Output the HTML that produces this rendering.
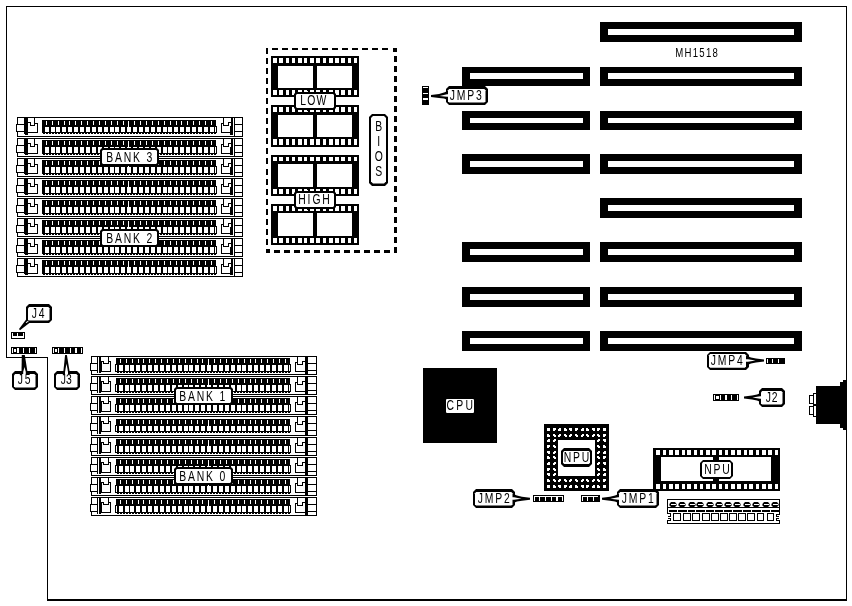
<!DOCTYPE html>
<html><head><meta charset="utf-8"><title>MH1518</title>
<style>
html,body{margin:0;padding:0;background:#fff;}
svg{display:block;filter:grayscale(1);}
text{font-family:"Liberation Sans",sans-serif;}
</style></head>
<body>
<svg width="852" height="606" viewBox="0 0 852 606" shape-rendering="crispEdges">
<rect x="0" y="0" width="852" height="606" fill="#fff"/>
<rect x="6" y="6" width="841" height="1" fill="#000"/>
<rect x="6" y="6" width="1" height="352" fill="#000"/>
<rect x="846" y="6" width="1" height="595" fill="#000"/>
<rect x="6" y="357" width="42" height="1" fill="#000"/>
<rect x="47" y="357" width="1" height="244" fill="#000"/>
<rect x="47" y="599" width="800" height="2" fill="#000"/>
<rect x="600" y="22" width="202" height="20" fill="#000"/>
<rect x="608" y="29" width="186" height="6" fill="#fff"/>
<rect x="600" y="67" width="202" height="19" fill="#000"/>
<rect x="608" y="73" width="186" height="6" fill="#fff"/>
<rect x="462" y="67" width="128" height="19" fill="#000"/>
<rect x="470" y="73" width="113" height="6" fill="#fff"/>
<rect x="600" y="111" width="202" height="19" fill="#000"/>
<rect x="608" y="118" width="186" height="5" fill="#fff"/>
<rect x="462" y="111" width="128" height="19" fill="#000"/>
<rect x="470" y="118" width="113" height="5" fill="#fff"/>
<rect x="600" y="154" width="202" height="20" fill="#000"/>
<rect x="608" y="161" width="186" height="6" fill="#fff"/>
<rect x="462" y="154" width="128" height="20" fill="#000"/>
<rect x="470" y="161" width="113" height="6" fill="#fff"/>
<rect x="600" y="198" width="202" height="20" fill="#000"/>
<rect x="608" y="205" width="186" height="6" fill="#fff"/>
<rect x="600" y="242" width="202" height="20" fill="#000"/>
<rect x="608" y="249" width="186" height="6" fill="#fff"/>
<rect x="462" y="242" width="128" height="20" fill="#000"/>
<rect x="470" y="249" width="113" height="6" fill="#fff"/>
<rect x="600" y="287" width="202" height="20" fill="#000"/>
<rect x="608" y="294" width="186" height="6" fill="#fff"/>
<rect x="462" y="287" width="128" height="20" fill="#000"/>
<rect x="470" y="294" width="113" height="6" fill="#fff"/>
<rect x="600" y="331" width="202" height="20" fill="#000"/>
<rect x="608" y="338" width="186" height="6" fill="#fff"/>
<rect x="462" y="331" width="128" height="20" fill="#000"/>
<rect x="470" y="338" width="113" height="6" fill="#fff"/>
<rect x="17" y="117" width="226" height="20" fill="#000"/>
<rect x="18" y="118" width="224" height="18" fill="#fff"/>
<rect x="16" y="124" width="9" height="8" fill="#000"/>
<rect x="17" y="125" width="7" height="6" fill="#fff"/>
<rect x="24" y="117" width="4" height="17" fill="#000"/>
<rect x="25" y="134" width="3" height="1" fill="#000"/>
<rect x="28" y="122" width="3" height="1" fill="#000"/>
<rect x="30" y="122" width="1" height="4" fill="#000"/>
<rect x="30" y="125" width="5" height="1" fill="#000"/>
<rect x="34" y="117" width="1" height="9" fill="#000"/>
<rect x="35" y="123" width="3" height="1" fill="#000"/>
<rect x="37" y="123" width="1" height="10" fill="#000"/>
<rect x="28" y="132" width="10" height="1" fill="#000"/>
<rect x="42" y="120" width="174" height="13" fill="#000"/>
<rect x="216" y="126" width="1" height="7" fill="#000"/>
<rect x="43" y="133" width="2" height="1" fill="#000"/>
<rect x="46" y="133" width="2" height="1" fill="#000"/>
<rect x="49" y="133" width="2" height="1" fill="#000"/>
<rect x="52" y="133" width="2" height="1" fill="#000"/>
<rect x="55" y="133" width="2" height="1" fill="#000"/>
<rect x="58" y="133" width="2" height="1" fill="#000"/>
<rect x="61" y="133" width="2" height="1" fill="#000"/>
<rect x="64" y="133" width="2" height="1" fill="#000"/>
<rect x="67" y="133" width="2" height="1" fill="#000"/>
<rect x="70" y="133" width="2" height="1" fill="#000"/>
<rect x="73" y="133" width="2" height="1" fill="#000"/>
<rect x="76" y="133" width="2" height="1" fill="#000"/>
<rect x="79" y="133" width="2" height="1" fill="#000"/>
<rect x="82" y="133" width="2" height="1" fill="#000"/>
<rect x="85" y="133" width="2" height="1" fill="#000"/>
<rect x="88" y="133" width="2" height="1" fill="#000"/>
<rect x="91" y="133" width="2" height="1" fill="#000"/>
<rect x="94" y="133" width="2" height="1" fill="#000"/>
<rect x="97" y="133" width="2" height="1" fill="#000"/>
<rect x="100" y="133" width="2" height="1" fill="#000"/>
<rect x="103" y="133" width="2" height="1" fill="#000"/>
<rect x="106" y="133" width="2" height="1" fill="#000"/>
<rect x="109" y="133" width="2" height="1" fill="#000"/>
<rect x="112" y="133" width="2" height="1" fill="#000"/>
<rect x="115" y="133" width="2" height="1" fill="#000"/>
<rect x="118" y="133" width="2" height="1" fill="#000"/>
<rect x="121" y="133" width="2" height="1" fill="#000"/>
<rect x="124" y="133" width="2" height="1" fill="#000"/>
<rect x="127" y="133" width="2" height="1" fill="#000"/>
<rect x="130" y="133" width="2" height="1" fill="#000"/>
<rect x="133" y="133" width="2" height="1" fill="#000"/>
<rect x="136" y="133" width="2" height="1" fill="#000"/>
<rect x="139" y="133" width="2" height="1" fill="#000"/>
<rect x="142" y="133" width="2" height="1" fill="#000"/>
<rect x="145" y="133" width="2" height="1" fill="#000"/>
<rect x="148" y="133" width="2" height="1" fill="#000"/>
<rect x="151" y="133" width="2" height="1" fill="#000"/>
<rect x="154" y="133" width="2" height="1" fill="#000"/>
<rect x="157" y="133" width="2" height="1" fill="#000"/>
<rect x="160" y="133" width="2" height="1" fill="#000"/>
<rect x="163" y="133" width="2" height="1" fill="#000"/>
<rect x="166" y="133" width="2" height="1" fill="#000"/>
<rect x="169" y="133" width="2" height="1" fill="#000"/>
<rect x="172" y="133" width="2" height="1" fill="#000"/>
<rect x="175" y="133" width="2" height="1" fill="#000"/>
<rect x="178" y="133" width="2" height="1" fill="#000"/>
<rect x="181" y="133" width="2" height="1" fill="#000"/>
<rect x="184" y="133" width="2" height="1" fill="#000"/>
<rect x="187" y="133" width="2" height="1" fill="#000"/>
<rect x="190" y="133" width="2" height="1" fill="#000"/>
<rect x="193" y="133" width="2" height="1" fill="#000"/>
<rect x="196" y="133" width="2" height="1" fill="#000"/>
<rect x="199" y="133" width="2" height="1" fill="#000"/>
<rect x="202" y="133" width="2" height="1" fill="#000"/>
<rect x="205" y="133" width="2" height="1" fill="#000"/>
<rect x="208" y="133" width="2" height="1" fill="#000"/>
<rect x="211" y="133" width="2" height="1" fill="#000"/>
<rect x="214" y="133" width="2" height="1" fill="#000"/>
<rect x="46" y="121" width="1" height="4" fill="#fff"/>
<rect x="45" y="127" width="4" height="5" fill="#fff"/>
<rect x="52" y="121" width="1" height="4" fill="#fff"/>
<rect x="51" y="127" width="4" height="5" fill="#fff"/>
<rect x="58" y="121" width="1" height="4" fill="#fff"/>
<rect x="56" y="127" width="4" height="5" fill="#fff"/>
<rect x="64" y="121" width="1" height="4" fill="#fff"/>
<rect x="62" y="127" width="4" height="5" fill="#fff"/>
<rect x="69" y="121" width="1" height="4" fill="#fff"/>
<rect x="68" y="127" width="4" height="5" fill="#fff"/>
<rect x="75" y="121" width="1" height="4" fill="#fff"/>
<rect x="74" y="127" width="4" height="5" fill="#fff"/>
<rect x="81" y="121" width="1" height="4" fill="#fff"/>
<rect x="80" y="127" width="4" height="5" fill="#fff"/>
<rect x="87" y="121" width="1" height="4" fill="#fff"/>
<rect x="86" y="127" width="4" height="5" fill="#fff"/>
<rect x="93" y="121" width="1" height="4" fill="#fff"/>
<rect x="92" y="127" width="4" height="5" fill="#fff"/>
<rect x="99" y="121" width="1" height="4" fill="#fff"/>
<rect x="98" y="127" width="4" height="5" fill="#fff"/>
<rect x="105" y="121" width="1" height="4" fill="#fff"/>
<rect x="104" y="127" width="4" height="5" fill="#fff"/>
<rect x="111" y="121" width="1" height="4" fill="#fff"/>
<rect x="110" y="127" width="4" height="5" fill="#fff"/>
<rect x="117" y="121" width="1" height="4" fill="#fff"/>
<rect x="115" y="127" width="4" height="5" fill="#fff"/>
<rect x="123" y="121" width="1" height="4" fill="#fff"/>
<rect x="121" y="127" width="4" height="5" fill="#fff"/>
<rect x="128" y="121" width="1" height="6" fill="#fff"/>
<rect x="127" y="127" width="4" height="5" fill="#fff"/>
<rect x="134" y="121" width="1" height="4" fill="#fff"/>
<rect x="133" y="127" width="4" height="5" fill="#fff"/>
<rect x="140" y="121" width="1" height="4" fill="#fff"/>
<rect x="139" y="127" width="4" height="5" fill="#fff"/>
<rect x="146" y="121" width="1" height="4" fill="#fff"/>
<rect x="145" y="127" width="4" height="5" fill="#fff"/>
<rect x="152" y="121" width="1" height="4" fill="#fff"/>
<rect x="151" y="127" width="4" height="5" fill="#fff"/>
<rect x="158" y="121" width="1" height="4" fill="#fff"/>
<rect x="157" y="127" width="4" height="5" fill="#fff"/>
<rect x="164" y="121" width="1" height="4" fill="#fff"/>
<rect x="163" y="127" width="4" height="5" fill="#fff"/>
<rect x="170" y="121" width="1" height="4" fill="#fff"/>
<rect x="168" y="127" width="4" height="5" fill="#fff"/>
<rect x="176" y="121" width="1" height="4" fill="#fff"/>
<rect x="174" y="127" width="4" height="5" fill="#fff"/>
<rect x="181" y="121" width="1" height="4" fill="#fff"/>
<rect x="180" y="127" width="4" height="5" fill="#fff"/>
<rect x="187" y="121" width="1" height="4" fill="#fff"/>
<rect x="186" y="127" width="4" height="5" fill="#fff"/>
<rect x="193" y="121" width="1" height="4" fill="#fff"/>
<rect x="192" y="127" width="4" height="5" fill="#fff"/>
<rect x="199" y="121" width="1" height="4" fill="#fff"/>
<rect x="198" y="127" width="4" height="5" fill="#fff"/>
<rect x="205" y="121" width="1" height="4" fill="#fff"/>
<rect x="204" y="127" width="4" height="5" fill="#fff"/>
<rect x="211" y="121" width="1" height="4" fill="#fff"/>
<rect x="210" y="127" width="4" height="5" fill="#fff"/>
<rect x="215" y="127" width="1" height="5" fill="#fff"/>
<rect x="234" y="117" width="1" height="20" fill="#000"/>
<rect x="231" y="117" width="2" height="18" fill="#000"/>
<rect x="230" y="126" width="1" height="9" fill="#000"/>
<rect x="234" y="124" width="9" height="1" fill="#000"/>
<rect x="234" y="131" width="9" height="1" fill="#000"/>
<rect x="221" y="123" width="1" height="10" fill="#000"/>
<rect x="221" y="123" width="3" height="1" fill="#000"/>
<rect x="221" y="132" width="10" height="1" fill="#000"/>
<rect x="223" y="117" width="1" height="9" fill="#000"/>
<rect x="223" y="125" width="6" height="1" fill="#000"/>
<rect x="228" y="122" width="1" height="4" fill="#000"/>
<rect x="228" y="122" width="3" height="1" fill="#000"/>
<rect x="17" y="138" width="226" height="19" fill="#000"/>
<rect x="18" y="139" width="224" height="17" fill="#fff"/>
<rect x="16" y="145" width="9" height="8" fill="#000"/>
<rect x="17" y="146" width="7" height="6" fill="#fff"/>
<rect x="24" y="138" width="4" height="16" fill="#000"/>
<rect x="25" y="154" width="3" height="1" fill="#000"/>
<rect x="28" y="143" width="3" height="1" fill="#000"/>
<rect x="30" y="143" width="1" height="4" fill="#000"/>
<rect x="30" y="146" width="5" height="1" fill="#000"/>
<rect x="34" y="138" width="1" height="9" fill="#000"/>
<rect x="35" y="144" width="3" height="1" fill="#000"/>
<rect x="37" y="144" width="1" height="10" fill="#000"/>
<rect x="28" y="153" width="10" height="1" fill="#000"/>
<rect x="42" y="140" width="174" height="14" fill="#000"/>
<rect x="216" y="146" width="1" height="8" fill="#000"/>
<rect x="43" y="154" width="2" height="1" fill="#000"/>
<rect x="46" y="154" width="2" height="1" fill="#000"/>
<rect x="49" y="154" width="2" height="1" fill="#000"/>
<rect x="52" y="154" width="2" height="1" fill="#000"/>
<rect x="55" y="154" width="2" height="1" fill="#000"/>
<rect x="58" y="154" width="2" height="1" fill="#000"/>
<rect x="61" y="154" width="2" height="1" fill="#000"/>
<rect x="64" y="154" width="2" height="1" fill="#000"/>
<rect x="67" y="154" width="2" height="1" fill="#000"/>
<rect x="70" y="154" width="2" height="1" fill="#000"/>
<rect x="73" y="154" width="2" height="1" fill="#000"/>
<rect x="76" y="154" width="2" height="1" fill="#000"/>
<rect x="79" y="154" width="2" height="1" fill="#000"/>
<rect x="82" y="154" width="2" height="1" fill="#000"/>
<rect x="85" y="154" width="2" height="1" fill="#000"/>
<rect x="88" y="154" width="2" height="1" fill="#000"/>
<rect x="91" y="154" width="2" height="1" fill="#000"/>
<rect x="94" y="154" width="2" height="1" fill="#000"/>
<rect x="97" y="154" width="2" height="1" fill="#000"/>
<rect x="100" y="154" width="2" height="1" fill="#000"/>
<rect x="103" y="154" width="2" height="1" fill="#000"/>
<rect x="106" y="154" width="2" height="1" fill="#000"/>
<rect x="109" y="154" width="2" height="1" fill="#000"/>
<rect x="112" y="154" width="2" height="1" fill="#000"/>
<rect x="115" y="154" width="2" height="1" fill="#000"/>
<rect x="118" y="154" width="2" height="1" fill="#000"/>
<rect x="121" y="154" width="2" height="1" fill="#000"/>
<rect x="124" y="154" width="2" height="1" fill="#000"/>
<rect x="127" y="154" width="2" height="1" fill="#000"/>
<rect x="130" y="154" width="2" height="1" fill="#000"/>
<rect x="133" y="154" width="2" height="1" fill="#000"/>
<rect x="136" y="154" width="2" height="1" fill="#000"/>
<rect x="139" y="154" width="2" height="1" fill="#000"/>
<rect x="142" y="154" width="2" height="1" fill="#000"/>
<rect x="145" y="154" width="2" height="1" fill="#000"/>
<rect x="148" y="154" width="2" height="1" fill="#000"/>
<rect x="151" y="154" width="2" height="1" fill="#000"/>
<rect x="154" y="154" width="2" height="1" fill="#000"/>
<rect x="157" y="154" width="2" height="1" fill="#000"/>
<rect x="160" y="154" width="2" height="1" fill="#000"/>
<rect x="163" y="154" width="2" height="1" fill="#000"/>
<rect x="166" y="154" width="2" height="1" fill="#000"/>
<rect x="169" y="154" width="2" height="1" fill="#000"/>
<rect x="172" y="154" width="2" height="1" fill="#000"/>
<rect x="175" y="154" width="2" height="1" fill="#000"/>
<rect x="178" y="154" width="2" height="1" fill="#000"/>
<rect x="181" y="154" width="2" height="1" fill="#000"/>
<rect x="184" y="154" width="2" height="1" fill="#000"/>
<rect x="187" y="154" width="2" height="1" fill="#000"/>
<rect x="190" y="154" width="2" height="1" fill="#000"/>
<rect x="193" y="154" width="2" height="1" fill="#000"/>
<rect x="196" y="154" width="2" height="1" fill="#000"/>
<rect x="199" y="154" width="2" height="1" fill="#000"/>
<rect x="202" y="154" width="2" height="1" fill="#000"/>
<rect x="205" y="154" width="2" height="1" fill="#000"/>
<rect x="208" y="154" width="2" height="1" fill="#000"/>
<rect x="211" y="154" width="2" height="1" fill="#000"/>
<rect x="214" y="154" width="2" height="1" fill="#000"/>
<rect x="46" y="141" width="1" height="4" fill="#fff"/>
<rect x="45" y="147" width="4" height="6" fill="#fff"/>
<rect x="52" y="141" width="1" height="4" fill="#fff"/>
<rect x="51" y="147" width="4" height="6" fill="#fff"/>
<rect x="58" y="141" width="1" height="4" fill="#fff"/>
<rect x="56" y="147" width="4" height="6" fill="#fff"/>
<rect x="64" y="141" width="1" height="4" fill="#fff"/>
<rect x="62" y="147" width="4" height="6" fill="#fff"/>
<rect x="69" y="141" width="1" height="4" fill="#fff"/>
<rect x="68" y="147" width="4" height="6" fill="#fff"/>
<rect x="75" y="141" width="1" height="4" fill="#fff"/>
<rect x="74" y="147" width="4" height="6" fill="#fff"/>
<rect x="81" y="141" width="1" height="4" fill="#fff"/>
<rect x="80" y="147" width="4" height="6" fill="#fff"/>
<rect x="87" y="141" width="1" height="4" fill="#fff"/>
<rect x="86" y="147" width="4" height="6" fill="#fff"/>
<rect x="93" y="141" width="1" height="4" fill="#fff"/>
<rect x="92" y="147" width="4" height="6" fill="#fff"/>
<rect x="99" y="141" width="1" height="4" fill="#fff"/>
<rect x="98" y="147" width="4" height="6" fill="#fff"/>
<rect x="105" y="141" width="1" height="4" fill="#fff"/>
<rect x="104" y="147" width="4" height="6" fill="#fff"/>
<rect x="111" y="141" width="1" height="4" fill="#fff"/>
<rect x="110" y="147" width="4" height="6" fill="#fff"/>
<rect x="117" y="141" width="1" height="4" fill="#fff"/>
<rect x="115" y="147" width="4" height="6" fill="#fff"/>
<rect x="123" y="141" width="1" height="4" fill="#fff"/>
<rect x="121" y="147" width="4" height="6" fill="#fff"/>
<rect x="128" y="141" width="1" height="6" fill="#fff"/>
<rect x="127" y="147" width="4" height="6" fill="#fff"/>
<rect x="134" y="141" width="1" height="4" fill="#fff"/>
<rect x="133" y="147" width="4" height="6" fill="#fff"/>
<rect x="140" y="141" width="1" height="4" fill="#fff"/>
<rect x="139" y="147" width="4" height="6" fill="#fff"/>
<rect x="146" y="141" width="1" height="4" fill="#fff"/>
<rect x="145" y="147" width="4" height="6" fill="#fff"/>
<rect x="152" y="141" width="1" height="4" fill="#fff"/>
<rect x="151" y="147" width="4" height="6" fill="#fff"/>
<rect x="158" y="141" width="1" height="4" fill="#fff"/>
<rect x="157" y="147" width="4" height="6" fill="#fff"/>
<rect x="164" y="141" width="1" height="4" fill="#fff"/>
<rect x="163" y="147" width="4" height="6" fill="#fff"/>
<rect x="170" y="141" width="1" height="4" fill="#fff"/>
<rect x="168" y="147" width="4" height="6" fill="#fff"/>
<rect x="176" y="141" width="1" height="4" fill="#fff"/>
<rect x="174" y="147" width="4" height="6" fill="#fff"/>
<rect x="181" y="141" width="1" height="4" fill="#fff"/>
<rect x="180" y="147" width="4" height="6" fill="#fff"/>
<rect x="187" y="141" width="1" height="4" fill="#fff"/>
<rect x="186" y="147" width="4" height="6" fill="#fff"/>
<rect x="193" y="141" width="1" height="4" fill="#fff"/>
<rect x="192" y="147" width="4" height="6" fill="#fff"/>
<rect x="199" y="141" width="1" height="4" fill="#fff"/>
<rect x="198" y="147" width="4" height="6" fill="#fff"/>
<rect x="205" y="141" width="1" height="4" fill="#fff"/>
<rect x="204" y="147" width="4" height="6" fill="#fff"/>
<rect x="211" y="141" width="1" height="4" fill="#fff"/>
<rect x="210" y="147" width="4" height="6" fill="#fff"/>
<rect x="215" y="147" width="1" height="6" fill="#fff"/>
<rect x="234" y="138" width="1" height="19" fill="#000"/>
<rect x="231" y="138" width="2" height="17" fill="#000"/>
<rect x="230" y="147" width="1" height="8" fill="#000"/>
<rect x="234" y="145" width="9" height="1" fill="#000"/>
<rect x="234" y="152" width="9" height="1" fill="#000"/>
<rect x="221" y="144" width="1" height="10" fill="#000"/>
<rect x="221" y="144" width="3" height="1" fill="#000"/>
<rect x="221" y="153" width="10" height="1" fill="#000"/>
<rect x="223" y="138" width="1" height="9" fill="#000"/>
<rect x="223" y="146" width="6" height="1" fill="#000"/>
<rect x="228" y="143" width="1" height="4" fill="#000"/>
<rect x="228" y="143" width="3" height="1" fill="#000"/>
<rect x="17" y="158" width="226" height="19" fill="#000"/>
<rect x="18" y="159" width="224" height="17" fill="#fff"/>
<rect x="16" y="165" width="9" height="8" fill="#000"/>
<rect x="17" y="166" width="7" height="6" fill="#fff"/>
<rect x="24" y="158" width="4" height="16" fill="#000"/>
<rect x="25" y="174" width="3" height="1" fill="#000"/>
<rect x="28" y="163" width="3" height="1" fill="#000"/>
<rect x="30" y="163" width="1" height="4" fill="#000"/>
<rect x="30" y="166" width="5" height="1" fill="#000"/>
<rect x="34" y="158" width="1" height="9" fill="#000"/>
<rect x="35" y="164" width="3" height="1" fill="#000"/>
<rect x="37" y="164" width="1" height="10" fill="#000"/>
<rect x="28" y="173" width="10" height="1" fill="#000"/>
<rect x="42" y="160" width="174" height="14" fill="#000"/>
<rect x="216" y="166" width="1" height="8" fill="#000"/>
<rect x="43" y="174" width="2" height="1" fill="#000"/>
<rect x="46" y="174" width="2" height="1" fill="#000"/>
<rect x="49" y="174" width="2" height="1" fill="#000"/>
<rect x="52" y="174" width="2" height="1" fill="#000"/>
<rect x="55" y="174" width="2" height="1" fill="#000"/>
<rect x="58" y="174" width="2" height="1" fill="#000"/>
<rect x="61" y="174" width="2" height="1" fill="#000"/>
<rect x="64" y="174" width="2" height="1" fill="#000"/>
<rect x="67" y="174" width="2" height="1" fill="#000"/>
<rect x="70" y="174" width="2" height="1" fill="#000"/>
<rect x="73" y="174" width="2" height="1" fill="#000"/>
<rect x="76" y="174" width="2" height="1" fill="#000"/>
<rect x="79" y="174" width="2" height="1" fill="#000"/>
<rect x="82" y="174" width="2" height="1" fill="#000"/>
<rect x="85" y="174" width="2" height="1" fill="#000"/>
<rect x="88" y="174" width="2" height="1" fill="#000"/>
<rect x="91" y="174" width="2" height="1" fill="#000"/>
<rect x="94" y="174" width="2" height="1" fill="#000"/>
<rect x="97" y="174" width="2" height="1" fill="#000"/>
<rect x="100" y="174" width="2" height="1" fill="#000"/>
<rect x="103" y="174" width="2" height="1" fill="#000"/>
<rect x="106" y="174" width="2" height="1" fill="#000"/>
<rect x="109" y="174" width="2" height="1" fill="#000"/>
<rect x="112" y="174" width="2" height="1" fill="#000"/>
<rect x="115" y="174" width="2" height="1" fill="#000"/>
<rect x="118" y="174" width="2" height="1" fill="#000"/>
<rect x="121" y="174" width="2" height="1" fill="#000"/>
<rect x="124" y="174" width="2" height="1" fill="#000"/>
<rect x="127" y="174" width="2" height="1" fill="#000"/>
<rect x="130" y="174" width="2" height="1" fill="#000"/>
<rect x="133" y="174" width="2" height="1" fill="#000"/>
<rect x="136" y="174" width="2" height="1" fill="#000"/>
<rect x="139" y="174" width="2" height="1" fill="#000"/>
<rect x="142" y="174" width="2" height="1" fill="#000"/>
<rect x="145" y="174" width="2" height="1" fill="#000"/>
<rect x="148" y="174" width="2" height="1" fill="#000"/>
<rect x="151" y="174" width="2" height="1" fill="#000"/>
<rect x="154" y="174" width="2" height="1" fill="#000"/>
<rect x="157" y="174" width="2" height="1" fill="#000"/>
<rect x="160" y="174" width="2" height="1" fill="#000"/>
<rect x="163" y="174" width="2" height="1" fill="#000"/>
<rect x="166" y="174" width="2" height="1" fill="#000"/>
<rect x="169" y="174" width="2" height="1" fill="#000"/>
<rect x="172" y="174" width="2" height="1" fill="#000"/>
<rect x="175" y="174" width="2" height="1" fill="#000"/>
<rect x="178" y="174" width="2" height="1" fill="#000"/>
<rect x="181" y="174" width="2" height="1" fill="#000"/>
<rect x="184" y="174" width="2" height="1" fill="#000"/>
<rect x="187" y="174" width="2" height="1" fill="#000"/>
<rect x="190" y="174" width="2" height="1" fill="#000"/>
<rect x="193" y="174" width="2" height="1" fill="#000"/>
<rect x="196" y="174" width="2" height="1" fill="#000"/>
<rect x="199" y="174" width="2" height="1" fill="#000"/>
<rect x="202" y="174" width="2" height="1" fill="#000"/>
<rect x="205" y="174" width="2" height="1" fill="#000"/>
<rect x="208" y="174" width="2" height="1" fill="#000"/>
<rect x="211" y="174" width="2" height="1" fill="#000"/>
<rect x="214" y="174" width="2" height="1" fill="#000"/>
<rect x="46" y="161" width="1" height="4" fill="#fff"/>
<rect x="45" y="167" width="4" height="6" fill="#fff"/>
<rect x="52" y="161" width="1" height="4" fill="#fff"/>
<rect x="51" y="167" width="4" height="6" fill="#fff"/>
<rect x="58" y="161" width="1" height="4" fill="#fff"/>
<rect x="56" y="167" width="4" height="6" fill="#fff"/>
<rect x="64" y="161" width="1" height="4" fill="#fff"/>
<rect x="62" y="167" width="4" height="6" fill="#fff"/>
<rect x="69" y="161" width="1" height="4" fill="#fff"/>
<rect x="68" y="167" width="4" height="6" fill="#fff"/>
<rect x="75" y="161" width="1" height="4" fill="#fff"/>
<rect x="74" y="167" width="4" height="6" fill="#fff"/>
<rect x="81" y="161" width="1" height="4" fill="#fff"/>
<rect x="80" y="167" width="4" height="6" fill="#fff"/>
<rect x="87" y="161" width="1" height="4" fill="#fff"/>
<rect x="86" y="167" width="4" height="6" fill="#fff"/>
<rect x="93" y="161" width="1" height="4" fill="#fff"/>
<rect x="92" y="167" width="4" height="6" fill="#fff"/>
<rect x="99" y="161" width="1" height="4" fill="#fff"/>
<rect x="98" y="167" width="4" height="6" fill="#fff"/>
<rect x="105" y="161" width="1" height="4" fill="#fff"/>
<rect x="104" y="167" width="4" height="6" fill="#fff"/>
<rect x="111" y="161" width="1" height="4" fill="#fff"/>
<rect x="110" y="167" width="4" height="6" fill="#fff"/>
<rect x="117" y="161" width="1" height="4" fill="#fff"/>
<rect x="115" y="167" width="4" height="6" fill="#fff"/>
<rect x="123" y="161" width="1" height="4" fill="#fff"/>
<rect x="121" y="167" width="4" height="6" fill="#fff"/>
<rect x="128" y="161" width="1" height="6" fill="#fff"/>
<rect x="127" y="167" width="4" height="6" fill="#fff"/>
<rect x="134" y="161" width="1" height="4" fill="#fff"/>
<rect x="133" y="167" width="4" height="6" fill="#fff"/>
<rect x="140" y="161" width="1" height="4" fill="#fff"/>
<rect x="139" y="167" width="4" height="6" fill="#fff"/>
<rect x="146" y="161" width="1" height="4" fill="#fff"/>
<rect x="145" y="167" width="4" height="6" fill="#fff"/>
<rect x="152" y="161" width="1" height="4" fill="#fff"/>
<rect x="151" y="167" width="4" height="6" fill="#fff"/>
<rect x="158" y="161" width="1" height="4" fill="#fff"/>
<rect x="157" y="167" width="4" height="6" fill="#fff"/>
<rect x="164" y="161" width="1" height="4" fill="#fff"/>
<rect x="163" y="167" width="4" height="6" fill="#fff"/>
<rect x="170" y="161" width="1" height="4" fill="#fff"/>
<rect x="168" y="167" width="4" height="6" fill="#fff"/>
<rect x="176" y="161" width="1" height="4" fill="#fff"/>
<rect x="174" y="167" width="4" height="6" fill="#fff"/>
<rect x="181" y="161" width="1" height="4" fill="#fff"/>
<rect x="180" y="167" width="4" height="6" fill="#fff"/>
<rect x="187" y="161" width="1" height="4" fill="#fff"/>
<rect x="186" y="167" width="4" height="6" fill="#fff"/>
<rect x="193" y="161" width="1" height="4" fill="#fff"/>
<rect x="192" y="167" width="4" height="6" fill="#fff"/>
<rect x="199" y="161" width="1" height="4" fill="#fff"/>
<rect x="198" y="167" width="4" height="6" fill="#fff"/>
<rect x="205" y="161" width="1" height="4" fill="#fff"/>
<rect x="204" y="167" width="4" height="6" fill="#fff"/>
<rect x="211" y="161" width="1" height="4" fill="#fff"/>
<rect x="210" y="167" width="4" height="6" fill="#fff"/>
<rect x="215" y="167" width="1" height="6" fill="#fff"/>
<rect x="234" y="158" width="1" height="19" fill="#000"/>
<rect x="231" y="158" width="2" height="17" fill="#000"/>
<rect x="230" y="167" width="1" height="8" fill="#000"/>
<rect x="234" y="165" width="9" height="1" fill="#000"/>
<rect x="234" y="172" width="9" height="1" fill="#000"/>
<rect x="221" y="164" width="1" height="10" fill="#000"/>
<rect x="221" y="164" width="3" height="1" fill="#000"/>
<rect x="221" y="173" width="10" height="1" fill="#000"/>
<rect x="223" y="158" width="1" height="9" fill="#000"/>
<rect x="223" y="166" width="6" height="1" fill="#000"/>
<rect x="228" y="163" width="1" height="4" fill="#000"/>
<rect x="228" y="163" width="3" height="1" fill="#000"/>
<rect x="17" y="178" width="226" height="19" fill="#000"/>
<rect x="18" y="179" width="224" height="17" fill="#fff"/>
<rect x="16" y="185" width="9" height="8" fill="#000"/>
<rect x="17" y="186" width="7" height="6" fill="#fff"/>
<rect x="24" y="178" width="4" height="16" fill="#000"/>
<rect x="25" y="194" width="3" height="1" fill="#000"/>
<rect x="28" y="183" width="3" height="1" fill="#000"/>
<rect x="30" y="183" width="1" height="4" fill="#000"/>
<rect x="30" y="186" width="5" height="1" fill="#000"/>
<rect x="34" y="178" width="1" height="9" fill="#000"/>
<rect x="35" y="184" width="3" height="1" fill="#000"/>
<rect x="37" y="184" width="1" height="10" fill="#000"/>
<rect x="28" y="193" width="10" height="1" fill="#000"/>
<rect x="42" y="180" width="174" height="14" fill="#000"/>
<rect x="216" y="186" width="1" height="8" fill="#000"/>
<rect x="43" y="194" width="2" height="1" fill="#000"/>
<rect x="46" y="194" width="2" height="1" fill="#000"/>
<rect x="49" y="194" width="2" height="1" fill="#000"/>
<rect x="52" y="194" width="2" height="1" fill="#000"/>
<rect x="55" y="194" width="2" height="1" fill="#000"/>
<rect x="58" y="194" width="2" height="1" fill="#000"/>
<rect x="61" y="194" width="2" height="1" fill="#000"/>
<rect x="64" y="194" width="2" height="1" fill="#000"/>
<rect x="67" y="194" width="2" height="1" fill="#000"/>
<rect x="70" y="194" width="2" height="1" fill="#000"/>
<rect x="73" y="194" width="2" height="1" fill="#000"/>
<rect x="76" y="194" width="2" height="1" fill="#000"/>
<rect x="79" y="194" width="2" height="1" fill="#000"/>
<rect x="82" y="194" width="2" height="1" fill="#000"/>
<rect x="85" y="194" width="2" height="1" fill="#000"/>
<rect x="88" y="194" width="2" height="1" fill="#000"/>
<rect x="91" y="194" width="2" height="1" fill="#000"/>
<rect x="94" y="194" width="2" height="1" fill="#000"/>
<rect x="97" y="194" width="2" height="1" fill="#000"/>
<rect x="100" y="194" width="2" height="1" fill="#000"/>
<rect x="103" y="194" width="2" height="1" fill="#000"/>
<rect x="106" y="194" width="2" height="1" fill="#000"/>
<rect x="109" y="194" width="2" height="1" fill="#000"/>
<rect x="112" y="194" width="2" height="1" fill="#000"/>
<rect x="115" y="194" width="2" height="1" fill="#000"/>
<rect x="118" y="194" width="2" height="1" fill="#000"/>
<rect x="121" y="194" width="2" height="1" fill="#000"/>
<rect x="124" y="194" width="2" height="1" fill="#000"/>
<rect x="127" y="194" width="2" height="1" fill="#000"/>
<rect x="130" y="194" width="2" height="1" fill="#000"/>
<rect x="133" y="194" width="2" height="1" fill="#000"/>
<rect x="136" y="194" width="2" height="1" fill="#000"/>
<rect x="139" y="194" width="2" height="1" fill="#000"/>
<rect x="142" y="194" width="2" height="1" fill="#000"/>
<rect x="145" y="194" width="2" height="1" fill="#000"/>
<rect x="148" y="194" width="2" height="1" fill="#000"/>
<rect x="151" y="194" width="2" height="1" fill="#000"/>
<rect x="154" y="194" width="2" height="1" fill="#000"/>
<rect x="157" y="194" width="2" height="1" fill="#000"/>
<rect x="160" y="194" width="2" height="1" fill="#000"/>
<rect x="163" y="194" width="2" height="1" fill="#000"/>
<rect x="166" y="194" width="2" height="1" fill="#000"/>
<rect x="169" y="194" width="2" height="1" fill="#000"/>
<rect x="172" y="194" width="2" height="1" fill="#000"/>
<rect x="175" y="194" width="2" height="1" fill="#000"/>
<rect x="178" y="194" width="2" height="1" fill="#000"/>
<rect x="181" y="194" width="2" height="1" fill="#000"/>
<rect x="184" y="194" width="2" height="1" fill="#000"/>
<rect x="187" y="194" width="2" height="1" fill="#000"/>
<rect x="190" y="194" width="2" height="1" fill="#000"/>
<rect x="193" y="194" width="2" height="1" fill="#000"/>
<rect x="196" y="194" width="2" height="1" fill="#000"/>
<rect x="199" y="194" width="2" height="1" fill="#000"/>
<rect x="202" y="194" width="2" height="1" fill="#000"/>
<rect x="205" y="194" width="2" height="1" fill="#000"/>
<rect x="208" y="194" width="2" height="1" fill="#000"/>
<rect x="211" y="194" width="2" height="1" fill="#000"/>
<rect x="214" y="194" width="2" height="1" fill="#000"/>
<rect x="46" y="181" width="1" height="4" fill="#fff"/>
<rect x="45" y="187" width="4" height="6" fill="#fff"/>
<rect x="52" y="181" width="1" height="4" fill="#fff"/>
<rect x="51" y="187" width="4" height="6" fill="#fff"/>
<rect x="58" y="181" width="1" height="4" fill="#fff"/>
<rect x="56" y="187" width="4" height="6" fill="#fff"/>
<rect x="64" y="181" width="1" height="4" fill="#fff"/>
<rect x="62" y="187" width="4" height="6" fill="#fff"/>
<rect x="69" y="181" width="1" height="4" fill="#fff"/>
<rect x="68" y="187" width="4" height="6" fill="#fff"/>
<rect x="75" y="181" width="1" height="4" fill="#fff"/>
<rect x="74" y="187" width="4" height="6" fill="#fff"/>
<rect x="81" y="181" width="1" height="4" fill="#fff"/>
<rect x="80" y="187" width="4" height="6" fill="#fff"/>
<rect x="87" y="181" width="1" height="4" fill="#fff"/>
<rect x="86" y="187" width="4" height="6" fill="#fff"/>
<rect x="93" y="181" width="1" height="4" fill="#fff"/>
<rect x="92" y="187" width="4" height="6" fill="#fff"/>
<rect x="99" y="181" width="1" height="4" fill="#fff"/>
<rect x="98" y="187" width="4" height="6" fill="#fff"/>
<rect x="105" y="181" width="1" height="4" fill="#fff"/>
<rect x="104" y="187" width="4" height="6" fill="#fff"/>
<rect x="111" y="181" width="1" height="4" fill="#fff"/>
<rect x="110" y="187" width="4" height="6" fill="#fff"/>
<rect x="117" y="181" width="1" height="4" fill="#fff"/>
<rect x="115" y="187" width="4" height="6" fill="#fff"/>
<rect x="123" y="181" width="1" height="4" fill="#fff"/>
<rect x="121" y="187" width="4" height="6" fill="#fff"/>
<rect x="128" y="181" width="1" height="6" fill="#fff"/>
<rect x="127" y="187" width="4" height="6" fill="#fff"/>
<rect x="134" y="181" width="1" height="4" fill="#fff"/>
<rect x="133" y="187" width="4" height="6" fill="#fff"/>
<rect x="140" y="181" width="1" height="4" fill="#fff"/>
<rect x="139" y="187" width="4" height="6" fill="#fff"/>
<rect x="146" y="181" width="1" height="4" fill="#fff"/>
<rect x="145" y="187" width="4" height="6" fill="#fff"/>
<rect x="152" y="181" width="1" height="4" fill="#fff"/>
<rect x="151" y="187" width="4" height="6" fill="#fff"/>
<rect x="158" y="181" width="1" height="4" fill="#fff"/>
<rect x="157" y="187" width="4" height="6" fill="#fff"/>
<rect x="164" y="181" width="1" height="4" fill="#fff"/>
<rect x="163" y="187" width="4" height="6" fill="#fff"/>
<rect x="170" y="181" width="1" height="4" fill="#fff"/>
<rect x="168" y="187" width="4" height="6" fill="#fff"/>
<rect x="176" y="181" width="1" height="4" fill="#fff"/>
<rect x="174" y="187" width="4" height="6" fill="#fff"/>
<rect x="181" y="181" width="1" height="4" fill="#fff"/>
<rect x="180" y="187" width="4" height="6" fill="#fff"/>
<rect x="187" y="181" width="1" height="4" fill="#fff"/>
<rect x="186" y="187" width="4" height="6" fill="#fff"/>
<rect x="193" y="181" width="1" height="4" fill="#fff"/>
<rect x="192" y="187" width="4" height="6" fill="#fff"/>
<rect x="199" y="181" width="1" height="4" fill="#fff"/>
<rect x="198" y="187" width="4" height="6" fill="#fff"/>
<rect x="205" y="181" width="1" height="4" fill="#fff"/>
<rect x="204" y="187" width="4" height="6" fill="#fff"/>
<rect x="211" y="181" width="1" height="4" fill="#fff"/>
<rect x="210" y="187" width="4" height="6" fill="#fff"/>
<rect x="215" y="187" width="1" height="6" fill="#fff"/>
<rect x="234" y="178" width="1" height="19" fill="#000"/>
<rect x="231" y="178" width="2" height="17" fill="#000"/>
<rect x="230" y="187" width="1" height="8" fill="#000"/>
<rect x="234" y="185" width="9" height="1" fill="#000"/>
<rect x="234" y="192" width="9" height="1" fill="#000"/>
<rect x="221" y="184" width="1" height="10" fill="#000"/>
<rect x="221" y="184" width="3" height="1" fill="#000"/>
<rect x="221" y="193" width="10" height="1" fill="#000"/>
<rect x="223" y="178" width="1" height="9" fill="#000"/>
<rect x="223" y="186" width="6" height="1" fill="#000"/>
<rect x="228" y="183" width="1" height="4" fill="#000"/>
<rect x="228" y="183" width="3" height="1" fill="#000"/>
<rect x="17" y="198" width="226" height="19" fill="#000"/>
<rect x="18" y="199" width="224" height="17" fill="#fff"/>
<rect x="16" y="205" width="9" height="8" fill="#000"/>
<rect x="17" y="206" width="7" height="6" fill="#fff"/>
<rect x="24" y="198" width="4" height="16" fill="#000"/>
<rect x="25" y="214" width="3" height="1" fill="#000"/>
<rect x="28" y="203" width="3" height="1" fill="#000"/>
<rect x="30" y="203" width="1" height="4" fill="#000"/>
<rect x="30" y="206" width="5" height="1" fill="#000"/>
<rect x="34" y="198" width="1" height="9" fill="#000"/>
<rect x="35" y="204" width="3" height="1" fill="#000"/>
<rect x="37" y="204" width="1" height="10" fill="#000"/>
<rect x="28" y="213" width="10" height="1" fill="#000"/>
<rect x="42" y="200" width="174" height="14" fill="#000"/>
<rect x="216" y="206" width="1" height="8" fill="#000"/>
<rect x="43" y="214" width="2" height="1" fill="#000"/>
<rect x="46" y="214" width="2" height="1" fill="#000"/>
<rect x="49" y="214" width="2" height="1" fill="#000"/>
<rect x="52" y="214" width="2" height="1" fill="#000"/>
<rect x="55" y="214" width="2" height="1" fill="#000"/>
<rect x="58" y="214" width="2" height="1" fill="#000"/>
<rect x="61" y="214" width="2" height="1" fill="#000"/>
<rect x="64" y="214" width="2" height="1" fill="#000"/>
<rect x="67" y="214" width="2" height="1" fill="#000"/>
<rect x="70" y="214" width="2" height="1" fill="#000"/>
<rect x="73" y="214" width="2" height="1" fill="#000"/>
<rect x="76" y="214" width="2" height="1" fill="#000"/>
<rect x="79" y="214" width="2" height="1" fill="#000"/>
<rect x="82" y="214" width="2" height="1" fill="#000"/>
<rect x="85" y="214" width="2" height="1" fill="#000"/>
<rect x="88" y="214" width="2" height="1" fill="#000"/>
<rect x="91" y="214" width="2" height="1" fill="#000"/>
<rect x="94" y="214" width="2" height="1" fill="#000"/>
<rect x="97" y="214" width="2" height="1" fill="#000"/>
<rect x="100" y="214" width="2" height="1" fill="#000"/>
<rect x="103" y="214" width="2" height="1" fill="#000"/>
<rect x="106" y="214" width="2" height="1" fill="#000"/>
<rect x="109" y="214" width="2" height="1" fill="#000"/>
<rect x="112" y="214" width="2" height="1" fill="#000"/>
<rect x="115" y="214" width="2" height="1" fill="#000"/>
<rect x="118" y="214" width="2" height="1" fill="#000"/>
<rect x="121" y="214" width="2" height="1" fill="#000"/>
<rect x="124" y="214" width="2" height="1" fill="#000"/>
<rect x="127" y="214" width="2" height="1" fill="#000"/>
<rect x="130" y="214" width="2" height="1" fill="#000"/>
<rect x="133" y="214" width="2" height="1" fill="#000"/>
<rect x="136" y="214" width="2" height="1" fill="#000"/>
<rect x="139" y="214" width="2" height="1" fill="#000"/>
<rect x="142" y="214" width="2" height="1" fill="#000"/>
<rect x="145" y="214" width="2" height="1" fill="#000"/>
<rect x="148" y="214" width="2" height="1" fill="#000"/>
<rect x="151" y="214" width="2" height="1" fill="#000"/>
<rect x="154" y="214" width="2" height="1" fill="#000"/>
<rect x="157" y="214" width="2" height="1" fill="#000"/>
<rect x="160" y="214" width="2" height="1" fill="#000"/>
<rect x="163" y="214" width="2" height="1" fill="#000"/>
<rect x="166" y="214" width="2" height="1" fill="#000"/>
<rect x="169" y="214" width="2" height="1" fill="#000"/>
<rect x="172" y="214" width="2" height="1" fill="#000"/>
<rect x="175" y="214" width="2" height="1" fill="#000"/>
<rect x="178" y="214" width="2" height="1" fill="#000"/>
<rect x="181" y="214" width="2" height="1" fill="#000"/>
<rect x="184" y="214" width="2" height="1" fill="#000"/>
<rect x="187" y="214" width="2" height="1" fill="#000"/>
<rect x="190" y="214" width="2" height="1" fill="#000"/>
<rect x="193" y="214" width="2" height="1" fill="#000"/>
<rect x="196" y="214" width="2" height="1" fill="#000"/>
<rect x="199" y="214" width="2" height="1" fill="#000"/>
<rect x="202" y="214" width="2" height="1" fill="#000"/>
<rect x="205" y="214" width="2" height="1" fill="#000"/>
<rect x="208" y="214" width="2" height="1" fill="#000"/>
<rect x="211" y="214" width="2" height="1" fill="#000"/>
<rect x="214" y="214" width="2" height="1" fill="#000"/>
<rect x="46" y="201" width="1" height="4" fill="#fff"/>
<rect x="45" y="207" width="4" height="6" fill="#fff"/>
<rect x="52" y="201" width="1" height="4" fill="#fff"/>
<rect x="51" y="207" width="4" height="6" fill="#fff"/>
<rect x="58" y="201" width="1" height="4" fill="#fff"/>
<rect x="56" y="207" width="4" height="6" fill="#fff"/>
<rect x="64" y="201" width="1" height="4" fill="#fff"/>
<rect x="62" y="207" width="4" height="6" fill="#fff"/>
<rect x="69" y="201" width="1" height="4" fill="#fff"/>
<rect x="68" y="207" width="4" height="6" fill="#fff"/>
<rect x="75" y="201" width="1" height="4" fill="#fff"/>
<rect x="74" y="207" width="4" height="6" fill="#fff"/>
<rect x="81" y="201" width="1" height="4" fill="#fff"/>
<rect x="80" y="207" width="4" height="6" fill="#fff"/>
<rect x="87" y="201" width="1" height="4" fill="#fff"/>
<rect x="86" y="207" width="4" height="6" fill="#fff"/>
<rect x="93" y="201" width="1" height="4" fill="#fff"/>
<rect x="92" y="207" width="4" height="6" fill="#fff"/>
<rect x="99" y="201" width="1" height="4" fill="#fff"/>
<rect x="98" y="207" width="4" height="6" fill="#fff"/>
<rect x="105" y="201" width="1" height="4" fill="#fff"/>
<rect x="104" y="207" width="4" height="6" fill="#fff"/>
<rect x="111" y="201" width="1" height="4" fill="#fff"/>
<rect x="110" y="207" width="4" height="6" fill="#fff"/>
<rect x="117" y="201" width="1" height="4" fill="#fff"/>
<rect x="115" y="207" width="4" height="6" fill="#fff"/>
<rect x="123" y="201" width="1" height="4" fill="#fff"/>
<rect x="121" y="207" width="4" height="6" fill="#fff"/>
<rect x="128" y="201" width="1" height="6" fill="#fff"/>
<rect x="127" y="207" width="4" height="6" fill="#fff"/>
<rect x="134" y="201" width="1" height="4" fill="#fff"/>
<rect x="133" y="207" width="4" height="6" fill="#fff"/>
<rect x="140" y="201" width="1" height="4" fill="#fff"/>
<rect x="139" y="207" width="4" height="6" fill="#fff"/>
<rect x="146" y="201" width="1" height="4" fill="#fff"/>
<rect x="145" y="207" width="4" height="6" fill="#fff"/>
<rect x="152" y="201" width="1" height="4" fill="#fff"/>
<rect x="151" y="207" width="4" height="6" fill="#fff"/>
<rect x="158" y="201" width="1" height="4" fill="#fff"/>
<rect x="157" y="207" width="4" height="6" fill="#fff"/>
<rect x="164" y="201" width="1" height="4" fill="#fff"/>
<rect x="163" y="207" width="4" height="6" fill="#fff"/>
<rect x="170" y="201" width="1" height="4" fill="#fff"/>
<rect x="168" y="207" width="4" height="6" fill="#fff"/>
<rect x="176" y="201" width="1" height="4" fill="#fff"/>
<rect x="174" y="207" width="4" height="6" fill="#fff"/>
<rect x="181" y="201" width="1" height="4" fill="#fff"/>
<rect x="180" y="207" width="4" height="6" fill="#fff"/>
<rect x="187" y="201" width="1" height="4" fill="#fff"/>
<rect x="186" y="207" width="4" height="6" fill="#fff"/>
<rect x="193" y="201" width="1" height="4" fill="#fff"/>
<rect x="192" y="207" width="4" height="6" fill="#fff"/>
<rect x="199" y="201" width="1" height="4" fill="#fff"/>
<rect x="198" y="207" width="4" height="6" fill="#fff"/>
<rect x="205" y="201" width="1" height="4" fill="#fff"/>
<rect x="204" y="207" width="4" height="6" fill="#fff"/>
<rect x="211" y="201" width="1" height="4" fill="#fff"/>
<rect x="210" y="207" width="4" height="6" fill="#fff"/>
<rect x="215" y="207" width="1" height="6" fill="#fff"/>
<rect x="234" y="198" width="1" height="19" fill="#000"/>
<rect x="231" y="198" width="2" height="17" fill="#000"/>
<rect x="230" y="207" width="1" height="8" fill="#000"/>
<rect x="234" y="205" width="9" height="1" fill="#000"/>
<rect x="234" y="212" width="9" height="1" fill="#000"/>
<rect x="221" y="204" width="1" height="10" fill="#000"/>
<rect x="221" y="204" width="3" height="1" fill="#000"/>
<rect x="221" y="213" width="10" height="1" fill="#000"/>
<rect x="223" y="198" width="1" height="9" fill="#000"/>
<rect x="223" y="206" width="6" height="1" fill="#000"/>
<rect x="228" y="203" width="1" height="4" fill="#000"/>
<rect x="228" y="203" width="3" height="1" fill="#000"/>
<rect x="17" y="218" width="226" height="19" fill="#000"/>
<rect x="18" y="219" width="224" height="17" fill="#fff"/>
<rect x="16" y="225" width="9" height="8" fill="#000"/>
<rect x="17" y="226" width="7" height="6" fill="#fff"/>
<rect x="24" y="218" width="4" height="16" fill="#000"/>
<rect x="25" y="234" width="3" height="1" fill="#000"/>
<rect x="28" y="223" width="3" height="1" fill="#000"/>
<rect x="30" y="223" width="1" height="4" fill="#000"/>
<rect x="30" y="226" width="5" height="1" fill="#000"/>
<rect x="34" y="218" width="1" height="9" fill="#000"/>
<rect x="35" y="224" width="3" height="1" fill="#000"/>
<rect x="37" y="224" width="1" height="10" fill="#000"/>
<rect x="28" y="233" width="10" height="1" fill="#000"/>
<rect x="42" y="220" width="174" height="14" fill="#000"/>
<rect x="216" y="226" width="1" height="8" fill="#000"/>
<rect x="43" y="234" width="2" height="1" fill="#000"/>
<rect x="46" y="234" width="2" height="1" fill="#000"/>
<rect x="49" y="234" width="2" height="1" fill="#000"/>
<rect x="52" y="234" width="2" height="1" fill="#000"/>
<rect x="55" y="234" width="2" height="1" fill="#000"/>
<rect x="58" y="234" width="2" height="1" fill="#000"/>
<rect x="61" y="234" width="2" height="1" fill="#000"/>
<rect x="64" y="234" width="2" height="1" fill="#000"/>
<rect x="67" y="234" width="2" height="1" fill="#000"/>
<rect x="70" y="234" width="2" height="1" fill="#000"/>
<rect x="73" y="234" width="2" height="1" fill="#000"/>
<rect x="76" y="234" width="2" height="1" fill="#000"/>
<rect x="79" y="234" width="2" height="1" fill="#000"/>
<rect x="82" y="234" width="2" height="1" fill="#000"/>
<rect x="85" y="234" width="2" height="1" fill="#000"/>
<rect x="88" y="234" width="2" height="1" fill="#000"/>
<rect x="91" y="234" width="2" height="1" fill="#000"/>
<rect x="94" y="234" width="2" height="1" fill="#000"/>
<rect x="97" y="234" width="2" height="1" fill="#000"/>
<rect x="100" y="234" width="2" height="1" fill="#000"/>
<rect x="103" y="234" width="2" height="1" fill="#000"/>
<rect x="106" y="234" width="2" height="1" fill="#000"/>
<rect x="109" y="234" width="2" height="1" fill="#000"/>
<rect x="112" y="234" width="2" height="1" fill="#000"/>
<rect x="115" y="234" width="2" height="1" fill="#000"/>
<rect x="118" y="234" width="2" height="1" fill="#000"/>
<rect x="121" y="234" width="2" height="1" fill="#000"/>
<rect x="124" y="234" width="2" height="1" fill="#000"/>
<rect x="127" y="234" width="2" height="1" fill="#000"/>
<rect x="130" y="234" width="2" height="1" fill="#000"/>
<rect x="133" y="234" width="2" height="1" fill="#000"/>
<rect x="136" y="234" width="2" height="1" fill="#000"/>
<rect x="139" y="234" width="2" height="1" fill="#000"/>
<rect x="142" y="234" width="2" height="1" fill="#000"/>
<rect x="145" y="234" width="2" height="1" fill="#000"/>
<rect x="148" y="234" width="2" height="1" fill="#000"/>
<rect x="151" y="234" width="2" height="1" fill="#000"/>
<rect x="154" y="234" width="2" height="1" fill="#000"/>
<rect x="157" y="234" width="2" height="1" fill="#000"/>
<rect x="160" y="234" width="2" height="1" fill="#000"/>
<rect x="163" y="234" width="2" height="1" fill="#000"/>
<rect x="166" y="234" width="2" height="1" fill="#000"/>
<rect x="169" y="234" width="2" height="1" fill="#000"/>
<rect x="172" y="234" width="2" height="1" fill="#000"/>
<rect x="175" y="234" width="2" height="1" fill="#000"/>
<rect x="178" y="234" width="2" height="1" fill="#000"/>
<rect x="181" y="234" width="2" height="1" fill="#000"/>
<rect x="184" y="234" width="2" height="1" fill="#000"/>
<rect x="187" y="234" width="2" height="1" fill="#000"/>
<rect x="190" y="234" width="2" height="1" fill="#000"/>
<rect x="193" y="234" width="2" height="1" fill="#000"/>
<rect x="196" y="234" width="2" height="1" fill="#000"/>
<rect x="199" y="234" width="2" height="1" fill="#000"/>
<rect x="202" y="234" width="2" height="1" fill="#000"/>
<rect x="205" y="234" width="2" height="1" fill="#000"/>
<rect x="208" y="234" width="2" height="1" fill="#000"/>
<rect x="211" y="234" width="2" height="1" fill="#000"/>
<rect x="214" y="234" width="2" height="1" fill="#000"/>
<rect x="46" y="221" width="1" height="4" fill="#fff"/>
<rect x="45" y="227" width="4" height="6" fill="#fff"/>
<rect x="52" y="221" width="1" height="4" fill="#fff"/>
<rect x="51" y="227" width="4" height="6" fill="#fff"/>
<rect x="58" y="221" width="1" height="4" fill="#fff"/>
<rect x="56" y="227" width="4" height="6" fill="#fff"/>
<rect x="64" y="221" width="1" height="4" fill="#fff"/>
<rect x="62" y="227" width="4" height="6" fill="#fff"/>
<rect x="69" y="221" width="1" height="4" fill="#fff"/>
<rect x="68" y="227" width="4" height="6" fill="#fff"/>
<rect x="75" y="221" width="1" height="4" fill="#fff"/>
<rect x="74" y="227" width="4" height="6" fill="#fff"/>
<rect x="81" y="221" width="1" height="4" fill="#fff"/>
<rect x="80" y="227" width="4" height="6" fill="#fff"/>
<rect x="87" y="221" width="1" height="4" fill="#fff"/>
<rect x="86" y="227" width="4" height="6" fill="#fff"/>
<rect x="93" y="221" width="1" height="4" fill="#fff"/>
<rect x="92" y="227" width="4" height="6" fill="#fff"/>
<rect x="99" y="221" width="1" height="4" fill="#fff"/>
<rect x="98" y="227" width="4" height="6" fill="#fff"/>
<rect x="105" y="221" width="1" height="4" fill="#fff"/>
<rect x="104" y="227" width="4" height="6" fill="#fff"/>
<rect x="111" y="221" width="1" height="4" fill="#fff"/>
<rect x="110" y="227" width="4" height="6" fill="#fff"/>
<rect x="117" y="221" width="1" height="4" fill="#fff"/>
<rect x="115" y="227" width="4" height="6" fill="#fff"/>
<rect x="123" y="221" width="1" height="4" fill="#fff"/>
<rect x="121" y="227" width="4" height="6" fill="#fff"/>
<rect x="128" y="221" width="1" height="6" fill="#fff"/>
<rect x="127" y="227" width="4" height="6" fill="#fff"/>
<rect x="134" y="221" width="1" height="4" fill="#fff"/>
<rect x="133" y="227" width="4" height="6" fill="#fff"/>
<rect x="140" y="221" width="1" height="4" fill="#fff"/>
<rect x="139" y="227" width="4" height="6" fill="#fff"/>
<rect x="146" y="221" width="1" height="4" fill="#fff"/>
<rect x="145" y="227" width="4" height="6" fill="#fff"/>
<rect x="152" y="221" width="1" height="4" fill="#fff"/>
<rect x="151" y="227" width="4" height="6" fill="#fff"/>
<rect x="158" y="221" width="1" height="4" fill="#fff"/>
<rect x="157" y="227" width="4" height="6" fill="#fff"/>
<rect x="164" y="221" width="1" height="4" fill="#fff"/>
<rect x="163" y="227" width="4" height="6" fill="#fff"/>
<rect x="170" y="221" width="1" height="4" fill="#fff"/>
<rect x="168" y="227" width="4" height="6" fill="#fff"/>
<rect x="176" y="221" width="1" height="4" fill="#fff"/>
<rect x="174" y="227" width="4" height="6" fill="#fff"/>
<rect x="181" y="221" width="1" height="4" fill="#fff"/>
<rect x="180" y="227" width="4" height="6" fill="#fff"/>
<rect x="187" y="221" width="1" height="4" fill="#fff"/>
<rect x="186" y="227" width="4" height="6" fill="#fff"/>
<rect x="193" y="221" width="1" height="4" fill="#fff"/>
<rect x="192" y="227" width="4" height="6" fill="#fff"/>
<rect x="199" y="221" width="1" height="4" fill="#fff"/>
<rect x="198" y="227" width="4" height="6" fill="#fff"/>
<rect x="205" y="221" width="1" height="4" fill="#fff"/>
<rect x="204" y="227" width="4" height="6" fill="#fff"/>
<rect x="211" y="221" width="1" height="4" fill="#fff"/>
<rect x="210" y="227" width="4" height="6" fill="#fff"/>
<rect x="215" y="227" width="1" height="6" fill="#fff"/>
<rect x="234" y="218" width="1" height="19" fill="#000"/>
<rect x="231" y="218" width="2" height="17" fill="#000"/>
<rect x="230" y="227" width="1" height="8" fill="#000"/>
<rect x="234" y="225" width="9" height="1" fill="#000"/>
<rect x="234" y="232" width="9" height="1" fill="#000"/>
<rect x="221" y="224" width="1" height="10" fill="#000"/>
<rect x="221" y="224" width="3" height="1" fill="#000"/>
<rect x="221" y="233" width="10" height="1" fill="#000"/>
<rect x="223" y="218" width="1" height="9" fill="#000"/>
<rect x="223" y="226" width="6" height="1" fill="#000"/>
<rect x="228" y="223" width="1" height="4" fill="#000"/>
<rect x="228" y="223" width="3" height="1" fill="#000"/>
<rect x="17" y="238" width="226" height="19" fill="#000"/>
<rect x="18" y="239" width="224" height="17" fill="#fff"/>
<rect x="16" y="245" width="9" height="8" fill="#000"/>
<rect x="17" y="246" width="7" height="6" fill="#fff"/>
<rect x="24" y="238" width="4" height="16" fill="#000"/>
<rect x="25" y="254" width="3" height="1" fill="#000"/>
<rect x="28" y="243" width="3" height="1" fill="#000"/>
<rect x="30" y="243" width="1" height="4" fill="#000"/>
<rect x="30" y="246" width="5" height="1" fill="#000"/>
<rect x="34" y="238" width="1" height="9" fill="#000"/>
<rect x="35" y="244" width="3" height="1" fill="#000"/>
<rect x="37" y="244" width="1" height="10" fill="#000"/>
<rect x="28" y="253" width="10" height="1" fill="#000"/>
<rect x="42" y="240" width="174" height="14" fill="#000"/>
<rect x="216" y="246" width="1" height="8" fill="#000"/>
<rect x="43" y="254" width="2" height="1" fill="#000"/>
<rect x="46" y="254" width="2" height="1" fill="#000"/>
<rect x="49" y="254" width="2" height="1" fill="#000"/>
<rect x="52" y="254" width="2" height="1" fill="#000"/>
<rect x="55" y="254" width="2" height="1" fill="#000"/>
<rect x="58" y="254" width="2" height="1" fill="#000"/>
<rect x="61" y="254" width="2" height="1" fill="#000"/>
<rect x="64" y="254" width="2" height="1" fill="#000"/>
<rect x="67" y="254" width="2" height="1" fill="#000"/>
<rect x="70" y="254" width="2" height="1" fill="#000"/>
<rect x="73" y="254" width="2" height="1" fill="#000"/>
<rect x="76" y="254" width="2" height="1" fill="#000"/>
<rect x="79" y="254" width="2" height="1" fill="#000"/>
<rect x="82" y="254" width="2" height="1" fill="#000"/>
<rect x="85" y="254" width="2" height="1" fill="#000"/>
<rect x="88" y="254" width="2" height="1" fill="#000"/>
<rect x="91" y="254" width="2" height="1" fill="#000"/>
<rect x="94" y="254" width="2" height="1" fill="#000"/>
<rect x="97" y="254" width="2" height="1" fill="#000"/>
<rect x="100" y="254" width="2" height="1" fill="#000"/>
<rect x="103" y="254" width="2" height="1" fill="#000"/>
<rect x="106" y="254" width="2" height="1" fill="#000"/>
<rect x="109" y="254" width="2" height="1" fill="#000"/>
<rect x="112" y="254" width="2" height="1" fill="#000"/>
<rect x="115" y="254" width="2" height="1" fill="#000"/>
<rect x="118" y="254" width="2" height="1" fill="#000"/>
<rect x="121" y="254" width="2" height="1" fill="#000"/>
<rect x="124" y="254" width="2" height="1" fill="#000"/>
<rect x="127" y="254" width="2" height="1" fill="#000"/>
<rect x="130" y="254" width="2" height="1" fill="#000"/>
<rect x="133" y="254" width="2" height="1" fill="#000"/>
<rect x="136" y="254" width="2" height="1" fill="#000"/>
<rect x="139" y="254" width="2" height="1" fill="#000"/>
<rect x="142" y="254" width="2" height="1" fill="#000"/>
<rect x="145" y="254" width="2" height="1" fill="#000"/>
<rect x="148" y="254" width="2" height="1" fill="#000"/>
<rect x="151" y="254" width="2" height="1" fill="#000"/>
<rect x="154" y="254" width="2" height="1" fill="#000"/>
<rect x="157" y="254" width="2" height="1" fill="#000"/>
<rect x="160" y="254" width="2" height="1" fill="#000"/>
<rect x="163" y="254" width="2" height="1" fill="#000"/>
<rect x="166" y="254" width="2" height="1" fill="#000"/>
<rect x="169" y="254" width="2" height="1" fill="#000"/>
<rect x="172" y="254" width="2" height="1" fill="#000"/>
<rect x="175" y="254" width="2" height="1" fill="#000"/>
<rect x="178" y="254" width="2" height="1" fill="#000"/>
<rect x="181" y="254" width="2" height="1" fill="#000"/>
<rect x="184" y="254" width="2" height="1" fill="#000"/>
<rect x="187" y="254" width="2" height="1" fill="#000"/>
<rect x="190" y="254" width="2" height="1" fill="#000"/>
<rect x="193" y="254" width="2" height="1" fill="#000"/>
<rect x="196" y="254" width="2" height="1" fill="#000"/>
<rect x="199" y="254" width="2" height="1" fill="#000"/>
<rect x="202" y="254" width="2" height="1" fill="#000"/>
<rect x="205" y="254" width="2" height="1" fill="#000"/>
<rect x="208" y="254" width="2" height="1" fill="#000"/>
<rect x="211" y="254" width="2" height="1" fill="#000"/>
<rect x="214" y="254" width="2" height="1" fill="#000"/>
<rect x="46" y="241" width="1" height="4" fill="#fff"/>
<rect x="45" y="247" width="4" height="6" fill="#fff"/>
<rect x="52" y="241" width="1" height="4" fill="#fff"/>
<rect x="51" y="247" width="4" height="6" fill="#fff"/>
<rect x="58" y="241" width="1" height="4" fill="#fff"/>
<rect x="56" y="247" width="4" height="6" fill="#fff"/>
<rect x="64" y="241" width="1" height="4" fill="#fff"/>
<rect x="62" y="247" width="4" height="6" fill="#fff"/>
<rect x="69" y="241" width="1" height="4" fill="#fff"/>
<rect x="68" y="247" width="4" height="6" fill="#fff"/>
<rect x="75" y="241" width="1" height="4" fill="#fff"/>
<rect x="74" y="247" width="4" height="6" fill="#fff"/>
<rect x="81" y="241" width="1" height="4" fill="#fff"/>
<rect x="80" y="247" width="4" height="6" fill="#fff"/>
<rect x="87" y="241" width="1" height="4" fill="#fff"/>
<rect x="86" y="247" width="4" height="6" fill="#fff"/>
<rect x="93" y="241" width="1" height="4" fill="#fff"/>
<rect x="92" y="247" width="4" height="6" fill="#fff"/>
<rect x="99" y="241" width="1" height="4" fill="#fff"/>
<rect x="98" y="247" width="4" height="6" fill="#fff"/>
<rect x="105" y="241" width="1" height="4" fill="#fff"/>
<rect x="104" y="247" width="4" height="6" fill="#fff"/>
<rect x="111" y="241" width="1" height="4" fill="#fff"/>
<rect x="110" y="247" width="4" height="6" fill="#fff"/>
<rect x="117" y="241" width="1" height="4" fill="#fff"/>
<rect x="115" y="247" width="4" height="6" fill="#fff"/>
<rect x="123" y="241" width="1" height="4" fill="#fff"/>
<rect x="121" y="247" width="4" height="6" fill="#fff"/>
<rect x="128" y="241" width="1" height="6" fill="#fff"/>
<rect x="127" y="247" width="4" height="6" fill="#fff"/>
<rect x="134" y="241" width="1" height="4" fill="#fff"/>
<rect x="133" y="247" width="4" height="6" fill="#fff"/>
<rect x="140" y="241" width="1" height="4" fill="#fff"/>
<rect x="139" y="247" width="4" height="6" fill="#fff"/>
<rect x="146" y="241" width="1" height="4" fill="#fff"/>
<rect x="145" y="247" width="4" height="6" fill="#fff"/>
<rect x="152" y="241" width="1" height="4" fill="#fff"/>
<rect x="151" y="247" width="4" height="6" fill="#fff"/>
<rect x="158" y="241" width="1" height="4" fill="#fff"/>
<rect x="157" y="247" width="4" height="6" fill="#fff"/>
<rect x="164" y="241" width="1" height="4" fill="#fff"/>
<rect x="163" y="247" width="4" height="6" fill="#fff"/>
<rect x="170" y="241" width="1" height="4" fill="#fff"/>
<rect x="168" y="247" width="4" height="6" fill="#fff"/>
<rect x="176" y="241" width="1" height="4" fill="#fff"/>
<rect x="174" y="247" width="4" height="6" fill="#fff"/>
<rect x="181" y="241" width="1" height="4" fill="#fff"/>
<rect x="180" y="247" width="4" height="6" fill="#fff"/>
<rect x="187" y="241" width="1" height="4" fill="#fff"/>
<rect x="186" y="247" width="4" height="6" fill="#fff"/>
<rect x="193" y="241" width="1" height="4" fill="#fff"/>
<rect x="192" y="247" width="4" height="6" fill="#fff"/>
<rect x="199" y="241" width="1" height="4" fill="#fff"/>
<rect x="198" y="247" width="4" height="6" fill="#fff"/>
<rect x="205" y="241" width="1" height="4" fill="#fff"/>
<rect x="204" y="247" width="4" height="6" fill="#fff"/>
<rect x="211" y="241" width="1" height="4" fill="#fff"/>
<rect x="210" y="247" width="4" height="6" fill="#fff"/>
<rect x="215" y="247" width="1" height="6" fill="#fff"/>
<rect x="234" y="238" width="1" height="19" fill="#000"/>
<rect x="231" y="238" width="2" height="17" fill="#000"/>
<rect x="230" y="247" width="1" height="8" fill="#000"/>
<rect x="234" y="245" width="9" height="1" fill="#000"/>
<rect x="234" y="252" width="9" height="1" fill="#000"/>
<rect x="221" y="244" width="1" height="10" fill="#000"/>
<rect x="221" y="244" width="3" height="1" fill="#000"/>
<rect x="221" y="253" width="10" height="1" fill="#000"/>
<rect x="223" y="238" width="1" height="9" fill="#000"/>
<rect x="223" y="246" width="6" height="1" fill="#000"/>
<rect x="228" y="243" width="1" height="4" fill="#000"/>
<rect x="228" y="243" width="3" height="1" fill="#000"/>
<rect x="17" y="258" width="226" height="19" fill="#000"/>
<rect x="18" y="259" width="224" height="17" fill="#fff"/>
<rect x="16" y="265" width="9" height="8" fill="#000"/>
<rect x="17" y="266" width="7" height="6" fill="#fff"/>
<rect x="24" y="258" width="4" height="16" fill="#000"/>
<rect x="25" y="274" width="3" height="1" fill="#000"/>
<rect x="28" y="263" width="3" height="1" fill="#000"/>
<rect x="30" y="263" width="1" height="4" fill="#000"/>
<rect x="30" y="266" width="5" height="1" fill="#000"/>
<rect x="34" y="258" width="1" height="9" fill="#000"/>
<rect x="35" y="264" width="3" height="1" fill="#000"/>
<rect x="37" y="264" width="1" height="10" fill="#000"/>
<rect x="28" y="273" width="10" height="1" fill="#000"/>
<rect x="42" y="260" width="174" height="14" fill="#000"/>
<rect x="216" y="266" width="1" height="8" fill="#000"/>
<rect x="43" y="274" width="2" height="1" fill="#000"/>
<rect x="46" y="274" width="2" height="1" fill="#000"/>
<rect x="49" y="274" width="2" height="1" fill="#000"/>
<rect x="52" y="274" width="2" height="1" fill="#000"/>
<rect x="55" y="274" width="2" height="1" fill="#000"/>
<rect x="58" y="274" width="2" height="1" fill="#000"/>
<rect x="61" y="274" width="2" height="1" fill="#000"/>
<rect x="64" y="274" width="2" height="1" fill="#000"/>
<rect x="67" y="274" width="2" height="1" fill="#000"/>
<rect x="70" y="274" width="2" height="1" fill="#000"/>
<rect x="73" y="274" width="2" height="1" fill="#000"/>
<rect x="76" y="274" width="2" height="1" fill="#000"/>
<rect x="79" y="274" width="2" height="1" fill="#000"/>
<rect x="82" y="274" width="2" height="1" fill="#000"/>
<rect x="85" y="274" width="2" height="1" fill="#000"/>
<rect x="88" y="274" width="2" height="1" fill="#000"/>
<rect x="91" y="274" width="2" height="1" fill="#000"/>
<rect x="94" y="274" width="2" height="1" fill="#000"/>
<rect x="97" y="274" width="2" height="1" fill="#000"/>
<rect x="100" y="274" width="2" height="1" fill="#000"/>
<rect x="103" y="274" width="2" height="1" fill="#000"/>
<rect x="106" y="274" width="2" height="1" fill="#000"/>
<rect x="109" y="274" width="2" height="1" fill="#000"/>
<rect x="112" y="274" width="2" height="1" fill="#000"/>
<rect x="115" y="274" width="2" height="1" fill="#000"/>
<rect x="118" y="274" width="2" height="1" fill="#000"/>
<rect x="121" y="274" width="2" height="1" fill="#000"/>
<rect x="124" y="274" width="2" height="1" fill="#000"/>
<rect x="127" y="274" width="2" height="1" fill="#000"/>
<rect x="130" y="274" width="2" height="1" fill="#000"/>
<rect x="133" y="274" width="2" height="1" fill="#000"/>
<rect x="136" y="274" width="2" height="1" fill="#000"/>
<rect x="139" y="274" width="2" height="1" fill="#000"/>
<rect x="142" y="274" width="2" height="1" fill="#000"/>
<rect x="145" y="274" width="2" height="1" fill="#000"/>
<rect x="148" y="274" width="2" height="1" fill="#000"/>
<rect x="151" y="274" width="2" height="1" fill="#000"/>
<rect x="154" y="274" width="2" height="1" fill="#000"/>
<rect x="157" y="274" width="2" height="1" fill="#000"/>
<rect x="160" y="274" width="2" height="1" fill="#000"/>
<rect x="163" y="274" width="2" height="1" fill="#000"/>
<rect x="166" y="274" width="2" height="1" fill="#000"/>
<rect x="169" y="274" width="2" height="1" fill="#000"/>
<rect x="172" y="274" width="2" height="1" fill="#000"/>
<rect x="175" y="274" width="2" height="1" fill="#000"/>
<rect x="178" y="274" width="2" height="1" fill="#000"/>
<rect x="181" y="274" width="2" height="1" fill="#000"/>
<rect x="184" y="274" width="2" height="1" fill="#000"/>
<rect x="187" y="274" width="2" height="1" fill="#000"/>
<rect x="190" y="274" width="2" height="1" fill="#000"/>
<rect x="193" y="274" width="2" height="1" fill="#000"/>
<rect x="196" y="274" width="2" height="1" fill="#000"/>
<rect x="199" y="274" width="2" height="1" fill="#000"/>
<rect x="202" y="274" width="2" height="1" fill="#000"/>
<rect x="205" y="274" width="2" height="1" fill="#000"/>
<rect x="208" y="274" width="2" height="1" fill="#000"/>
<rect x="211" y="274" width="2" height="1" fill="#000"/>
<rect x="214" y="274" width="2" height="1" fill="#000"/>
<rect x="46" y="261" width="1" height="4" fill="#fff"/>
<rect x="45" y="267" width="4" height="6" fill="#fff"/>
<rect x="52" y="261" width="1" height="4" fill="#fff"/>
<rect x="51" y="267" width="4" height="6" fill="#fff"/>
<rect x="58" y="261" width="1" height="4" fill="#fff"/>
<rect x="56" y="267" width="4" height="6" fill="#fff"/>
<rect x="64" y="261" width="1" height="4" fill="#fff"/>
<rect x="62" y="267" width="4" height="6" fill="#fff"/>
<rect x="69" y="261" width="1" height="4" fill="#fff"/>
<rect x="68" y="267" width="4" height="6" fill="#fff"/>
<rect x="75" y="261" width="1" height="4" fill="#fff"/>
<rect x="74" y="267" width="4" height="6" fill="#fff"/>
<rect x="81" y="261" width="1" height="4" fill="#fff"/>
<rect x="80" y="267" width="4" height="6" fill="#fff"/>
<rect x="87" y="261" width="1" height="4" fill="#fff"/>
<rect x="86" y="267" width="4" height="6" fill="#fff"/>
<rect x="93" y="261" width="1" height="4" fill="#fff"/>
<rect x="92" y="267" width="4" height="6" fill="#fff"/>
<rect x="99" y="261" width="1" height="4" fill="#fff"/>
<rect x="98" y="267" width="4" height="6" fill="#fff"/>
<rect x="105" y="261" width="1" height="4" fill="#fff"/>
<rect x="104" y="267" width="4" height="6" fill="#fff"/>
<rect x="111" y="261" width="1" height="4" fill="#fff"/>
<rect x="110" y="267" width="4" height="6" fill="#fff"/>
<rect x="117" y="261" width="1" height="4" fill="#fff"/>
<rect x="115" y="267" width="4" height="6" fill="#fff"/>
<rect x="123" y="261" width="1" height="4" fill="#fff"/>
<rect x="121" y="267" width="4" height="6" fill="#fff"/>
<rect x="128" y="261" width="1" height="6" fill="#fff"/>
<rect x="127" y="267" width="4" height="6" fill="#fff"/>
<rect x="134" y="261" width="1" height="4" fill="#fff"/>
<rect x="133" y="267" width="4" height="6" fill="#fff"/>
<rect x="140" y="261" width="1" height="4" fill="#fff"/>
<rect x="139" y="267" width="4" height="6" fill="#fff"/>
<rect x="146" y="261" width="1" height="4" fill="#fff"/>
<rect x="145" y="267" width="4" height="6" fill="#fff"/>
<rect x="152" y="261" width="1" height="4" fill="#fff"/>
<rect x="151" y="267" width="4" height="6" fill="#fff"/>
<rect x="158" y="261" width="1" height="4" fill="#fff"/>
<rect x="157" y="267" width="4" height="6" fill="#fff"/>
<rect x="164" y="261" width="1" height="4" fill="#fff"/>
<rect x="163" y="267" width="4" height="6" fill="#fff"/>
<rect x="170" y="261" width="1" height="4" fill="#fff"/>
<rect x="168" y="267" width="4" height="6" fill="#fff"/>
<rect x="176" y="261" width="1" height="4" fill="#fff"/>
<rect x="174" y="267" width="4" height="6" fill="#fff"/>
<rect x="181" y="261" width="1" height="4" fill="#fff"/>
<rect x="180" y="267" width="4" height="6" fill="#fff"/>
<rect x="187" y="261" width="1" height="4" fill="#fff"/>
<rect x="186" y="267" width="4" height="6" fill="#fff"/>
<rect x="193" y="261" width="1" height="4" fill="#fff"/>
<rect x="192" y="267" width="4" height="6" fill="#fff"/>
<rect x="199" y="261" width="1" height="4" fill="#fff"/>
<rect x="198" y="267" width="4" height="6" fill="#fff"/>
<rect x="205" y="261" width="1" height="4" fill="#fff"/>
<rect x="204" y="267" width="4" height="6" fill="#fff"/>
<rect x="211" y="261" width="1" height="4" fill="#fff"/>
<rect x="210" y="267" width="4" height="6" fill="#fff"/>
<rect x="215" y="267" width="1" height="6" fill="#fff"/>
<rect x="234" y="258" width="1" height="19" fill="#000"/>
<rect x="231" y="258" width="2" height="17" fill="#000"/>
<rect x="230" y="267" width="1" height="8" fill="#000"/>
<rect x="234" y="265" width="9" height="1" fill="#000"/>
<rect x="234" y="272" width="9" height="1" fill="#000"/>
<rect x="221" y="264" width="1" height="10" fill="#000"/>
<rect x="221" y="264" width="3" height="1" fill="#000"/>
<rect x="221" y="273" width="10" height="1" fill="#000"/>
<rect x="223" y="258" width="1" height="9" fill="#000"/>
<rect x="223" y="266" width="6" height="1" fill="#000"/>
<rect x="228" y="263" width="1" height="4" fill="#000"/>
<rect x="228" y="263" width="3" height="1" fill="#000"/>
<rect x="91" y="356" width="226" height="19" fill="#000"/>
<rect x="92" y="357" width="224" height="17" fill="#fff"/>
<rect x="90" y="363" width="9" height="8" fill="#000"/>
<rect x="91" y="364" width="7" height="6" fill="#fff"/>
<rect x="97" y="356" width="1" height="17" fill="#000"/>
<rect x="98" y="357" width="1" height="15" fill="#fff"/>
<rect x="99" y="356" width="2" height="17" fill="#000"/>
<rect x="101" y="361" width="3" height="1" fill="#000"/>
<rect x="101" y="361" width="1" height="11" fill="#000"/>
<rect x="103" y="361" width="1" height="3" fill="#000"/>
<rect x="103" y="363" width="6" height="1" fill="#000"/>
<rect x="108" y="356" width="1" height="8" fill="#000"/>
<rect x="109" y="361" width="2" height="1" fill="#000"/>
<rect x="110" y="361" width="1" height="11" fill="#000"/>
<rect x="101" y="371" width="10" height="1" fill="#000"/>
<rect x="116" y="358" width="174" height="14" fill="#000"/>
<rect x="290" y="364" width="1" height="8" fill="#000"/>
<rect x="117" y="372" width="2" height="1" fill="#000"/>
<rect x="120" y="372" width="2" height="1" fill="#000"/>
<rect x="123" y="372" width="2" height="1" fill="#000"/>
<rect x="126" y="372" width="2" height="1" fill="#000"/>
<rect x="129" y="372" width="2" height="1" fill="#000"/>
<rect x="132" y="372" width="2" height="1" fill="#000"/>
<rect x="135" y="372" width="2" height="1" fill="#000"/>
<rect x="138" y="372" width="2" height="1" fill="#000"/>
<rect x="141" y="372" width="2" height="1" fill="#000"/>
<rect x="144" y="372" width="2" height="1" fill="#000"/>
<rect x="147" y="372" width="2" height="1" fill="#000"/>
<rect x="150" y="372" width="2" height="1" fill="#000"/>
<rect x="153" y="372" width="2" height="1" fill="#000"/>
<rect x="156" y="372" width="2" height="1" fill="#000"/>
<rect x="159" y="372" width="2" height="1" fill="#000"/>
<rect x="162" y="372" width="2" height="1" fill="#000"/>
<rect x="165" y="372" width="2" height="1" fill="#000"/>
<rect x="168" y="372" width="2" height="1" fill="#000"/>
<rect x="171" y="372" width="2" height="1" fill="#000"/>
<rect x="174" y="372" width="2" height="1" fill="#000"/>
<rect x="177" y="372" width="2" height="1" fill="#000"/>
<rect x="180" y="372" width="2" height="1" fill="#000"/>
<rect x="183" y="372" width="2" height="1" fill="#000"/>
<rect x="186" y="372" width="2" height="1" fill="#000"/>
<rect x="189" y="372" width="2" height="1" fill="#000"/>
<rect x="192" y="372" width="2" height="1" fill="#000"/>
<rect x="195" y="372" width="2" height="1" fill="#000"/>
<rect x="198" y="372" width="2" height="1" fill="#000"/>
<rect x="201" y="372" width="2" height="1" fill="#000"/>
<rect x="204" y="372" width="2" height="1" fill="#000"/>
<rect x="207" y="372" width="2" height="1" fill="#000"/>
<rect x="210" y="372" width="2" height="1" fill="#000"/>
<rect x="213" y="372" width="2" height="1" fill="#000"/>
<rect x="216" y="372" width="2" height="1" fill="#000"/>
<rect x="219" y="372" width="2" height="1" fill="#000"/>
<rect x="222" y="372" width="2" height="1" fill="#000"/>
<rect x="225" y="372" width="2" height="1" fill="#000"/>
<rect x="228" y="372" width="2" height="1" fill="#000"/>
<rect x="231" y="372" width="2" height="1" fill="#000"/>
<rect x="234" y="372" width="2" height="1" fill="#000"/>
<rect x="237" y="372" width="2" height="1" fill="#000"/>
<rect x="240" y="372" width="2" height="1" fill="#000"/>
<rect x="243" y="372" width="2" height="1" fill="#000"/>
<rect x="246" y="372" width="2" height="1" fill="#000"/>
<rect x="249" y="372" width="2" height="1" fill="#000"/>
<rect x="252" y="372" width="2" height="1" fill="#000"/>
<rect x="255" y="372" width="2" height="1" fill="#000"/>
<rect x="258" y="372" width="2" height="1" fill="#000"/>
<rect x="261" y="372" width="2" height="1" fill="#000"/>
<rect x="264" y="372" width="2" height="1" fill="#000"/>
<rect x="267" y="372" width="2" height="1" fill="#000"/>
<rect x="270" y="372" width="2" height="1" fill="#000"/>
<rect x="273" y="372" width="2" height="1" fill="#000"/>
<rect x="276" y="372" width="2" height="1" fill="#000"/>
<rect x="279" y="372" width="2" height="1" fill="#000"/>
<rect x="282" y="372" width="2" height="1" fill="#000"/>
<rect x="285" y="372" width="2" height="1" fill="#000"/>
<rect x="288" y="372" width="2" height="1" fill="#000"/>
<rect x="120" y="359" width="1" height="4" fill="#fff"/>
<rect x="119" y="365" width="4" height="6" fill="#fff"/>
<rect x="126" y="359" width="1" height="4" fill="#fff"/>
<rect x="125" y="365" width="4" height="6" fill="#fff"/>
<rect x="132" y="359" width="1" height="4" fill="#fff"/>
<rect x="130" y="365" width="4" height="6" fill="#fff"/>
<rect x="138" y="359" width="1" height="4" fill="#fff"/>
<rect x="136" y="365" width="4" height="6" fill="#fff"/>
<rect x="143" y="359" width="1" height="4" fill="#fff"/>
<rect x="142" y="365" width="4" height="6" fill="#fff"/>
<rect x="149" y="359" width="1" height="4" fill="#fff"/>
<rect x="148" y="365" width="4" height="6" fill="#fff"/>
<rect x="155" y="359" width="1" height="4" fill="#fff"/>
<rect x="154" y="365" width="4" height="6" fill="#fff"/>
<rect x="161" y="359" width="1" height="4" fill="#fff"/>
<rect x="160" y="365" width="4" height="6" fill="#fff"/>
<rect x="167" y="359" width="1" height="4" fill="#fff"/>
<rect x="166" y="365" width="4" height="6" fill="#fff"/>
<rect x="173" y="359" width="1" height="4" fill="#fff"/>
<rect x="172" y="365" width="4" height="6" fill="#fff"/>
<rect x="179" y="359" width="1" height="4" fill="#fff"/>
<rect x="178" y="365" width="4" height="6" fill="#fff"/>
<rect x="185" y="359" width="1" height="4" fill="#fff"/>
<rect x="184" y="365" width="4" height="6" fill="#fff"/>
<rect x="191" y="359" width="1" height="4" fill="#fff"/>
<rect x="189" y="365" width="4" height="6" fill="#fff"/>
<rect x="197" y="359" width="1" height="4" fill="#fff"/>
<rect x="195" y="365" width="4" height="6" fill="#fff"/>
<rect x="202" y="359" width="1" height="4" fill="#fff"/>
<rect x="201" y="365" width="4" height="6" fill="#fff"/>
<rect x="208" y="359" width="1" height="6" fill="#fff"/>
<rect x="207" y="365" width="4" height="6" fill="#fff"/>
<rect x="214" y="359" width="1" height="4" fill="#fff"/>
<rect x="213" y="365" width="4" height="6" fill="#fff"/>
<rect x="220" y="359" width="1" height="4" fill="#fff"/>
<rect x="219" y="365" width="4" height="6" fill="#fff"/>
<rect x="226" y="359" width="1" height="4" fill="#fff"/>
<rect x="225" y="365" width="4" height="6" fill="#fff"/>
<rect x="232" y="359" width="1" height="4" fill="#fff"/>
<rect x="231" y="365" width="4" height="6" fill="#fff"/>
<rect x="238" y="359" width="1" height="4" fill="#fff"/>
<rect x="237" y="365" width="4" height="6" fill="#fff"/>
<rect x="244" y="359" width="1" height="4" fill="#fff"/>
<rect x="242" y="365" width="4" height="6" fill="#fff"/>
<rect x="250" y="359" width="1" height="4" fill="#fff"/>
<rect x="248" y="365" width="4" height="6" fill="#fff"/>
<rect x="255" y="359" width="1" height="4" fill="#fff"/>
<rect x="254" y="365" width="4" height="6" fill="#fff"/>
<rect x="261" y="359" width="1" height="4" fill="#fff"/>
<rect x="260" y="365" width="4" height="6" fill="#fff"/>
<rect x="267" y="359" width="1" height="4" fill="#fff"/>
<rect x="266" y="365" width="4" height="6" fill="#fff"/>
<rect x="273" y="359" width="1" height="4" fill="#fff"/>
<rect x="272" y="365" width="4" height="6" fill="#fff"/>
<rect x="279" y="359" width="1" height="4" fill="#fff"/>
<rect x="278" y="365" width="4" height="6" fill="#fff"/>
<rect x="285" y="359" width="1" height="4" fill="#fff"/>
<rect x="284" y="365" width="4" height="6" fill="#fff"/>
<rect x="289" y="365" width="1" height="6" fill="#fff"/>
<rect x="115" y="364" width="1" height="8" fill="#000"/>
<rect x="116" y="365" width="1" height="6" fill="#fff"/>
<rect x="305" y="356" width="3" height="19" fill="#000"/>
<rect x="308" y="363" width="9" height="1" fill="#000"/>
<rect x="308" y="370" width="9" height="1" fill="#000"/>
<rect x="295" y="362" width="1" height="10" fill="#000"/>
<rect x="295" y="362" width="3" height="1" fill="#000"/>
<rect x="295" y="371" width="10" height="1" fill="#000"/>
<rect x="297" y="356" width="1" height="9" fill="#000"/>
<rect x="297" y="364" width="6" height="1" fill="#000"/>
<rect x="302" y="361" width="1" height="4" fill="#000"/>
<rect x="302" y="361" width="3" height="1" fill="#000"/>
<rect x="91" y="376" width="226" height="19" fill="#000"/>
<rect x="92" y="377" width="224" height="17" fill="#fff"/>
<rect x="90" y="383" width="9" height="8" fill="#000"/>
<rect x="91" y="384" width="7" height="6" fill="#fff"/>
<rect x="97" y="376" width="1" height="17" fill="#000"/>
<rect x="98" y="377" width="1" height="15" fill="#fff"/>
<rect x="99" y="376" width="2" height="17" fill="#000"/>
<rect x="101" y="381" width="3" height="1" fill="#000"/>
<rect x="101" y="381" width="1" height="11" fill="#000"/>
<rect x="103" y="381" width="1" height="3" fill="#000"/>
<rect x="103" y="383" width="6" height="1" fill="#000"/>
<rect x="108" y="376" width="1" height="8" fill="#000"/>
<rect x="109" y="381" width="2" height="1" fill="#000"/>
<rect x="110" y="381" width="1" height="11" fill="#000"/>
<rect x="101" y="391" width="10" height="1" fill="#000"/>
<rect x="116" y="378" width="174" height="14" fill="#000"/>
<rect x="290" y="384" width="1" height="8" fill="#000"/>
<rect x="117" y="392" width="2" height="1" fill="#000"/>
<rect x="120" y="392" width="2" height="1" fill="#000"/>
<rect x="123" y="392" width="2" height="1" fill="#000"/>
<rect x="126" y="392" width="2" height="1" fill="#000"/>
<rect x="129" y="392" width="2" height="1" fill="#000"/>
<rect x="132" y="392" width="2" height="1" fill="#000"/>
<rect x="135" y="392" width="2" height="1" fill="#000"/>
<rect x="138" y="392" width="2" height="1" fill="#000"/>
<rect x="141" y="392" width="2" height="1" fill="#000"/>
<rect x="144" y="392" width="2" height="1" fill="#000"/>
<rect x="147" y="392" width="2" height="1" fill="#000"/>
<rect x="150" y="392" width="2" height="1" fill="#000"/>
<rect x="153" y="392" width="2" height="1" fill="#000"/>
<rect x="156" y="392" width="2" height="1" fill="#000"/>
<rect x="159" y="392" width="2" height="1" fill="#000"/>
<rect x="162" y="392" width="2" height="1" fill="#000"/>
<rect x="165" y="392" width="2" height="1" fill="#000"/>
<rect x="168" y="392" width="2" height="1" fill="#000"/>
<rect x="171" y="392" width="2" height="1" fill="#000"/>
<rect x="174" y="392" width="2" height="1" fill="#000"/>
<rect x="177" y="392" width="2" height="1" fill="#000"/>
<rect x="180" y="392" width="2" height="1" fill="#000"/>
<rect x="183" y="392" width="2" height="1" fill="#000"/>
<rect x="186" y="392" width="2" height="1" fill="#000"/>
<rect x="189" y="392" width="2" height="1" fill="#000"/>
<rect x="192" y="392" width="2" height="1" fill="#000"/>
<rect x="195" y="392" width="2" height="1" fill="#000"/>
<rect x="198" y="392" width="2" height="1" fill="#000"/>
<rect x="201" y="392" width="2" height="1" fill="#000"/>
<rect x="204" y="392" width="2" height="1" fill="#000"/>
<rect x="207" y="392" width="2" height="1" fill="#000"/>
<rect x="210" y="392" width="2" height="1" fill="#000"/>
<rect x="213" y="392" width="2" height="1" fill="#000"/>
<rect x="216" y="392" width="2" height="1" fill="#000"/>
<rect x="219" y="392" width="2" height="1" fill="#000"/>
<rect x="222" y="392" width="2" height="1" fill="#000"/>
<rect x="225" y="392" width="2" height="1" fill="#000"/>
<rect x="228" y="392" width="2" height="1" fill="#000"/>
<rect x="231" y="392" width="2" height="1" fill="#000"/>
<rect x="234" y="392" width="2" height="1" fill="#000"/>
<rect x="237" y="392" width="2" height="1" fill="#000"/>
<rect x="240" y="392" width="2" height="1" fill="#000"/>
<rect x="243" y="392" width="2" height="1" fill="#000"/>
<rect x="246" y="392" width="2" height="1" fill="#000"/>
<rect x="249" y="392" width="2" height="1" fill="#000"/>
<rect x="252" y="392" width="2" height="1" fill="#000"/>
<rect x="255" y="392" width="2" height="1" fill="#000"/>
<rect x="258" y="392" width="2" height="1" fill="#000"/>
<rect x="261" y="392" width="2" height="1" fill="#000"/>
<rect x="264" y="392" width="2" height="1" fill="#000"/>
<rect x="267" y="392" width="2" height="1" fill="#000"/>
<rect x="270" y="392" width="2" height="1" fill="#000"/>
<rect x="273" y="392" width="2" height="1" fill="#000"/>
<rect x="276" y="392" width="2" height="1" fill="#000"/>
<rect x="279" y="392" width="2" height="1" fill="#000"/>
<rect x="282" y="392" width="2" height="1" fill="#000"/>
<rect x="285" y="392" width="2" height="1" fill="#000"/>
<rect x="288" y="392" width="2" height="1" fill="#000"/>
<rect x="120" y="379" width="1" height="4" fill="#fff"/>
<rect x="119" y="385" width="4" height="6" fill="#fff"/>
<rect x="126" y="379" width="1" height="4" fill="#fff"/>
<rect x="125" y="385" width="4" height="6" fill="#fff"/>
<rect x="132" y="379" width="1" height="4" fill="#fff"/>
<rect x="130" y="385" width="4" height="6" fill="#fff"/>
<rect x="138" y="379" width="1" height="4" fill="#fff"/>
<rect x="136" y="385" width="4" height="6" fill="#fff"/>
<rect x="143" y="379" width="1" height="4" fill="#fff"/>
<rect x="142" y="385" width="4" height="6" fill="#fff"/>
<rect x="149" y="379" width="1" height="4" fill="#fff"/>
<rect x="148" y="385" width="4" height="6" fill="#fff"/>
<rect x="155" y="379" width="1" height="4" fill="#fff"/>
<rect x="154" y="385" width="4" height="6" fill="#fff"/>
<rect x="161" y="379" width="1" height="4" fill="#fff"/>
<rect x="160" y="385" width="4" height="6" fill="#fff"/>
<rect x="167" y="379" width="1" height="4" fill="#fff"/>
<rect x="166" y="385" width="4" height="6" fill="#fff"/>
<rect x="173" y="379" width="1" height="4" fill="#fff"/>
<rect x="172" y="385" width="4" height="6" fill="#fff"/>
<rect x="179" y="379" width="1" height="4" fill="#fff"/>
<rect x="178" y="385" width="4" height="6" fill="#fff"/>
<rect x="185" y="379" width="1" height="4" fill="#fff"/>
<rect x="184" y="385" width="4" height="6" fill="#fff"/>
<rect x="191" y="379" width="1" height="4" fill="#fff"/>
<rect x="189" y="385" width="4" height="6" fill="#fff"/>
<rect x="197" y="379" width="1" height="4" fill="#fff"/>
<rect x="195" y="385" width="4" height="6" fill="#fff"/>
<rect x="202" y="379" width="1" height="4" fill="#fff"/>
<rect x="201" y="385" width="4" height="6" fill="#fff"/>
<rect x="208" y="379" width="1" height="6" fill="#fff"/>
<rect x="207" y="385" width="4" height="6" fill="#fff"/>
<rect x="214" y="379" width="1" height="4" fill="#fff"/>
<rect x="213" y="385" width="4" height="6" fill="#fff"/>
<rect x="220" y="379" width="1" height="4" fill="#fff"/>
<rect x="219" y="385" width="4" height="6" fill="#fff"/>
<rect x="226" y="379" width="1" height="4" fill="#fff"/>
<rect x="225" y="385" width="4" height="6" fill="#fff"/>
<rect x="232" y="379" width="1" height="4" fill="#fff"/>
<rect x="231" y="385" width="4" height="6" fill="#fff"/>
<rect x="238" y="379" width="1" height="4" fill="#fff"/>
<rect x="237" y="385" width="4" height="6" fill="#fff"/>
<rect x="244" y="379" width="1" height="4" fill="#fff"/>
<rect x="242" y="385" width="4" height="6" fill="#fff"/>
<rect x="250" y="379" width="1" height="4" fill="#fff"/>
<rect x="248" y="385" width="4" height="6" fill="#fff"/>
<rect x="255" y="379" width="1" height="4" fill="#fff"/>
<rect x="254" y="385" width="4" height="6" fill="#fff"/>
<rect x="261" y="379" width="1" height="4" fill="#fff"/>
<rect x="260" y="385" width="4" height="6" fill="#fff"/>
<rect x="267" y="379" width="1" height="4" fill="#fff"/>
<rect x="266" y="385" width="4" height="6" fill="#fff"/>
<rect x="273" y="379" width="1" height="4" fill="#fff"/>
<rect x="272" y="385" width="4" height="6" fill="#fff"/>
<rect x="279" y="379" width="1" height="4" fill="#fff"/>
<rect x="278" y="385" width="4" height="6" fill="#fff"/>
<rect x="285" y="379" width="1" height="4" fill="#fff"/>
<rect x="284" y="385" width="4" height="6" fill="#fff"/>
<rect x="289" y="385" width="1" height="6" fill="#fff"/>
<rect x="115" y="384" width="1" height="8" fill="#000"/>
<rect x="116" y="385" width="1" height="6" fill="#fff"/>
<rect x="305" y="376" width="3" height="19" fill="#000"/>
<rect x="308" y="383" width="9" height="1" fill="#000"/>
<rect x="308" y="390" width="9" height="1" fill="#000"/>
<rect x="295" y="382" width="1" height="10" fill="#000"/>
<rect x="295" y="382" width="3" height="1" fill="#000"/>
<rect x="295" y="391" width="10" height="1" fill="#000"/>
<rect x="297" y="376" width="1" height="9" fill="#000"/>
<rect x="297" y="384" width="6" height="1" fill="#000"/>
<rect x="302" y="381" width="1" height="4" fill="#000"/>
<rect x="302" y="381" width="3" height="1" fill="#000"/>
<rect x="91" y="396" width="226" height="19" fill="#000"/>
<rect x="92" y="397" width="224" height="17" fill="#fff"/>
<rect x="90" y="403" width="9" height="8" fill="#000"/>
<rect x="91" y="404" width="7" height="6" fill="#fff"/>
<rect x="97" y="396" width="1" height="17" fill="#000"/>
<rect x="98" y="397" width="1" height="15" fill="#fff"/>
<rect x="99" y="396" width="2" height="17" fill="#000"/>
<rect x="101" y="401" width="3" height="1" fill="#000"/>
<rect x="101" y="401" width="1" height="11" fill="#000"/>
<rect x="103" y="401" width="1" height="3" fill="#000"/>
<rect x="103" y="403" width="6" height="1" fill="#000"/>
<rect x="108" y="396" width="1" height="8" fill="#000"/>
<rect x="109" y="401" width="2" height="1" fill="#000"/>
<rect x="110" y="401" width="1" height="11" fill="#000"/>
<rect x="101" y="411" width="10" height="1" fill="#000"/>
<rect x="116" y="398" width="174" height="14" fill="#000"/>
<rect x="290" y="404" width="1" height="8" fill="#000"/>
<rect x="117" y="412" width="2" height="1" fill="#000"/>
<rect x="120" y="412" width="2" height="1" fill="#000"/>
<rect x="123" y="412" width="2" height="1" fill="#000"/>
<rect x="126" y="412" width="2" height="1" fill="#000"/>
<rect x="129" y="412" width="2" height="1" fill="#000"/>
<rect x="132" y="412" width="2" height="1" fill="#000"/>
<rect x="135" y="412" width="2" height="1" fill="#000"/>
<rect x="138" y="412" width="2" height="1" fill="#000"/>
<rect x="141" y="412" width="2" height="1" fill="#000"/>
<rect x="144" y="412" width="2" height="1" fill="#000"/>
<rect x="147" y="412" width="2" height="1" fill="#000"/>
<rect x="150" y="412" width="2" height="1" fill="#000"/>
<rect x="153" y="412" width="2" height="1" fill="#000"/>
<rect x="156" y="412" width="2" height="1" fill="#000"/>
<rect x="159" y="412" width="2" height="1" fill="#000"/>
<rect x="162" y="412" width="2" height="1" fill="#000"/>
<rect x="165" y="412" width="2" height="1" fill="#000"/>
<rect x="168" y="412" width="2" height="1" fill="#000"/>
<rect x="171" y="412" width="2" height="1" fill="#000"/>
<rect x="174" y="412" width="2" height="1" fill="#000"/>
<rect x="177" y="412" width="2" height="1" fill="#000"/>
<rect x="180" y="412" width="2" height="1" fill="#000"/>
<rect x="183" y="412" width="2" height="1" fill="#000"/>
<rect x="186" y="412" width="2" height="1" fill="#000"/>
<rect x="189" y="412" width="2" height="1" fill="#000"/>
<rect x="192" y="412" width="2" height="1" fill="#000"/>
<rect x="195" y="412" width="2" height="1" fill="#000"/>
<rect x="198" y="412" width="2" height="1" fill="#000"/>
<rect x="201" y="412" width="2" height="1" fill="#000"/>
<rect x="204" y="412" width="2" height="1" fill="#000"/>
<rect x="207" y="412" width="2" height="1" fill="#000"/>
<rect x="210" y="412" width="2" height="1" fill="#000"/>
<rect x="213" y="412" width="2" height="1" fill="#000"/>
<rect x="216" y="412" width="2" height="1" fill="#000"/>
<rect x="219" y="412" width="2" height="1" fill="#000"/>
<rect x="222" y="412" width="2" height="1" fill="#000"/>
<rect x="225" y="412" width="2" height="1" fill="#000"/>
<rect x="228" y="412" width="2" height="1" fill="#000"/>
<rect x="231" y="412" width="2" height="1" fill="#000"/>
<rect x="234" y="412" width="2" height="1" fill="#000"/>
<rect x="237" y="412" width="2" height="1" fill="#000"/>
<rect x="240" y="412" width="2" height="1" fill="#000"/>
<rect x="243" y="412" width="2" height="1" fill="#000"/>
<rect x="246" y="412" width="2" height="1" fill="#000"/>
<rect x="249" y="412" width="2" height="1" fill="#000"/>
<rect x="252" y="412" width="2" height="1" fill="#000"/>
<rect x="255" y="412" width="2" height="1" fill="#000"/>
<rect x="258" y="412" width="2" height="1" fill="#000"/>
<rect x="261" y="412" width="2" height="1" fill="#000"/>
<rect x="264" y="412" width="2" height="1" fill="#000"/>
<rect x="267" y="412" width="2" height="1" fill="#000"/>
<rect x="270" y="412" width="2" height="1" fill="#000"/>
<rect x="273" y="412" width="2" height="1" fill="#000"/>
<rect x="276" y="412" width="2" height="1" fill="#000"/>
<rect x="279" y="412" width="2" height="1" fill="#000"/>
<rect x="282" y="412" width="2" height="1" fill="#000"/>
<rect x="285" y="412" width="2" height="1" fill="#000"/>
<rect x="288" y="412" width="2" height="1" fill="#000"/>
<rect x="120" y="399" width="1" height="4" fill="#fff"/>
<rect x="119" y="405" width="4" height="6" fill="#fff"/>
<rect x="126" y="399" width="1" height="4" fill="#fff"/>
<rect x="125" y="405" width="4" height="6" fill="#fff"/>
<rect x="132" y="399" width="1" height="4" fill="#fff"/>
<rect x="130" y="405" width="4" height="6" fill="#fff"/>
<rect x="138" y="399" width="1" height="4" fill="#fff"/>
<rect x="136" y="405" width="4" height="6" fill="#fff"/>
<rect x="143" y="399" width="1" height="4" fill="#fff"/>
<rect x="142" y="405" width="4" height="6" fill="#fff"/>
<rect x="149" y="399" width="1" height="4" fill="#fff"/>
<rect x="148" y="405" width="4" height="6" fill="#fff"/>
<rect x="155" y="399" width="1" height="4" fill="#fff"/>
<rect x="154" y="405" width="4" height="6" fill="#fff"/>
<rect x="161" y="399" width="1" height="4" fill="#fff"/>
<rect x="160" y="405" width="4" height="6" fill="#fff"/>
<rect x="167" y="399" width="1" height="4" fill="#fff"/>
<rect x="166" y="405" width="4" height="6" fill="#fff"/>
<rect x="173" y="399" width="1" height="4" fill="#fff"/>
<rect x="172" y="405" width="4" height="6" fill="#fff"/>
<rect x="179" y="399" width="1" height="4" fill="#fff"/>
<rect x="178" y="405" width="4" height="6" fill="#fff"/>
<rect x="185" y="399" width="1" height="4" fill="#fff"/>
<rect x="184" y="405" width="4" height="6" fill="#fff"/>
<rect x="191" y="399" width="1" height="4" fill="#fff"/>
<rect x="189" y="405" width="4" height="6" fill="#fff"/>
<rect x="197" y="399" width="1" height="4" fill="#fff"/>
<rect x="195" y="405" width="4" height="6" fill="#fff"/>
<rect x="202" y="399" width="1" height="4" fill="#fff"/>
<rect x="201" y="405" width="4" height="6" fill="#fff"/>
<rect x="208" y="399" width="1" height="6" fill="#fff"/>
<rect x="207" y="405" width="4" height="6" fill="#fff"/>
<rect x="214" y="399" width="1" height="4" fill="#fff"/>
<rect x="213" y="405" width="4" height="6" fill="#fff"/>
<rect x="220" y="399" width="1" height="4" fill="#fff"/>
<rect x="219" y="405" width="4" height="6" fill="#fff"/>
<rect x="226" y="399" width="1" height="4" fill="#fff"/>
<rect x="225" y="405" width="4" height="6" fill="#fff"/>
<rect x="232" y="399" width="1" height="4" fill="#fff"/>
<rect x="231" y="405" width="4" height="6" fill="#fff"/>
<rect x="238" y="399" width="1" height="4" fill="#fff"/>
<rect x="237" y="405" width="4" height="6" fill="#fff"/>
<rect x="244" y="399" width="1" height="4" fill="#fff"/>
<rect x="242" y="405" width="4" height="6" fill="#fff"/>
<rect x="250" y="399" width="1" height="4" fill="#fff"/>
<rect x="248" y="405" width="4" height="6" fill="#fff"/>
<rect x="255" y="399" width="1" height="4" fill="#fff"/>
<rect x="254" y="405" width="4" height="6" fill="#fff"/>
<rect x="261" y="399" width="1" height="4" fill="#fff"/>
<rect x="260" y="405" width="4" height="6" fill="#fff"/>
<rect x="267" y="399" width="1" height="4" fill="#fff"/>
<rect x="266" y="405" width="4" height="6" fill="#fff"/>
<rect x="273" y="399" width="1" height="4" fill="#fff"/>
<rect x="272" y="405" width="4" height="6" fill="#fff"/>
<rect x="279" y="399" width="1" height="4" fill="#fff"/>
<rect x="278" y="405" width="4" height="6" fill="#fff"/>
<rect x="285" y="399" width="1" height="4" fill="#fff"/>
<rect x="284" y="405" width="4" height="6" fill="#fff"/>
<rect x="289" y="405" width="1" height="6" fill="#fff"/>
<rect x="115" y="404" width="1" height="8" fill="#000"/>
<rect x="116" y="405" width="1" height="6" fill="#fff"/>
<rect x="305" y="396" width="3" height="19" fill="#000"/>
<rect x="308" y="403" width="9" height="1" fill="#000"/>
<rect x="308" y="410" width="9" height="1" fill="#000"/>
<rect x="295" y="402" width="1" height="10" fill="#000"/>
<rect x="295" y="402" width="3" height="1" fill="#000"/>
<rect x="295" y="411" width="10" height="1" fill="#000"/>
<rect x="297" y="396" width="1" height="9" fill="#000"/>
<rect x="297" y="404" width="6" height="1" fill="#000"/>
<rect x="302" y="401" width="1" height="4" fill="#000"/>
<rect x="302" y="401" width="3" height="1" fill="#000"/>
<rect x="91" y="416" width="226" height="20" fill="#000"/>
<rect x="92" y="417" width="224" height="18" fill="#fff"/>
<rect x="90" y="423" width="9" height="8" fill="#000"/>
<rect x="91" y="424" width="7" height="6" fill="#fff"/>
<rect x="97" y="416" width="1" height="18" fill="#000"/>
<rect x="98" y="417" width="1" height="16" fill="#fff"/>
<rect x="99" y="416" width="2" height="18" fill="#000"/>
<rect x="101" y="421" width="3" height="1" fill="#000"/>
<rect x="101" y="421" width="1" height="11" fill="#000"/>
<rect x="103" y="421" width="1" height="3" fill="#000"/>
<rect x="103" y="423" width="6" height="1" fill="#000"/>
<rect x="108" y="416" width="1" height="8" fill="#000"/>
<rect x="109" y="421" width="2" height="1" fill="#000"/>
<rect x="110" y="421" width="1" height="11" fill="#000"/>
<rect x="101" y="431" width="10" height="1" fill="#000"/>
<rect x="116" y="419" width="174" height="13" fill="#000"/>
<rect x="290" y="425" width="1" height="7" fill="#000"/>
<rect x="117" y="432" width="2" height="1" fill="#000"/>
<rect x="120" y="432" width="2" height="1" fill="#000"/>
<rect x="123" y="432" width="2" height="1" fill="#000"/>
<rect x="126" y="432" width="2" height="1" fill="#000"/>
<rect x="129" y="432" width="2" height="1" fill="#000"/>
<rect x="132" y="432" width="2" height="1" fill="#000"/>
<rect x="135" y="432" width="2" height="1" fill="#000"/>
<rect x="138" y="432" width="2" height="1" fill="#000"/>
<rect x="141" y="432" width="2" height="1" fill="#000"/>
<rect x="144" y="432" width="2" height="1" fill="#000"/>
<rect x="147" y="432" width="2" height="1" fill="#000"/>
<rect x="150" y="432" width="2" height="1" fill="#000"/>
<rect x="153" y="432" width="2" height="1" fill="#000"/>
<rect x="156" y="432" width="2" height="1" fill="#000"/>
<rect x="159" y="432" width="2" height="1" fill="#000"/>
<rect x="162" y="432" width="2" height="1" fill="#000"/>
<rect x="165" y="432" width="2" height="1" fill="#000"/>
<rect x="168" y="432" width="2" height="1" fill="#000"/>
<rect x="171" y="432" width="2" height="1" fill="#000"/>
<rect x="174" y="432" width="2" height="1" fill="#000"/>
<rect x="177" y="432" width="2" height="1" fill="#000"/>
<rect x="180" y="432" width="2" height="1" fill="#000"/>
<rect x="183" y="432" width="2" height="1" fill="#000"/>
<rect x="186" y="432" width="2" height="1" fill="#000"/>
<rect x="189" y="432" width="2" height="1" fill="#000"/>
<rect x="192" y="432" width="2" height="1" fill="#000"/>
<rect x="195" y="432" width="2" height="1" fill="#000"/>
<rect x="198" y="432" width="2" height="1" fill="#000"/>
<rect x="201" y="432" width="2" height="1" fill="#000"/>
<rect x="204" y="432" width="2" height="1" fill="#000"/>
<rect x="207" y="432" width="2" height="1" fill="#000"/>
<rect x="210" y="432" width="2" height="1" fill="#000"/>
<rect x="213" y="432" width="2" height="1" fill="#000"/>
<rect x="216" y="432" width="2" height="1" fill="#000"/>
<rect x="219" y="432" width="2" height="1" fill="#000"/>
<rect x="222" y="432" width="2" height="1" fill="#000"/>
<rect x="225" y="432" width="2" height="1" fill="#000"/>
<rect x="228" y="432" width="2" height="1" fill="#000"/>
<rect x="231" y="432" width="2" height="1" fill="#000"/>
<rect x="234" y="432" width="2" height="1" fill="#000"/>
<rect x="237" y="432" width="2" height="1" fill="#000"/>
<rect x="240" y="432" width="2" height="1" fill="#000"/>
<rect x="243" y="432" width="2" height="1" fill="#000"/>
<rect x="246" y="432" width="2" height="1" fill="#000"/>
<rect x="249" y="432" width="2" height="1" fill="#000"/>
<rect x="252" y="432" width="2" height="1" fill="#000"/>
<rect x="255" y="432" width="2" height="1" fill="#000"/>
<rect x="258" y="432" width="2" height="1" fill="#000"/>
<rect x="261" y="432" width="2" height="1" fill="#000"/>
<rect x="264" y="432" width="2" height="1" fill="#000"/>
<rect x="267" y="432" width="2" height="1" fill="#000"/>
<rect x="270" y="432" width="2" height="1" fill="#000"/>
<rect x="273" y="432" width="2" height="1" fill="#000"/>
<rect x="276" y="432" width="2" height="1" fill="#000"/>
<rect x="279" y="432" width="2" height="1" fill="#000"/>
<rect x="282" y="432" width="2" height="1" fill="#000"/>
<rect x="285" y="432" width="2" height="1" fill="#000"/>
<rect x="288" y="432" width="2" height="1" fill="#000"/>
<rect x="120" y="420" width="1" height="4" fill="#fff"/>
<rect x="119" y="426" width="4" height="5" fill="#fff"/>
<rect x="126" y="420" width="1" height="4" fill="#fff"/>
<rect x="125" y="426" width="4" height="5" fill="#fff"/>
<rect x="132" y="420" width="1" height="4" fill="#fff"/>
<rect x="130" y="426" width="4" height="5" fill="#fff"/>
<rect x="138" y="420" width="1" height="4" fill="#fff"/>
<rect x="136" y="426" width="4" height="5" fill="#fff"/>
<rect x="143" y="420" width="1" height="4" fill="#fff"/>
<rect x="142" y="426" width="4" height="5" fill="#fff"/>
<rect x="149" y="420" width="1" height="4" fill="#fff"/>
<rect x="148" y="426" width="4" height="5" fill="#fff"/>
<rect x="155" y="420" width="1" height="4" fill="#fff"/>
<rect x="154" y="426" width="4" height="5" fill="#fff"/>
<rect x="161" y="420" width="1" height="4" fill="#fff"/>
<rect x="160" y="426" width="4" height="5" fill="#fff"/>
<rect x="167" y="420" width="1" height="4" fill="#fff"/>
<rect x="166" y="426" width="4" height="5" fill="#fff"/>
<rect x="173" y="420" width="1" height="4" fill="#fff"/>
<rect x="172" y="426" width="4" height="5" fill="#fff"/>
<rect x="179" y="420" width="1" height="4" fill="#fff"/>
<rect x="178" y="426" width="4" height="5" fill="#fff"/>
<rect x="185" y="420" width="1" height="4" fill="#fff"/>
<rect x="184" y="426" width="4" height="5" fill="#fff"/>
<rect x="191" y="420" width="1" height="4" fill="#fff"/>
<rect x="189" y="426" width="4" height="5" fill="#fff"/>
<rect x="197" y="420" width="1" height="4" fill="#fff"/>
<rect x="195" y="426" width="4" height="5" fill="#fff"/>
<rect x="202" y="420" width="1" height="4" fill="#fff"/>
<rect x="201" y="426" width="4" height="5" fill="#fff"/>
<rect x="208" y="420" width="1" height="6" fill="#fff"/>
<rect x="207" y="426" width="4" height="5" fill="#fff"/>
<rect x="214" y="420" width="1" height="4" fill="#fff"/>
<rect x="213" y="426" width="4" height="5" fill="#fff"/>
<rect x="220" y="420" width="1" height="4" fill="#fff"/>
<rect x="219" y="426" width="4" height="5" fill="#fff"/>
<rect x="226" y="420" width="1" height="4" fill="#fff"/>
<rect x="225" y="426" width="4" height="5" fill="#fff"/>
<rect x="232" y="420" width="1" height="4" fill="#fff"/>
<rect x="231" y="426" width="4" height="5" fill="#fff"/>
<rect x="238" y="420" width="1" height="4" fill="#fff"/>
<rect x="237" y="426" width="4" height="5" fill="#fff"/>
<rect x="244" y="420" width="1" height="4" fill="#fff"/>
<rect x="242" y="426" width="4" height="5" fill="#fff"/>
<rect x="250" y="420" width="1" height="4" fill="#fff"/>
<rect x="248" y="426" width="4" height="5" fill="#fff"/>
<rect x="255" y="420" width="1" height="4" fill="#fff"/>
<rect x="254" y="426" width="4" height="5" fill="#fff"/>
<rect x="261" y="420" width="1" height="4" fill="#fff"/>
<rect x="260" y="426" width="4" height="5" fill="#fff"/>
<rect x="267" y="420" width="1" height="4" fill="#fff"/>
<rect x="266" y="426" width="4" height="5" fill="#fff"/>
<rect x="273" y="420" width="1" height="4" fill="#fff"/>
<rect x="272" y="426" width="4" height="5" fill="#fff"/>
<rect x="279" y="420" width="1" height="4" fill="#fff"/>
<rect x="278" y="426" width="4" height="5" fill="#fff"/>
<rect x="285" y="420" width="1" height="4" fill="#fff"/>
<rect x="284" y="426" width="4" height="5" fill="#fff"/>
<rect x="289" y="426" width="1" height="5" fill="#fff"/>
<rect x="115" y="425" width="1" height="7" fill="#000"/>
<rect x="116" y="426" width="1" height="5" fill="#fff"/>
<rect x="305" y="416" width="3" height="20" fill="#000"/>
<rect x="308" y="423" width="9" height="1" fill="#000"/>
<rect x="308" y="430" width="9" height="1" fill="#000"/>
<rect x="295" y="422" width="1" height="10" fill="#000"/>
<rect x="295" y="422" width="3" height="1" fill="#000"/>
<rect x="295" y="431" width="10" height="1" fill="#000"/>
<rect x="297" y="416" width="1" height="9" fill="#000"/>
<rect x="297" y="424" width="6" height="1" fill="#000"/>
<rect x="302" y="421" width="1" height="4" fill="#000"/>
<rect x="302" y="421" width="3" height="1" fill="#000"/>
<rect x="91" y="437" width="226" height="19" fill="#000"/>
<rect x="92" y="438" width="224" height="17" fill="#fff"/>
<rect x="90" y="444" width="9" height="8" fill="#000"/>
<rect x="91" y="445" width="7" height="6" fill="#fff"/>
<rect x="97" y="437" width="1" height="17" fill="#000"/>
<rect x="98" y="438" width="1" height="15" fill="#fff"/>
<rect x="99" y="437" width="2" height="17" fill="#000"/>
<rect x="101" y="442" width="3" height="1" fill="#000"/>
<rect x="101" y="442" width="1" height="11" fill="#000"/>
<rect x="103" y="442" width="1" height="3" fill="#000"/>
<rect x="103" y="444" width="6" height="1" fill="#000"/>
<rect x="108" y="437" width="1" height="8" fill="#000"/>
<rect x="109" y="442" width="2" height="1" fill="#000"/>
<rect x="110" y="442" width="1" height="11" fill="#000"/>
<rect x="101" y="452" width="10" height="1" fill="#000"/>
<rect x="116" y="439" width="174" height="14" fill="#000"/>
<rect x="290" y="445" width="1" height="8" fill="#000"/>
<rect x="117" y="453" width="2" height="1" fill="#000"/>
<rect x="120" y="453" width="2" height="1" fill="#000"/>
<rect x="123" y="453" width="2" height="1" fill="#000"/>
<rect x="126" y="453" width="2" height="1" fill="#000"/>
<rect x="129" y="453" width="2" height="1" fill="#000"/>
<rect x="132" y="453" width="2" height="1" fill="#000"/>
<rect x="135" y="453" width="2" height="1" fill="#000"/>
<rect x="138" y="453" width="2" height="1" fill="#000"/>
<rect x="141" y="453" width="2" height="1" fill="#000"/>
<rect x="144" y="453" width="2" height="1" fill="#000"/>
<rect x="147" y="453" width="2" height="1" fill="#000"/>
<rect x="150" y="453" width="2" height="1" fill="#000"/>
<rect x="153" y="453" width="2" height="1" fill="#000"/>
<rect x="156" y="453" width="2" height="1" fill="#000"/>
<rect x="159" y="453" width="2" height="1" fill="#000"/>
<rect x="162" y="453" width="2" height="1" fill="#000"/>
<rect x="165" y="453" width="2" height="1" fill="#000"/>
<rect x="168" y="453" width="2" height="1" fill="#000"/>
<rect x="171" y="453" width="2" height="1" fill="#000"/>
<rect x="174" y="453" width="2" height="1" fill="#000"/>
<rect x="177" y="453" width="2" height="1" fill="#000"/>
<rect x="180" y="453" width="2" height="1" fill="#000"/>
<rect x="183" y="453" width="2" height="1" fill="#000"/>
<rect x="186" y="453" width="2" height="1" fill="#000"/>
<rect x="189" y="453" width="2" height="1" fill="#000"/>
<rect x="192" y="453" width="2" height="1" fill="#000"/>
<rect x="195" y="453" width="2" height="1" fill="#000"/>
<rect x="198" y="453" width="2" height="1" fill="#000"/>
<rect x="201" y="453" width="2" height="1" fill="#000"/>
<rect x="204" y="453" width="2" height="1" fill="#000"/>
<rect x="207" y="453" width="2" height="1" fill="#000"/>
<rect x="210" y="453" width="2" height="1" fill="#000"/>
<rect x="213" y="453" width="2" height="1" fill="#000"/>
<rect x="216" y="453" width="2" height="1" fill="#000"/>
<rect x="219" y="453" width="2" height="1" fill="#000"/>
<rect x="222" y="453" width="2" height="1" fill="#000"/>
<rect x="225" y="453" width="2" height="1" fill="#000"/>
<rect x="228" y="453" width="2" height="1" fill="#000"/>
<rect x="231" y="453" width="2" height="1" fill="#000"/>
<rect x="234" y="453" width="2" height="1" fill="#000"/>
<rect x="237" y="453" width="2" height="1" fill="#000"/>
<rect x="240" y="453" width="2" height="1" fill="#000"/>
<rect x="243" y="453" width="2" height="1" fill="#000"/>
<rect x="246" y="453" width="2" height="1" fill="#000"/>
<rect x="249" y="453" width="2" height="1" fill="#000"/>
<rect x="252" y="453" width="2" height="1" fill="#000"/>
<rect x="255" y="453" width="2" height="1" fill="#000"/>
<rect x="258" y="453" width="2" height="1" fill="#000"/>
<rect x="261" y="453" width="2" height="1" fill="#000"/>
<rect x="264" y="453" width="2" height="1" fill="#000"/>
<rect x="267" y="453" width="2" height="1" fill="#000"/>
<rect x="270" y="453" width="2" height="1" fill="#000"/>
<rect x="273" y="453" width="2" height="1" fill="#000"/>
<rect x="276" y="453" width="2" height="1" fill="#000"/>
<rect x="279" y="453" width="2" height="1" fill="#000"/>
<rect x="282" y="453" width="2" height="1" fill="#000"/>
<rect x="285" y="453" width="2" height="1" fill="#000"/>
<rect x="288" y="453" width="2" height="1" fill="#000"/>
<rect x="120" y="440" width="1" height="4" fill="#fff"/>
<rect x="119" y="446" width="4" height="6" fill="#fff"/>
<rect x="126" y="440" width="1" height="4" fill="#fff"/>
<rect x="125" y="446" width="4" height="6" fill="#fff"/>
<rect x="132" y="440" width="1" height="4" fill="#fff"/>
<rect x="130" y="446" width="4" height="6" fill="#fff"/>
<rect x="138" y="440" width="1" height="4" fill="#fff"/>
<rect x="136" y="446" width="4" height="6" fill="#fff"/>
<rect x="143" y="440" width="1" height="4" fill="#fff"/>
<rect x="142" y="446" width="4" height="6" fill="#fff"/>
<rect x="149" y="440" width="1" height="4" fill="#fff"/>
<rect x="148" y="446" width="4" height="6" fill="#fff"/>
<rect x="155" y="440" width="1" height="4" fill="#fff"/>
<rect x="154" y="446" width="4" height="6" fill="#fff"/>
<rect x="161" y="440" width="1" height="4" fill="#fff"/>
<rect x="160" y="446" width="4" height="6" fill="#fff"/>
<rect x="167" y="440" width="1" height="4" fill="#fff"/>
<rect x="166" y="446" width="4" height="6" fill="#fff"/>
<rect x="173" y="440" width="1" height="4" fill="#fff"/>
<rect x="172" y="446" width="4" height="6" fill="#fff"/>
<rect x="179" y="440" width="1" height="4" fill="#fff"/>
<rect x="178" y="446" width="4" height="6" fill="#fff"/>
<rect x="185" y="440" width="1" height="4" fill="#fff"/>
<rect x="184" y="446" width="4" height="6" fill="#fff"/>
<rect x="191" y="440" width="1" height="4" fill="#fff"/>
<rect x="189" y="446" width="4" height="6" fill="#fff"/>
<rect x="197" y="440" width="1" height="4" fill="#fff"/>
<rect x="195" y="446" width="4" height="6" fill="#fff"/>
<rect x="202" y="440" width="1" height="4" fill="#fff"/>
<rect x="201" y="446" width="4" height="6" fill="#fff"/>
<rect x="208" y="440" width="1" height="6" fill="#fff"/>
<rect x="207" y="446" width="4" height="6" fill="#fff"/>
<rect x="214" y="440" width="1" height="4" fill="#fff"/>
<rect x="213" y="446" width="4" height="6" fill="#fff"/>
<rect x="220" y="440" width="1" height="4" fill="#fff"/>
<rect x="219" y="446" width="4" height="6" fill="#fff"/>
<rect x="226" y="440" width="1" height="4" fill="#fff"/>
<rect x="225" y="446" width="4" height="6" fill="#fff"/>
<rect x="232" y="440" width="1" height="4" fill="#fff"/>
<rect x="231" y="446" width="4" height="6" fill="#fff"/>
<rect x="238" y="440" width="1" height="4" fill="#fff"/>
<rect x="237" y="446" width="4" height="6" fill="#fff"/>
<rect x="244" y="440" width="1" height="4" fill="#fff"/>
<rect x="242" y="446" width="4" height="6" fill="#fff"/>
<rect x="250" y="440" width="1" height="4" fill="#fff"/>
<rect x="248" y="446" width="4" height="6" fill="#fff"/>
<rect x="255" y="440" width="1" height="4" fill="#fff"/>
<rect x="254" y="446" width="4" height="6" fill="#fff"/>
<rect x="261" y="440" width="1" height="4" fill="#fff"/>
<rect x="260" y="446" width="4" height="6" fill="#fff"/>
<rect x="267" y="440" width="1" height="4" fill="#fff"/>
<rect x="266" y="446" width="4" height="6" fill="#fff"/>
<rect x="273" y="440" width="1" height="4" fill="#fff"/>
<rect x="272" y="446" width="4" height="6" fill="#fff"/>
<rect x="279" y="440" width="1" height="4" fill="#fff"/>
<rect x="278" y="446" width="4" height="6" fill="#fff"/>
<rect x="285" y="440" width="1" height="4" fill="#fff"/>
<rect x="284" y="446" width="4" height="6" fill="#fff"/>
<rect x="289" y="446" width="1" height="6" fill="#fff"/>
<rect x="115" y="445" width="1" height="8" fill="#000"/>
<rect x="116" y="446" width="1" height="6" fill="#fff"/>
<rect x="305" y="437" width="3" height="19" fill="#000"/>
<rect x="308" y="444" width="9" height="1" fill="#000"/>
<rect x="308" y="451" width="9" height="1" fill="#000"/>
<rect x="295" y="443" width="1" height="10" fill="#000"/>
<rect x="295" y="443" width="3" height="1" fill="#000"/>
<rect x="295" y="452" width="10" height="1" fill="#000"/>
<rect x="297" y="437" width="1" height="9" fill="#000"/>
<rect x="297" y="445" width="6" height="1" fill="#000"/>
<rect x="302" y="442" width="1" height="4" fill="#000"/>
<rect x="302" y="442" width="3" height="1" fill="#000"/>
<rect x="91" y="457" width="226" height="19" fill="#000"/>
<rect x="92" y="458" width="224" height="17" fill="#fff"/>
<rect x="90" y="464" width="9" height="8" fill="#000"/>
<rect x="91" y="465" width="7" height="6" fill="#fff"/>
<rect x="97" y="457" width="1" height="17" fill="#000"/>
<rect x="98" y="458" width="1" height="15" fill="#fff"/>
<rect x="99" y="457" width="2" height="17" fill="#000"/>
<rect x="101" y="462" width="3" height="1" fill="#000"/>
<rect x="101" y="462" width="1" height="11" fill="#000"/>
<rect x="103" y="462" width="1" height="3" fill="#000"/>
<rect x="103" y="464" width="6" height="1" fill="#000"/>
<rect x="108" y="457" width="1" height="8" fill="#000"/>
<rect x="109" y="462" width="2" height="1" fill="#000"/>
<rect x="110" y="462" width="1" height="11" fill="#000"/>
<rect x="101" y="472" width="10" height="1" fill="#000"/>
<rect x="116" y="459" width="174" height="14" fill="#000"/>
<rect x="290" y="465" width="1" height="8" fill="#000"/>
<rect x="117" y="473" width="2" height="1" fill="#000"/>
<rect x="120" y="473" width="2" height="1" fill="#000"/>
<rect x="123" y="473" width="2" height="1" fill="#000"/>
<rect x="126" y="473" width="2" height="1" fill="#000"/>
<rect x="129" y="473" width="2" height="1" fill="#000"/>
<rect x="132" y="473" width="2" height="1" fill="#000"/>
<rect x="135" y="473" width="2" height="1" fill="#000"/>
<rect x="138" y="473" width="2" height="1" fill="#000"/>
<rect x="141" y="473" width="2" height="1" fill="#000"/>
<rect x="144" y="473" width="2" height="1" fill="#000"/>
<rect x="147" y="473" width="2" height="1" fill="#000"/>
<rect x="150" y="473" width="2" height="1" fill="#000"/>
<rect x="153" y="473" width="2" height="1" fill="#000"/>
<rect x="156" y="473" width="2" height="1" fill="#000"/>
<rect x="159" y="473" width="2" height="1" fill="#000"/>
<rect x="162" y="473" width="2" height="1" fill="#000"/>
<rect x="165" y="473" width="2" height="1" fill="#000"/>
<rect x="168" y="473" width="2" height="1" fill="#000"/>
<rect x="171" y="473" width="2" height="1" fill="#000"/>
<rect x="174" y="473" width="2" height="1" fill="#000"/>
<rect x="177" y="473" width="2" height="1" fill="#000"/>
<rect x="180" y="473" width="2" height="1" fill="#000"/>
<rect x="183" y="473" width="2" height="1" fill="#000"/>
<rect x="186" y="473" width="2" height="1" fill="#000"/>
<rect x="189" y="473" width="2" height="1" fill="#000"/>
<rect x="192" y="473" width="2" height="1" fill="#000"/>
<rect x="195" y="473" width="2" height="1" fill="#000"/>
<rect x="198" y="473" width="2" height="1" fill="#000"/>
<rect x="201" y="473" width="2" height="1" fill="#000"/>
<rect x="204" y="473" width="2" height="1" fill="#000"/>
<rect x="207" y="473" width="2" height="1" fill="#000"/>
<rect x="210" y="473" width="2" height="1" fill="#000"/>
<rect x="213" y="473" width="2" height="1" fill="#000"/>
<rect x="216" y="473" width="2" height="1" fill="#000"/>
<rect x="219" y="473" width="2" height="1" fill="#000"/>
<rect x="222" y="473" width="2" height="1" fill="#000"/>
<rect x="225" y="473" width="2" height="1" fill="#000"/>
<rect x="228" y="473" width="2" height="1" fill="#000"/>
<rect x="231" y="473" width="2" height="1" fill="#000"/>
<rect x="234" y="473" width="2" height="1" fill="#000"/>
<rect x="237" y="473" width="2" height="1" fill="#000"/>
<rect x="240" y="473" width="2" height="1" fill="#000"/>
<rect x="243" y="473" width="2" height="1" fill="#000"/>
<rect x="246" y="473" width="2" height="1" fill="#000"/>
<rect x="249" y="473" width="2" height="1" fill="#000"/>
<rect x="252" y="473" width="2" height="1" fill="#000"/>
<rect x="255" y="473" width="2" height="1" fill="#000"/>
<rect x="258" y="473" width="2" height="1" fill="#000"/>
<rect x="261" y="473" width="2" height="1" fill="#000"/>
<rect x="264" y="473" width="2" height="1" fill="#000"/>
<rect x="267" y="473" width="2" height="1" fill="#000"/>
<rect x="270" y="473" width="2" height="1" fill="#000"/>
<rect x="273" y="473" width="2" height="1" fill="#000"/>
<rect x="276" y="473" width="2" height="1" fill="#000"/>
<rect x="279" y="473" width="2" height="1" fill="#000"/>
<rect x="282" y="473" width="2" height="1" fill="#000"/>
<rect x="285" y="473" width="2" height="1" fill="#000"/>
<rect x="288" y="473" width="2" height="1" fill="#000"/>
<rect x="120" y="460" width="1" height="4" fill="#fff"/>
<rect x="119" y="466" width="4" height="6" fill="#fff"/>
<rect x="126" y="460" width="1" height="4" fill="#fff"/>
<rect x="125" y="466" width="4" height="6" fill="#fff"/>
<rect x="132" y="460" width="1" height="4" fill="#fff"/>
<rect x="130" y="466" width="4" height="6" fill="#fff"/>
<rect x="138" y="460" width="1" height="4" fill="#fff"/>
<rect x="136" y="466" width="4" height="6" fill="#fff"/>
<rect x="143" y="460" width="1" height="4" fill="#fff"/>
<rect x="142" y="466" width="4" height="6" fill="#fff"/>
<rect x="149" y="460" width="1" height="4" fill="#fff"/>
<rect x="148" y="466" width="4" height="6" fill="#fff"/>
<rect x="155" y="460" width="1" height="4" fill="#fff"/>
<rect x="154" y="466" width="4" height="6" fill="#fff"/>
<rect x="161" y="460" width="1" height="4" fill="#fff"/>
<rect x="160" y="466" width="4" height="6" fill="#fff"/>
<rect x="167" y="460" width="1" height="4" fill="#fff"/>
<rect x="166" y="466" width="4" height="6" fill="#fff"/>
<rect x="173" y="460" width="1" height="4" fill="#fff"/>
<rect x="172" y="466" width="4" height="6" fill="#fff"/>
<rect x="179" y="460" width="1" height="4" fill="#fff"/>
<rect x="178" y="466" width="4" height="6" fill="#fff"/>
<rect x="185" y="460" width="1" height="4" fill="#fff"/>
<rect x="184" y="466" width="4" height="6" fill="#fff"/>
<rect x="191" y="460" width="1" height="4" fill="#fff"/>
<rect x="189" y="466" width="4" height="6" fill="#fff"/>
<rect x="197" y="460" width="1" height="4" fill="#fff"/>
<rect x="195" y="466" width="4" height="6" fill="#fff"/>
<rect x="202" y="460" width="1" height="4" fill="#fff"/>
<rect x="201" y="466" width="4" height="6" fill="#fff"/>
<rect x="208" y="460" width="1" height="6" fill="#fff"/>
<rect x="207" y="466" width="4" height="6" fill="#fff"/>
<rect x="214" y="460" width="1" height="4" fill="#fff"/>
<rect x="213" y="466" width="4" height="6" fill="#fff"/>
<rect x="220" y="460" width="1" height="4" fill="#fff"/>
<rect x="219" y="466" width="4" height="6" fill="#fff"/>
<rect x="226" y="460" width="1" height="4" fill="#fff"/>
<rect x="225" y="466" width="4" height="6" fill="#fff"/>
<rect x="232" y="460" width="1" height="4" fill="#fff"/>
<rect x="231" y="466" width="4" height="6" fill="#fff"/>
<rect x="238" y="460" width="1" height="4" fill="#fff"/>
<rect x="237" y="466" width="4" height="6" fill="#fff"/>
<rect x="244" y="460" width="1" height="4" fill="#fff"/>
<rect x="242" y="466" width="4" height="6" fill="#fff"/>
<rect x="250" y="460" width="1" height="4" fill="#fff"/>
<rect x="248" y="466" width="4" height="6" fill="#fff"/>
<rect x="255" y="460" width="1" height="4" fill="#fff"/>
<rect x="254" y="466" width="4" height="6" fill="#fff"/>
<rect x="261" y="460" width="1" height="4" fill="#fff"/>
<rect x="260" y="466" width="4" height="6" fill="#fff"/>
<rect x="267" y="460" width="1" height="4" fill="#fff"/>
<rect x="266" y="466" width="4" height="6" fill="#fff"/>
<rect x="273" y="460" width="1" height="4" fill="#fff"/>
<rect x="272" y="466" width="4" height="6" fill="#fff"/>
<rect x="279" y="460" width="1" height="4" fill="#fff"/>
<rect x="278" y="466" width="4" height="6" fill="#fff"/>
<rect x="285" y="460" width="1" height="4" fill="#fff"/>
<rect x="284" y="466" width="4" height="6" fill="#fff"/>
<rect x="289" y="466" width="1" height="6" fill="#fff"/>
<rect x="115" y="465" width="1" height="8" fill="#000"/>
<rect x="116" y="466" width="1" height="6" fill="#fff"/>
<rect x="305" y="457" width="3" height="19" fill="#000"/>
<rect x="308" y="464" width="9" height="1" fill="#000"/>
<rect x="308" y="471" width="9" height="1" fill="#000"/>
<rect x="295" y="463" width="1" height="10" fill="#000"/>
<rect x="295" y="463" width="3" height="1" fill="#000"/>
<rect x="295" y="472" width="10" height="1" fill="#000"/>
<rect x="297" y="457" width="1" height="9" fill="#000"/>
<rect x="297" y="465" width="6" height="1" fill="#000"/>
<rect x="302" y="462" width="1" height="4" fill="#000"/>
<rect x="302" y="462" width="3" height="1" fill="#000"/>
<rect x="91" y="477" width="226" height="19" fill="#000"/>
<rect x="92" y="478" width="224" height="17" fill="#fff"/>
<rect x="90" y="484" width="9" height="8" fill="#000"/>
<rect x="91" y="485" width="7" height="6" fill="#fff"/>
<rect x="97" y="477" width="1" height="17" fill="#000"/>
<rect x="98" y="478" width="1" height="15" fill="#fff"/>
<rect x="99" y="477" width="2" height="17" fill="#000"/>
<rect x="101" y="482" width="3" height="1" fill="#000"/>
<rect x="101" y="482" width="1" height="11" fill="#000"/>
<rect x="103" y="482" width="1" height="3" fill="#000"/>
<rect x="103" y="484" width="6" height="1" fill="#000"/>
<rect x="108" y="477" width="1" height="8" fill="#000"/>
<rect x="109" y="482" width="2" height="1" fill="#000"/>
<rect x="110" y="482" width="1" height="11" fill="#000"/>
<rect x="101" y="492" width="10" height="1" fill="#000"/>
<rect x="116" y="479" width="174" height="14" fill="#000"/>
<rect x="290" y="485" width="1" height="8" fill="#000"/>
<rect x="117" y="493" width="2" height="1" fill="#000"/>
<rect x="120" y="493" width="2" height="1" fill="#000"/>
<rect x="123" y="493" width="2" height="1" fill="#000"/>
<rect x="126" y="493" width="2" height="1" fill="#000"/>
<rect x="129" y="493" width="2" height="1" fill="#000"/>
<rect x="132" y="493" width="2" height="1" fill="#000"/>
<rect x="135" y="493" width="2" height="1" fill="#000"/>
<rect x="138" y="493" width="2" height="1" fill="#000"/>
<rect x="141" y="493" width="2" height="1" fill="#000"/>
<rect x="144" y="493" width="2" height="1" fill="#000"/>
<rect x="147" y="493" width="2" height="1" fill="#000"/>
<rect x="150" y="493" width="2" height="1" fill="#000"/>
<rect x="153" y="493" width="2" height="1" fill="#000"/>
<rect x="156" y="493" width="2" height="1" fill="#000"/>
<rect x="159" y="493" width="2" height="1" fill="#000"/>
<rect x="162" y="493" width="2" height="1" fill="#000"/>
<rect x="165" y="493" width="2" height="1" fill="#000"/>
<rect x="168" y="493" width="2" height="1" fill="#000"/>
<rect x="171" y="493" width="2" height="1" fill="#000"/>
<rect x="174" y="493" width="2" height="1" fill="#000"/>
<rect x="177" y="493" width="2" height="1" fill="#000"/>
<rect x="180" y="493" width="2" height="1" fill="#000"/>
<rect x="183" y="493" width="2" height="1" fill="#000"/>
<rect x="186" y="493" width="2" height="1" fill="#000"/>
<rect x="189" y="493" width="2" height="1" fill="#000"/>
<rect x="192" y="493" width="2" height="1" fill="#000"/>
<rect x="195" y="493" width="2" height="1" fill="#000"/>
<rect x="198" y="493" width="2" height="1" fill="#000"/>
<rect x="201" y="493" width="2" height="1" fill="#000"/>
<rect x="204" y="493" width="2" height="1" fill="#000"/>
<rect x="207" y="493" width="2" height="1" fill="#000"/>
<rect x="210" y="493" width="2" height="1" fill="#000"/>
<rect x="213" y="493" width="2" height="1" fill="#000"/>
<rect x="216" y="493" width="2" height="1" fill="#000"/>
<rect x="219" y="493" width="2" height="1" fill="#000"/>
<rect x="222" y="493" width="2" height="1" fill="#000"/>
<rect x="225" y="493" width="2" height="1" fill="#000"/>
<rect x="228" y="493" width="2" height="1" fill="#000"/>
<rect x="231" y="493" width="2" height="1" fill="#000"/>
<rect x="234" y="493" width="2" height="1" fill="#000"/>
<rect x="237" y="493" width="2" height="1" fill="#000"/>
<rect x="240" y="493" width="2" height="1" fill="#000"/>
<rect x="243" y="493" width="2" height="1" fill="#000"/>
<rect x="246" y="493" width="2" height="1" fill="#000"/>
<rect x="249" y="493" width="2" height="1" fill="#000"/>
<rect x="252" y="493" width="2" height="1" fill="#000"/>
<rect x="255" y="493" width="2" height="1" fill="#000"/>
<rect x="258" y="493" width="2" height="1" fill="#000"/>
<rect x="261" y="493" width="2" height="1" fill="#000"/>
<rect x="264" y="493" width="2" height="1" fill="#000"/>
<rect x="267" y="493" width="2" height="1" fill="#000"/>
<rect x="270" y="493" width="2" height="1" fill="#000"/>
<rect x="273" y="493" width="2" height="1" fill="#000"/>
<rect x="276" y="493" width="2" height="1" fill="#000"/>
<rect x="279" y="493" width="2" height="1" fill="#000"/>
<rect x="282" y="493" width="2" height="1" fill="#000"/>
<rect x="285" y="493" width="2" height="1" fill="#000"/>
<rect x="288" y="493" width="2" height="1" fill="#000"/>
<rect x="120" y="480" width="1" height="4" fill="#fff"/>
<rect x="119" y="486" width="4" height="6" fill="#fff"/>
<rect x="126" y="480" width="1" height="4" fill="#fff"/>
<rect x="125" y="486" width="4" height="6" fill="#fff"/>
<rect x="132" y="480" width="1" height="4" fill="#fff"/>
<rect x="130" y="486" width="4" height="6" fill="#fff"/>
<rect x="138" y="480" width="1" height="4" fill="#fff"/>
<rect x="136" y="486" width="4" height="6" fill="#fff"/>
<rect x="143" y="480" width="1" height="4" fill="#fff"/>
<rect x="142" y="486" width="4" height="6" fill="#fff"/>
<rect x="149" y="480" width="1" height="4" fill="#fff"/>
<rect x="148" y="486" width="4" height="6" fill="#fff"/>
<rect x="155" y="480" width="1" height="4" fill="#fff"/>
<rect x="154" y="486" width="4" height="6" fill="#fff"/>
<rect x="161" y="480" width="1" height="4" fill="#fff"/>
<rect x="160" y="486" width="4" height="6" fill="#fff"/>
<rect x="167" y="480" width="1" height="4" fill="#fff"/>
<rect x="166" y="486" width="4" height="6" fill="#fff"/>
<rect x="173" y="480" width="1" height="4" fill="#fff"/>
<rect x="172" y="486" width="4" height="6" fill="#fff"/>
<rect x="179" y="480" width="1" height="4" fill="#fff"/>
<rect x="178" y="486" width="4" height="6" fill="#fff"/>
<rect x="185" y="480" width="1" height="4" fill="#fff"/>
<rect x="184" y="486" width="4" height="6" fill="#fff"/>
<rect x="191" y="480" width="1" height="4" fill="#fff"/>
<rect x="189" y="486" width="4" height="6" fill="#fff"/>
<rect x="197" y="480" width="1" height="4" fill="#fff"/>
<rect x="195" y="486" width="4" height="6" fill="#fff"/>
<rect x="202" y="480" width="1" height="4" fill="#fff"/>
<rect x="201" y="486" width="4" height="6" fill="#fff"/>
<rect x="208" y="480" width="1" height="6" fill="#fff"/>
<rect x="207" y="486" width="4" height="6" fill="#fff"/>
<rect x="214" y="480" width="1" height="4" fill="#fff"/>
<rect x="213" y="486" width="4" height="6" fill="#fff"/>
<rect x="220" y="480" width="1" height="4" fill="#fff"/>
<rect x="219" y="486" width="4" height="6" fill="#fff"/>
<rect x="226" y="480" width="1" height="4" fill="#fff"/>
<rect x="225" y="486" width="4" height="6" fill="#fff"/>
<rect x="232" y="480" width="1" height="4" fill="#fff"/>
<rect x="231" y="486" width="4" height="6" fill="#fff"/>
<rect x="238" y="480" width="1" height="4" fill="#fff"/>
<rect x="237" y="486" width="4" height="6" fill="#fff"/>
<rect x="244" y="480" width="1" height="4" fill="#fff"/>
<rect x="242" y="486" width="4" height="6" fill="#fff"/>
<rect x="250" y="480" width="1" height="4" fill="#fff"/>
<rect x="248" y="486" width="4" height="6" fill="#fff"/>
<rect x="255" y="480" width="1" height="4" fill="#fff"/>
<rect x="254" y="486" width="4" height="6" fill="#fff"/>
<rect x="261" y="480" width="1" height="4" fill="#fff"/>
<rect x="260" y="486" width="4" height="6" fill="#fff"/>
<rect x="267" y="480" width="1" height="4" fill="#fff"/>
<rect x="266" y="486" width="4" height="6" fill="#fff"/>
<rect x="273" y="480" width="1" height="4" fill="#fff"/>
<rect x="272" y="486" width="4" height="6" fill="#fff"/>
<rect x="279" y="480" width="1" height="4" fill="#fff"/>
<rect x="278" y="486" width="4" height="6" fill="#fff"/>
<rect x="285" y="480" width="1" height="4" fill="#fff"/>
<rect x="284" y="486" width="4" height="6" fill="#fff"/>
<rect x="289" y="486" width="1" height="6" fill="#fff"/>
<rect x="115" y="485" width="1" height="8" fill="#000"/>
<rect x="116" y="486" width="1" height="6" fill="#fff"/>
<rect x="305" y="477" width="3" height="19" fill="#000"/>
<rect x="308" y="484" width="9" height="1" fill="#000"/>
<rect x="308" y="491" width="9" height="1" fill="#000"/>
<rect x="295" y="483" width="1" height="10" fill="#000"/>
<rect x="295" y="483" width="3" height="1" fill="#000"/>
<rect x="295" y="492" width="10" height="1" fill="#000"/>
<rect x="297" y="477" width="1" height="9" fill="#000"/>
<rect x="297" y="485" width="6" height="1" fill="#000"/>
<rect x="302" y="482" width="1" height="4" fill="#000"/>
<rect x="302" y="482" width="3" height="1" fill="#000"/>
<rect x="91" y="497" width="226" height="19" fill="#000"/>
<rect x="92" y="498" width="224" height="17" fill="#fff"/>
<rect x="90" y="504" width="9" height="8" fill="#000"/>
<rect x="91" y="505" width="7" height="6" fill="#fff"/>
<rect x="97" y="497" width="1" height="17" fill="#000"/>
<rect x="98" y="498" width="1" height="15" fill="#fff"/>
<rect x="99" y="497" width="2" height="17" fill="#000"/>
<rect x="101" y="502" width="3" height="1" fill="#000"/>
<rect x="101" y="502" width="1" height="11" fill="#000"/>
<rect x="103" y="502" width="1" height="3" fill="#000"/>
<rect x="103" y="504" width="6" height="1" fill="#000"/>
<rect x="108" y="497" width="1" height="8" fill="#000"/>
<rect x="109" y="502" width="2" height="1" fill="#000"/>
<rect x="110" y="502" width="1" height="11" fill="#000"/>
<rect x="101" y="512" width="10" height="1" fill="#000"/>
<rect x="116" y="499" width="174" height="14" fill="#000"/>
<rect x="290" y="505" width="1" height="8" fill="#000"/>
<rect x="117" y="513" width="2" height="1" fill="#000"/>
<rect x="120" y="513" width="2" height="1" fill="#000"/>
<rect x="123" y="513" width="2" height="1" fill="#000"/>
<rect x="126" y="513" width="2" height="1" fill="#000"/>
<rect x="129" y="513" width="2" height="1" fill="#000"/>
<rect x="132" y="513" width="2" height="1" fill="#000"/>
<rect x="135" y="513" width="2" height="1" fill="#000"/>
<rect x="138" y="513" width="2" height="1" fill="#000"/>
<rect x="141" y="513" width="2" height="1" fill="#000"/>
<rect x="144" y="513" width="2" height="1" fill="#000"/>
<rect x="147" y="513" width="2" height="1" fill="#000"/>
<rect x="150" y="513" width="2" height="1" fill="#000"/>
<rect x="153" y="513" width="2" height="1" fill="#000"/>
<rect x="156" y="513" width="2" height="1" fill="#000"/>
<rect x="159" y="513" width="2" height="1" fill="#000"/>
<rect x="162" y="513" width="2" height="1" fill="#000"/>
<rect x="165" y="513" width="2" height="1" fill="#000"/>
<rect x="168" y="513" width="2" height="1" fill="#000"/>
<rect x="171" y="513" width="2" height="1" fill="#000"/>
<rect x="174" y="513" width="2" height="1" fill="#000"/>
<rect x="177" y="513" width="2" height="1" fill="#000"/>
<rect x="180" y="513" width="2" height="1" fill="#000"/>
<rect x="183" y="513" width="2" height="1" fill="#000"/>
<rect x="186" y="513" width="2" height="1" fill="#000"/>
<rect x="189" y="513" width="2" height="1" fill="#000"/>
<rect x="192" y="513" width="2" height="1" fill="#000"/>
<rect x="195" y="513" width="2" height="1" fill="#000"/>
<rect x="198" y="513" width="2" height="1" fill="#000"/>
<rect x="201" y="513" width="2" height="1" fill="#000"/>
<rect x="204" y="513" width="2" height="1" fill="#000"/>
<rect x="207" y="513" width="2" height="1" fill="#000"/>
<rect x="210" y="513" width="2" height="1" fill="#000"/>
<rect x="213" y="513" width="2" height="1" fill="#000"/>
<rect x="216" y="513" width="2" height="1" fill="#000"/>
<rect x="219" y="513" width="2" height="1" fill="#000"/>
<rect x="222" y="513" width="2" height="1" fill="#000"/>
<rect x="225" y="513" width="2" height="1" fill="#000"/>
<rect x="228" y="513" width="2" height="1" fill="#000"/>
<rect x="231" y="513" width="2" height="1" fill="#000"/>
<rect x="234" y="513" width="2" height="1" fill="#000"/>
<rect x="237" y="513" width="2" height="1" fill="#000"/>
<rect x="240" y="513" width="2" height="1" fill="#000"/>
<rect x="243" y="513" width="2" height="1" fill="#000"/>
<rect x="246" y="513" width="2" height="1" fill="#000"/>
<rect x="249" y="513" width="2" height="1" fill="#000"/>
<rect x="252" y="513" width="2" height="1" fill="#000"/>
<rect x="255" y="513" width="2" height="1" fill="#000"/>
<rect x="258" y="513" width="2" height="1" fill="#000"/>
<rect x="261" y="513" width="2" height="1" fill="#000"/>
<rect x="264" y="513" width="2" height="1" fill="#000"/>
<rect x="267" y="513" width="2" height="1" fill="#000"/>
<rect x="270" y="513" width="2" height="1" fill="#000"/>
<rect x="273" y="513" width="2" height="1" fill="#000"/>
<rect x="276" y="513" width="2" height="1" fill="#000"/>
<rect x="279" y="513" width="2" height="1" fill="#000"/>
<rect x="282" y="513" width="2" height="1" fill="#000"/>
<rect x="285" y="513" width="2" height="1" fill="#000"/>
<rect x="288" y="513" width="2" height="1" fill="#000"/>
<rect x="120" y="500" width="1" height="4" fill="#fff"/>
<rect x="119" y="506" width="4" height="6" fill="#fff"/>
<rect x="126" y="500" width="1" height="4" fill="#fff"/>
<rect x="125" y="506" width="4" height="6" fill="#fff"/>
<rect x="132" y="500" width="1" height="4" fill="#fff"/>
<rect x="130" y="506" width="4" height="6" fill="#fff"/>
<rect x="138" y="500" width="1" height="4" fill="#fff"/>
<rect x="136" y="506" width="4" height="6" fill="#fff"/>
<rect x="143" y="500" width="1" height="4" fill="#fff"/>
<rect x="142" y="506" width="4" height="6" fill="#fff"/>
<rect x="149" y="500" width="1" height="4" fill="#fff"/>
<rect x="148" y="506" width="4" height="6" fill="#fff"/>
<rect x="155" y="500" width="1" height="4" fill="#fff"/>
<rect x="154" y="506" width="4" height="6" fill="#fff"/>
<rect x="161" y="500" width="1" height="4" fill="#fff"/>
<rect x="160" y="506" width="4" height="6" fill="#fff"/>
<rect x="167" y="500" width="1" height="4" fill="#fff"/>
<rect x="166" y="506" width="4" height="6" fill="#fff"/>
<rect x="173" y="500" width="1" height="4" fill="#fff"/>
<rect x="172" y="506" width="4" height="6" fill="#fff"/>
<rect x="179" y="500" width="1" height="4" fill="#fff"/>
<rect x="178" y="506" width="4" height="6" fill="#fff"/>
<rect x="185" y="500" width="1" height="4" fill="#fff"/>
<rect x="184" y="506" width="4" height="6" fill="#fff"/>
<rect x="191" y="500" width="1" height="4" fill="#fff"/>
<rect x="189" y="506" width="4" height="6" fill="#fff"/>
<rect x="197" y="500" width="1" height="4" fill="#fff"/>
<rect x="195" y="506" width="4" height="6" fill="#fff"/>
<rect x="202" y="500" width="1" height="4" fill="#fff"/>
<rect x="201" y="506" width="4" height="6" fill="#fff"/>
<rect x="208" y="500" width="1" height="6" fill="#fff"/>
<rect x="207" y="506" width="4" height="6" fill="#fff"/>
<rect x="214" y="500" width="1" height="4" fill="#fff"/>
<rect x="213" y="506" width="4" height="6" fill="#fff"/>
<rect x="220" y="500" width="1" height="4" fill="#fff"/>
<rect x="219" y="506" width="4" height="6" fill="#fff"/>
<rect x="226" y="500" width="1" height="4" fill="#fff"/>
<rect x="225" y="506" width="4" height="6" fill="#fff"/>
<rect x="232" y="500" width="1" height="4" fill="#fff"/>
<rect x="231" y="506" width="4" height="6" fill="#fff"/>
<rect x="238" y="500" width="1" height="4" fill="#fff"/>
<rect x="237" y="506" width="4" height="6" fill="#fff"/>
<rect x="244" y="500" width="1" height="4" fill="#fff"/>
<rect x="242" y="506" width="4" height="6" fill="#fff"/>
<rect x="250" y="500" width="1" height="4" fill="#fff"/>
<rect x="248" y="506" width="4" height="6" fill="#fff"/>
<rect x="255" y="500" width="1" height="4" fill="#fff"/>
<rect x="254" y="506" width="4" height="6" fill="#fff"/>
<rect x="261" y="500" width="1" height="4" fill="#fff"/>
<rect x="260" y="506" width="4" height="6" fill="#fff"/>
<rect x="267" y="500" width="1" height="4" fill="#fff"/>
<rect x="266" y="506" width="4" height="6" fill="#fff"/>
<rect x="273" y="500" width="1" height="4" fill="#fff"/>
<rect x="272" y="506" width="4" height="6" fill="#fff"/>
<rect x="279" y="500" width="1" height="4" fill="#fff"/>
<rect x="278" y="506" width="4" height="6" fill="#fff"/>
<rect x="285" y="500" width="1" height="4" fill="#fff"/>
<rect x="284" y="506" width="4" height="6" fill="#fff"/>
<rect x="289" y="506" width="1" height="6" fill="#fff"/>
<rect x="115" y="505" width="1" height="8" fill="#000"/>
<rect x="116" y="506" width="1" height="6" fill="#fff"/>
<rect x="305" y="497" width="3" height="19" fill="#000"/>
<rect x="308" y="504" width="9" height="1" fill="#000"/>
<rect x="308" y="511" width="9" height="1" fill="#000"/>
<rect x="295" y="503" width="1" height="10" fill="#000"/>
<rect x="295" y="503" width="3" height="1" fill="#000"/>
<rect x="295" y="512" width="10" height="1" fill="#000"/>
<rect x="297" y="497" width="1" height="9" fill="#000"/>
<rect x="297" y="505" width="6" height="1" fill="#000"/>
<rect x="302" y="502" width="1" height="4" fill="#000"/>
<rect x="302" y="502" width="3" height="1" fill="#000"/>
<polygon points="102,148 157,148 159,150 159,164 157,166 102,166 100,164 100,150" fill="#000" shape-rendering="geometricPrecision"/>
<polygon points="103,150 156,150 157,151 157,163 156,164 103,164 102,163 102,151" fill="#fff" shape-rendering="geometricPrecision"/>
<polygon points="102,229 157,229 159,231 159,245 157,247 102,247 100,245 100,231" fill="#000" shape-rendering="geometricPrecision"/>
<polygon points="103,231 156,231 157,232 157,244 156,245 103,245 102,244 102,232" fill="#fff" shape-rendering="geometricPrecision"/>
<polygon points="176,387 231,387 233,389 233,403 231,405 176,405 174,403 174,389" fill="#000" shape-rendering="geometricPrecision"/>
<polygon points="177,389 230,389 231,390 231,402 230,403 177,403 176,402 176,390" fill="#fff" shape-rendering="geometricPrecision"/>
<polygon points="176,467 231,467 233,469 233,483 231,485 176,485 174,483 174,469" fill="#000" shape-rendering="geometricPrecision"/>
<polygon points="177,469 230,469 231,470 231,482 230,483 177,483 176,482 176,470" fill="#fff" shape-rendering="geometricPrecision"/>
<rect x="271" y="56" width="88" height="41" fill="#000"/>
<rect x="273" y="58" width="4" height="5" fill="#fff"/>
<rect x="273" y="90" width="4" height="5" fill="#fff"/>
<rect x="279" y="58" width="4" height="5" fill="#fff"/>
<rect x="279" y="90" width="4" height="5" fill="#fff"/>
<rect x="286" y="58" width="3" height="5" fill="#fff"/>
<rect x="286" y="90" width="3" height="5" fill="#fff"/>
<rect x="292" y="58" width="3" height="5" fill="#fff"/>
<rect x="292" y="90" width="3" height="5" fill="#fff"/>
<rect x="298" y="58" width="4" height="5" fill="#fff"/>
<rect x="298" y="90" width="4" height="5" fill="#fff"/>
<rect x="304" y="58" width="3" height="5" fill="#fff"/>
<rect x="304" y="90" width="3" height="5" fill="#fff"/>
<rect x="310" y="58" width="4" height="5" fill="#fff"/>
<rect x="310" y="90" width="4" height="5" fill="#fff"/>
<rect x="316" y="58" width="4" height="5" fill="#fff"/>
<rect x="316" y="90" width="4" height="5" fill="#fff"/>
<rect x="323" y="58" width="3" height="5" fill="#fff"/>
<rect x="323" y="90" width="3" height="5" fill="#fff"/>
<rect x="329" y="58" width="4" height="5" fill="#fff"/>
<rect x="329" y="90" width="4" height="5" fill="#fff"/>
<rect x="335" y="58" width="4" height="5" fill="#fff"/>
<rect x="335" y="90" width="4" height="5" fill="#fff"/>
<rect x="341" y="58" width="4" height="5" fill="#fff"/>
<rect x="341" y="90" width="4" height="5" fill="#fff"/>
<rect x="348" y="58" width="3" height="5" fill="#fff"/>
<rect x="348" y="90" width="3" height="5" fill="#fff"/>
<rect x="354" y="58" width="3" height="5" fill="#fff"/>
<rect x="354" y="90" width="3" height="5" fill="#fff"/>
<rect x="278" y="66" width="35" height="22" fill="#fff"/>
<rect x="317" y="66" width="35" height="22" fill="#fff"/>
<rect x="271" y="105" width="88" height="42" fill="#000"/>
<rect x="273" y="107" width="4" height="5" fill="#fff"/>
<rect x="273" y="139" width="4" height="6" fill="#fff"/>
<rect x="279" y="107" width="4" height="5" fill="#fff"/>
<rect x="279" y="139" width="4" height="6" fill="#fff"/>
<rect x="286" y="107" width="3" height="5" fill="#fff"/>
<rect x="286" y="139" width="3" height="6" fill="#fff"/>
<rect x="292" y="107" width="3" height="5" fill="#fff"/>
<rect x="292" y="139" width="3" height="6" fill="#fff"/>
<rect x="298" y="107" width="4" height="5" fill="#fff"/>
<rect x="298" y="139" width="4" height="6" fill="#fff"/>
<rect x="304" y="107" width="3" height="5" fill="#fff"/>
<rect x="304" y="139" width="3" height="6" fill="#fff"/>
<rect x="310" y="107" width="4" height="5" fill="#fff"/>
<rect x="310" y="139" width="4" height="6" fill="#fff"/>
<rect x="316" y="107" width="4" height="5" fill="#fff"/>
<rect x="316" y="139" width="4" height="6" fill="#fff"/>
<rect x="323" y="107" width="3" height="5" fill="#fff"/>
<rect x="323" y="139" width="3" height="6" fill="#fff"/>
<rect x="329" y="107" width="4" height="5" fill="#fff"/>
<rect x="329" y="139" width="4" height="6" fill="#fff"/>
<rect x="335" y="107" width="4" height="5" fill="#fff"/>
<rect x="335" y="139" width="4" height="6" fill="#fff"/>
<rect x="341" y="107" width="4" height="5" fill="#fff"/>
<rect x="341" y="139" width="4" height="6" fill="#fff"/>
<rect x="348" y="107" width="3" height="5" fill="#fff"/>
<rect x="348" y="139" width="3" height="6" fill="#fff"/>
<rect x="354" y="107" width="3" height="5" fill="#fff"/>
<rect x="354" y="139" width="3" height="6" fill="#fff"/>
<rect x="278" y="115" width="35" height="22" fill="#fff"/>
<rect x="317" y="115" width="35" height="22" fill="#fff"/>
<rect x="271" y="155" width="88" height="41" fill="#000"/>
<rect x="273" y="157" width="4" height="4" fill="#fff"/>
<rect x="273" y="189" width="4" height="5" fill="#fff"/>
<rect x="279" y="157" width="4" height="4" fill="#fff"/>
<rect x="279" y="189" width="4" height="5" fill="#fff"/>
<rect x="286" y="157" width="3" height="4" fill="#fff"/>
<rect x="286" y="189" width="3" height="5" fill="#fff"/>
<rect x="292" y="157" width="3" height="4" fill="#fff"/>
<rect x="292" y="189" width="3" height="5" fill="#fff"/>
<rect x="298" y="157" width="4" height="4" fill="#fff"/>
<rect x="298" y="189" width="4" height="5" fill="#fff"/>
<rect x="304" y="157" width="3" height="4" fill="#fff"/>
<rect x="304" y="189" width="3" height="5" fill="#fff"/>
<rect x="310" y="157" width="4" height="4" fill="#fff"/>
<rect x="310" y="189" width="4" height="5" fill="#fff"/>
<rect x="316" y="157" width="4" height="4" fill="#fff"/>
<rect x="316" y="189" width="4" height="5" fill="#fff"/>
<rect x="323" y="157" width="3" height="4" fill="#fff"/>
<rect x="323" y="189" width="3" height="5" fill="#fff"/>
<rect x="329" y="157" width="4" height="4" fill="#fff"/>
<rect x="329" y="189" width="4" height="5" fill="#fff"/>
<rect x="335" y="157" width="4" height="4" fill="#fff"/>
<rect x="335" y="189" width="4" height="5" fill="#fff"/>
<rect x="341" y="157" width="4" height="4" fill="#fff"/>
<rect x="341" y="189" width="4" height="5" fill="#fff"/>
<rect x="348" y="157" width="3" height="4" fill="#fff"/>
<rect x="348" y="189" width="3" height="5" fill="#fff"/>
<rect x="354" y="157" width="3" height="4" fill="#fff"/>
<rect x="354" y="189" width="3" height="5" fill="#fff"/>
<rect x="278" y="164" width="35" height="23" fill="#fff"/>
<rect x="317" y="164" width="35" height="23" fill="#fff"/>
<rect x="271" y="204" width="88" height="41" fill="#000"/>
<rect x="273" y="206" width="4" height="5" fill="#fff"/>
<rect x="273" y="238" width="4" height="5" fill="#fff"/>
<rect x="279" y="206" width="4" height="5" fill="#fff"/>
<rect x="279" y="238" width="4" height="5" fill="#fff"/>
<rect x="286" y="206" width="3" height="5" fill="#fff"/>
<rect x="286" y="238" width="3" height="5" fill="#fff"/>
<rect x="292" y="206" width="3" height="5" fill="#fff"/>
<rect x="292" y="238" width="3" height="5" fill="#fff"/>
<rect x="298" y="206" width="4" height="5" fill="#fff"/>
<rect x="298" y="238" width="4" height="5" fill="#fff"/>
<rect x="304" y="206" width="3" height="5" fill="#fff"/>
<rect x="304" y="238" width="3" height="5" fill="#fff"/>
<rect x="310" y="206" width="4" height="5" fill="#fff"/>
<rect x="310" y="238" width="4" height="5" fill="#fff"/>
<rect x="316" y="206" width="4" height="5" fill="#fff"/>
<rect x="316" y="238" width="4" height="5" fill="#fff"/>
<rect x="323" y="206" width="3" height="5" fill="#fff"/>
<rect x="323" y="238" width="3" height="5" fill="#fff"/>
<rect x="329" y="206" width="4" height="5" fill="#fff"/>
<rect x="329" y="238" width="4" height="5" fill="#fff"/>
<rect x="335" y="206" width="4" height="5" fill="#fff"/>
<rect x="335" y="238" width="4" height="5" fill="#fff"/>
<rect x="341" y="206" width="4" height="5" fill="#fff"/>
<rect x="341" y="238" width="4" height="5" fill="#fff"/>
<rect x="348" y="206" width="3" height="5" fill="#fff"/>
<rect x="348" y="238" width="3" height="5" fill="#fff"/>
<rect x="354" y="206" width="3" height="5" fill="#fff"/>
<rect x="354" y="238" width="3" height="5" fill="#fff"/>
<rect x="278" y="213" width="35" height="23" fill="#fff"/>
<rect x="317" y="213" width="35" height="23" fill="#fff"/>
<rect x="266" y="48" width="2" height="6" fill="#000"/>
<rect x="266" y="58" width="2" height="6" fill="#000"/>
<rect x="266" y="68" width="2" height="6" fill="#000"/>
<rect x="266" y="78" width="2" height="6" fill="#000"/>
<rect x="266" y="88" width="2" height="6" fill="#000"/>
<rect x="266" y="98" width="2" height="6" fill="#000"/>
<rect x="266" y="108" width="2" height="6" fill="#000"/>
<rect x="266" y="118" width="2" height="6" fill="#000"/>
<rect x="266" y="128" width="2" height="6" fill="#000"/>
<rect x="266" y="138" width="2" height="6" fill="#000"/>
<rect x="266" y="148" width="2" height="6" fill="#000"/>
<rect x="266" y="158" width="2" height="6" fill="#000"/>
<rect x="266" y="169" width="2" height="6" fill="#000"/>
<rect x="266" y="179" width="2" height="6" fill="#000"/>
<rect x="266" y="189" width="2" height="6" fill="#000"/>
<rect x="266" y="199" width="2" height="6" fill="#000"/>
<rect x="266" y="209" width="2" height="6" fill="#000"/>
<rect x="266" y="219" width="2" height="6" fill="#000"/>
<rect x="266" y="229" width="2" height="6" fill="#000"/>
<rect x="266" y="239" width="2" height="6" fill="#000"/>
<rect x="272" y="48" width="6" height="2" fill="#000"/>
<rect x="282" y="48" width="6" height="2" fill="#000"/>
<rect x="292" y="48" width="6" height="2" fill="#000"/>
<rect x="302" y="48" width="6" height="2" fill="#000"/>
<rect x="312" y="48" width="6" height="2" fill="#000"/>
<rect x="322" y="48" width="6" height="2" fill="#000"/>
<rect x="332" y="48" width="6" height="2" fill="#000"/>
<rect x="342" y="48" width="6" height="2" fill="#000"/>
<rect x="352" y="48" width="6" height="2" fill="#000"/>
<rect x="362" y="48" width="6" height="2" fill="#000"/>
<rect x="372" y="48" width="6" height="2" fill="#000"/>
<rect x="382" y="48" width="6" height="2" fill="#000"/>
<rect x="393" y="48" width="4" height="4" fill="#000"/>
<rect x="394" y="56" width="3" height="6" fill="#000"/>
<rect x="394" y="66" width="3" height="6" fill="#000"/>
<rect x="394" y="76" width="3" height="6" fill="#000"/>
<rect x="394" y="86" width="3" height="6" fill="#000"/>
<rect x="394" y="96" width="3" height="6" fill="#000"/>
<rect x="394" y="106" width="3" height="6" fill="#000"/>
<rect x="394" y="116" width="3" height="6" fill="#000"/>
<rect x="394" y="126" width="3" height="6" fill="#000"/>
<rect x="394" y="136" width="3" height="6" fill="#000"/>
<rect x="394" y="146" width="3" height="6" fill="#000"/>
<rect x="394" y="156" width="3" height="6" fill="#000"/>
<rect x="394" y="166" width="3" height="6" fill="#000"/>
<rect x="394" y="176" width="3" height="6" fill="#000"/>
<rect x="394" y="186" width="3" height="6" fill="#000"/>
<rect x="394" y="196" width="3" height="6" fill="#000"/>
<rect x="394" y="207" width="3" height="6" fill="#000"/>
<rect x="394" y="217" width="3" height="6" fill="#000"/>
<rect x="394" y="227" width="3" height="6" fill="#000"/>
<rect x="394" y="237" width="3" height="6" fill="#000"/>
<rect x="266" y="249" width="4" height="4" fill="#000"/>
<rect x="274" y="250" width="6" height="3" fill="#000"/>
<rect x="284" y="250" width="6" height="3" fill="#000"/>
<rect x="294" y="250" width="6" height="3" fill="#000"/>
<rect x="304" y="250" width="6" height="3" fill="#000"/>
<rect x="314" y="250" width="6" height="3" fill="#000"/>
<rect x="324" y="250" width="6" height="3" fill="#000"/>
<rect x="334" y="250" width="6" height="3" fill="#000"/>
<rect x="344" y="250" width="6" height="3" fill="#000"/>
<rect x="354" y="250" width="6" height="3" fill="#000"/>
<rect x="364" y="250" width="6" height="3" fill="#000"/>
<rect x="374" y="250" width="6" height="3" fill="#000"/>
<rect x="384" y="250" width="6" height="3" fill="#000"/>
<rect x="394" y="247" width="3" height="6" fill="#000"/>
<polygon points="296,92 334,92 336,94 336,108 334,110 296,110 294,108 294,94" fill="#000" shape-rendering="geometricPrecision"/>
<polygon points="297,94 333,94 334,95 334,107 333,108 297,108 296,107 296,95" fill="#fff" shape-rendering="geometricPrecision"/>
<polygon points="296,191 334,191 336,193 336,207 334,209 296,209 294,207 294,193" fill="#000" shape-rendering="geometricPrecision"/>
<polygon points="297,193 333,193 334,194 334,206 333,207 297,207 296,206 296,194" fill="#fff" shape-rendering="geometricPrecision"/>
<rect x="299" y="91" width="3" height="1" fill="#fff"/>
<rect x="299" y="111" width="3" height="1" fill="#fff"/>
<rect x="299" y="190" width="3" height="1" fill="#fff"/>
<rect x="299" y="210" width="3" height="1" fill="#fff"/>
<rect x="305" y="91" width="3" height="1" fill="#fff"/>
<rect x="305" y="111" width="3" height="1" fill="#fff"/>
<rect x="305" y="190" width="3" height="1" fill="#fff"/>
<rect x="305" y="210" width="3" height="1" fill="#fff"/>
<rect x="311" y="91" width="3" height="1" fill="#fff"/>
<rect x="311" y="111" width="3" height="1" fill="#fff"/>
<rect x="311" y="190" width="3" height="1" fill="#fff"/>
<rect x="311" y="210" width="3" height="1" fill="#fff"/>
<rect x="317" y="91" width="3" height="1" fill="#fff"/>
<rect x="317" y="111" width="3" height="1" fill="#fff"/>
<rect x="317" y="190" width="3" height="1" fill="#fff"/>
<rect x="317" y="210" width="3" height="1" fill="#fff"/>
<rect x="323" y="91" width="3" height="1" fill="#fff"/>
<rect x="323" y="111" width="3" height="1" fill="#fff"/>
<rect x="323" y="190" width="3" height="1" fill="#fff"/>
<rect x="323" y="210" width="3" height="1" fill="#fff"/>
<rect x="329" y="91" width="3" height="1" fill="#fff"/>
<rect x="329" y="111" width="3" height="1" fill="#fff"/>
<rect x="329" y="190" width="3" height="1" fill="#fff"/>
<rect x="329" y="210" width="3" height="1" fill="#fff"/>
<polygon points="372,114 385,114 388,117 388,183 385,186 372,186 369,183 369,117" fill="#000" shape-rendering="geometricPrecision"/>
<polygon points="373,116 384,116 386,118 386,181.5 384,183.5 373,183.5 371,181.5 371,118" fill="#fff" shape-rendering="geometricPrecision"/>
<rect x="422" y="86" width="7" height="19" fill="#000"/>
<rect x="423" y="87" width="5" height="1" fill="#fff"/>
<rect x="423" y="93" width="5" height="1" fill="#fff"/>
<rect x="423" y="98" width="5" height="2" fill="#fff"/>
<polygon points="447,91.3 444,92.6 439,94.0 431,95.0 431,97.0 439,98.0 444,98.4 447,99.7" fill="#000" shape-rendering="geometricPrecision"/>
<polygon points="449,86 485,86 488,89 488,102 485,105 449,105 446,102 446,89" fill="#000" shape-rendering="geometricPrecision"/>
<polygon points="449.2,89 484.3,89 485.5,90.2 485.5,101.3 484.3,102.5 449.2,102.5 448,101.3 448,90.2" fill="#fff" shape-rendering="geometricPrecision"/>
<rect x="11" y="332" width="14" height="7" fill="#000"/>
<rect x="12" y="333" width="12" height="5" fill="#fff"/>
<rect x="13" y="333" width="4" height="3" fill="#000"/>
<rect x="18" y="333" width="5" height="3" fill="#000"/>
<polygon points="26.5,319 19,329 20,330.3 30,322.5" fill="#000" shape-rendering="geometricPrecision"/>
<polygon points="29,304 49,304 52,307 52,320 49,323 29,323 26,320 26,307" fill="#000" shape-rendering="geometricPrecision"/>
<polygon points="29.2,307 48.3,307 49.5,308.2 49.5,319.3 48.3,320.5 29.2,320.5 28,319.3 28,308.2" fill="#fff" shape-rendering="geometricPrecision"/>
<rect x="11" y="347" width="26" height="7" fill="#000"/>
<rect x="12" y="348" width="1" height="5" fill="#fff"/>
<rect x="17" y="348" width="2" height="5" fill="#fff"/>
<rect x="23" y="348" width="1" height="5" fill="#fff"/>
<rect x="29" y="348" width="1" height="5" fill="#fff"/>
<rect x="35" y="348" width="1" height="5" fill="#fff"/>
<rect x="14" y="349" width="2" height="3" fill="#fff"/>
<rect x="52" y="347" width="31" height="7" fill="#000"/>
<rect x="53" y="348" width="1" height="5" fill="#fff"/>
<rect x="58" y="348" width="1" height="5" fill="#fff"/>
<rect x="64" y="348" width="1" height="5" fill="#fff"/>
<rect x="70" y="348" width="1" height="5" fill="#fff"/>
<rect x="75" y="348" width="2" height="5" fill="#fff"/>
<rect x="81" y="348" width="1" height="5" fill="#fff"/>
<rect x="55" y="349" width="2" height="3" fill="#fff"/>
<polygon points="21.5,372 21.8,355 24.8,355 27.5,372" fill="#000" shape-rendering="geometricPrecision"/>
<polygon points="15,371 35,371 38,374 38,387 35,390 15,390 12,387 12,374" fill="#000" shape-rendering="geometricPrecision"/>
<polygon points="15.2,374 34.3,374 35.5,375.2 35.5,386.3 34.3,387.5 15.2,387.5 14,386.3 14,375.2" fill="#fff" shape-rendering="geometricPrecision"/>
<polygon points="63.3,372 65.1,355 66.9,355 69.7,372" fill="#000" shape-rendering="geometricPrecision"/>
<polygon points="57,371 77,371 80,374 80,387 77,390 57,390 54,387 54,374" fill="#000" shape-rendering="geometricPrecision"/>
<polygon points="57.2,374 76.3,374 77.5,375.2 77.5,386.3 76.3,387.5 57.2,387.5 56,386.3 56,375.2" fill="#fff" shape-rendering="geometricPrecision"/>
<rect x="423" y="368" width="74" height="75" fill="#000"/>
<polygon points="446.8,399 473.2,399 474,399.8 474,412.2 473.2,413 446.8,413 446,412.2 446,399.8" fill="#fff" shape-rendering="geometricPrecision"/>
<rect x="544" y="424" width="65" height="67" fill="#000"/>
<rect x="558" y="440" width="37" height="36" fill="#fff"/>
<rect x="547" y="428" width="3" height="3" fill="#fff"/>
<rect x="547" y="434" width="3" height="3" fill="#fff"/>
<rect x="549" y="434" width="1" height="1" fill="#000"/>
<rect x="547" y="439" width="3" height="3" fill="#fff"/>
<rect x="547" y="439" width="1" height="1" fill="#000"/>
<rect x="547" y="445" width="3" height="3" fill="#fff"/>
<rect x="549" y="447" width="1" height="1" fill="#000"/>
<rect x="547" y="451" width="3" height="3" fill="#fff"/>
<rect x="547" y="453" width="1" height="1" fill="#000"/>
<rect x="547" y="456" width="3" height="3" fill="#fff"/>
<rect x="549" y="456" width="1" height="1" fill="#000"/>
<rect x="547" y="462" width="3" height="3" fill="#fff"/>
<rect x="547" y="462" width="1" height="1" fill="#000"/>
<rect x="547" y="468" width="3" height="3" fill="#fff"/>
<rect x="549" y="470" width="1" height="1" fill="#000"/>
<rect x="547" y="473" width="3" height="3" fill="#fff"/>
<rect x="547" y="475" width="1" height="1" fill="#000"/>
<rect x="547" y="479" width="3" height="3" fill="#fff"/>
<rect x="549" y="479" width="1" height="1" fill="#000"/>
<rect x="547" y="485" width="3" height="3" fill="#fff"/>
<rect x="553" y="428" width="3" height="3" fill="#fff"/>
<rect x="555" y="430" width="1" height="1" fill="#000"/>
<rect x="553" y="434" width="3" height="3" fill="#fff"/>
<rect x="555" y="434" width="1" height="1" fill="#000"/>
<rect x="553" y="436" width="1" height="1" fill="#000"/>
<rect x="553" y="439" width="3" height="3" fill="#fff"/>
<rect x="553" y="439" width="1" height="1" fill="#000"/>
<rect x="555" y="441" width="1" height="1" fill="#000"/>
<rect x="553" y="445" width="3" height="3" fill="#fff"/>
<rect x="555" y="445" width="1" height="1" fill="#000"/>
<rect x="553" y="447" width="1" height="1" fill="#000"/>
<rect x="553" y="451" width="3" height="3" fill="#fff"/>
<rect x="553" y="451" width="1" height="1" fill="#000"/>
<rect x="555" y="453" width="1" height="1" fill="#000"/>
<rect x="553" y="456" width="3" height="3" fill="#fff"/>
<rect x="555" y="456" width="1" height="1" fill="#000"/>
<rect x="553" y="458" width="1" height="1" fill="#000"/>
<rect x="553" y="462" width="3" height="3" fill="#fff"/>
<rect x="553" y="462" width="1" height="1" fill="#000"/>
<rect x="555" y="464" width="1" height="1" fill="#000"/>
<rect x="553" y="468" width="3" height="3" fill="#fff"/>
<rect x="555" y="468" width="1" height="1" fill="#000"/>
<rect x="553" y="470" width="1" height="1" fill="#000"/>
<rect x="553" y="473" width="3" height="3" fill="#fff"/>
<rect x="553" y="473" width="1" height="1" fill="#000"/>
<rect x="555" y="475" width="1" height="1" fill="#000"/>
<rect x="553" y="479" width="3" height="3" fill="#fff"/>
<rect x="555" y="479" width="1" height="1" fill="#000"/>
<rect x="553" y="481" width="1" height="1" fill="#000"/>
<rect x="553" y="485" width="3" height="3" fill="#fff"/>
<rect x="555" y="485" width="1" height="1" fill="#000"/>
<rect x="558" y="428" width="3" height="3" fill="#fff"/>
<rect x="558" y="428" width="1" height="1" fill="#000"/>
<rect x="558" y="434" width="3" height="3" fill="#fff"/>
<rect x="558" y="434" width="1" height="1" fill="#000"/>
<rect x="560" y="436" width="1" height="1" fill="#000"/>
<rect x="558" y="479" width="3" height="3" fill="#fff"/>
<rect x="558" y="479" width="1" height="1" fill="#000"/>
<rect x="560" y="481" width="1" height="1" fill="#000"/>
<rect x="558" y="485" width="3" height="3" fill="#fff"/>
<rect x="558" y="487" width="1" height="1" fill="#000"/>
<rect x="564" y="428" width="3" height="3" fill="#fff"/>
<rect x="566" y="428" width="1" height="1" fill="#000"/>
<rect x="564" y="434" width="3" height="3" fill="#fff"/>
<rect x="566" y="434" width="1" height="1" fill="#000"/>
<rect x="564" y="436" width="1" height="1" fill="#000"/>
<rect x="564" y="479" width="3" height="3" fill="#fff"/>
<rect x="566" y="479" width="1" height="1" fill="#000"/>
<rect x="564" y="481" width="1" height="1" fill="#000"/>
<rect x="564" y="485" width="3" height="3" fill="#fff"/>
<rect x="566" y="487" width="1" height="1" fill="#000"/>
<rect x="569" y="428" width="3" height="3" fill="#fff"/>
<rect x="569" y="430" width="1" height="1" fill="#000"/>
<rect x="569" y="434" width="3" height="3" fill="#fff"/>
<rect x="569" y="434" width="1" height="1" fill="#000"/>
<rect x="571" y="436" width="1" height="1" fill="#000"/>
<rect x="569" y="479" width="3" height="3" fill="#fff"/>
<rect x="569" y="479" width="1" height="1" fill="#000"/>
<rect x="571" y="481" width="1" height="1" fill="#000"/>
<rect x="569" y="485" width="3" height="3" fill="#fff"/>
<rect x="569" y="485" width="1" height="1" fill="#000"/>
<rect x="575" y="428" width="3" height="3" fill="#fff"/>
<rect x="577" y="430" width="1" height="1" fill="#000"/>
<rect x="575" y="434" width="3" height="3" fill="#fff"/>
<rect x="577" y="434" width="1" height="1" fill="#000"/>
<rect x="575" y="436" width="1" height="1" fill="#000"/>
<rect x="575" y="479" width="3" height="3" fill="#fff"/>
<rect x="577" y="479" width="1" height="1" fill="#000"/>
<rect x="575" y="481" width="1" height="1" fill="#000"/>
<rect x="575" y="485" width="3" height="3" fill="#fff"/>
<rect x="577" y="485" width="1" height="1" fill="#000"/>
<rect x="581" y="428" width="3" height="3" fill="#fff"/>
<rect x="581" y="428" width="1" height="1" fill="#000"/>
<rect x="581" y="434" width="3" height="3" fill="#fff"/>
<rect x="581" y="434" width="1" height="1" fill="#000"/>
<rect x="583" y="436" width="1" height="1" fill="#000"/>
<rect x="581" y="479" width="3" height="3" fill="#fff"/>
<rect x="581" y="479" width="1" height="1" fill="#000"/>
<rect x="583" y="481" width="1" height="1" fill="#000"/>
<rect x="581" y="485" width="3" height="3" fill="#fff"/>
<rect x="581" y="487" width="1" height="1" fill="#000"/>
<rect x="586" y="428" width="3" height="3" fill="#fff"/>
<rect x="588" y="428" width="1" height="1" fill="#000"/>
<rect x="586" y="434" width="3" height="3" fill="#fff"/>
<rect x="588" y="434" width="1" height="1" fill="#000"/>
<rect x="586" y="436" width="1" height="1" fill="#000"/>
<rect x="586" y="479" width="3" height="3" fill="#fff"/>
<rect x="588" y="479" width="1" height="1" fill="#000"/>
<rect x="586" y="481" width="1" height="1" fill="#000"/>
<rect x="586" y="485" width="3" height="3" fill="#fff"/>
<rect x="588" y="487" width="1" height="1" fill="#000"/>
<rect x="592" y="428" width="3" height="3" fill="#fff"/>
<rect x="592" y="430" width="1" height="1" fill="#000"/>
<rect x="592" y="434" width="3" height="3" fill="#fff"/>
<rect x="592" y="434" width="1" height="1" fill="#000"/>
<rect x="594" y="436" width="1" height="1" fill="#000"/>
<rect x="592" y="479" width="3" height="3" fill="#fff"/>
<rect x="592" y="479" width="1" height="1" fill="#000"/>
<rect x="594" y="481" width="1" height="1" fill="#000"/>
<rect x="592" y="485" width="3" height="3" fill="#fff"/>
<rect x="592" y="485" width="1" height="1" fill="#000"/>
<rect x="597" y="428" width="3" height="3" fill="#fff"/>
<rect x="599" y="430" width="1" height="1" fill="#000"/>
<rect x="597" y="434" width="3" height="3" fill="#fff"/>
<rect x="599" y="434" width="1" height="1" fill="#000"/>
<rect x="597" y="436" width="1" height="1" fill="#000"/>
<rect x="597" y="439" width="3" height="3" fill="#fff"/>
<rect x="597" y="439" width="1" height="1" fill="#000"/>
<rect x="599" y="441" width="1" height="1" fill="#000"/>
<rect x="597" y="445" width="3" height="3" fill="#fff"/>
<rect x="599" y="445" width="1" height="1" fill="#000"/>
<rect x="597" y="447" width="1" height="1" fill="#000"/>
<rect x="597" y="451" width="3" height="3" fill="#fff"/>
<rect x="597" y="451" width="1" height="1" fill="#000"/>
<rect x="599" y="453" width="1" height="1" fill="#000"/>
<rect x="597" y="456" width="3" height="3" fill="#fff"/>
<rect x="599" y="456" width="1" height="1" fill="#000"/>
<rect x="597" y="458" width="1" height="1" fill="#000"/>
<rect x="597" y="462" width="3" height="3" fill="#fff"/>
<rect x="597" y="462" width="1" height="1" fill="#000"/>
<rect x="599" y="464" width="1" height="1" fill="#000"/>
<rect x="597" y="468" width="3" height="3" fill="#fff"/>
<rect x="599" y="468" width="1" height="1" fill="#000"/>
<rect x="597" y="470" width="1" height="1" fill="#000"/>
<rect x="597" y="473" width="3" height="3" fill="#fff"/>
<rect x="597" y="473" width="1" height="1" fill="#000"/>
<rect x="599" y="475" width="1" height="1" fill="#000"/>
<rect x="597" y="479" width="3" height="3" fill="#fff"/>
<rect x="599" y="479" width="1" height="1" fill="#000"/>
<rect x="597" y="481" width="1" height="1" fill="#000"/>
<rect x="597" y="485" width="3" height="3" fill="#fff"/>
<rect x="599" y="485" width="1" height="1" fill="#000"/>
<rect x="603" y="428" width="3" height="3" fill="#fff"/>
<rect x="603" y="434" width="3" height="3" fill="#fff"/>
<rect x="605" y="436" width="1" height="1" fill="#000"/>
<rect x="603" y="439" width="3" height="3" fill="#fff"/>
<rect x="603" y="441" width="1" height="1" fill="#000"/>
<rect x="603" y="445" width="3" height="3" fill="#fff"/>
<rect x="605" y="445" width="1" height="1" fill="#000"/>
<rect x="603" y="451" width="3" height="3" fill="#fff"/>
<rect x="603" y="451" width="1" height="1" fill="#000"/>
<rect x="603" y="456" width="3" height="3" fill="#fff"/>
<rect x="605" y="458" width="1" height="1" fill="#000"/>
<rect x="603" y="462" width="3" height="3" fill="#fff"/>
<rect x="603" y="464" width="1" height="1" fill="#000"/>
<rect x="603" y="468" width="3" height="3" fill="#fff"/>
<rect x="605" y="468" width="1" height="1" fill="#000"/>
<rect x="603" y="473" width="3" height="3" fill="#fff"/>
<rect x="603" y="473" width="1" height="1" fill="#000"/>
<rect x="603" y="479" width="3" height="3" fill="#fff"/>
<rect x="605" y="481" width="1" height="1" fill="#000"/>
<rect x="603" y="485" width="3" height="3" fill="#fff"/>
<polygon points="564,448 589,448 592,451 592,464 589,467 564,467 561,464 561,451" fill="#000" shape-rendering="geometricPrecision"/>
<polygon points="564.2,451 588.8,451 590,452.2 590,462.8 588.8,464 564.2,464 563,462.8 563,452.2" fill="#fff" shape-rendering="geometricPrecision"/>
<rect x="533" y="495" width="31" height="7" fill="#000"/>
<rect x="534" y="496" width="28" height="1" fill="#fff"/>
<rect x="534" y="496" width="1" height="5" fill="#fff"/>
<rect x="539" y="496" width="1" height="5" fill="#fff"/>
<rect x="545" y="496" width="1" height="5" fill="#fff"/>
<rect x="551" y="496" width="1" height="5" fill="#fff"/>
<rect x="557" y="496" width="1" height="5" fill="#fff"/>
<rect x="562" y="496" width="1" height="5" fill="#fff"/>
<rect x="556" y="497" width="1" height="4" fill="#fff"/>
<rect x="581" y="495" width="19" height="7" fill="#000"/>
<rect x="582" y="496" width="16" height="1" fill="#fff"/>
<rect x="582" y="496" width="1" height="5" fill="#fff"/>
<rect x="587" y="496" width="1" height="5" fill="#fff"/>
<rect x="593" y="496" width="1" height="5" fill="#fff"/>
<polygon points="514,494.3 517,495.6 522,496.8 530,497.8 530,499.8 522,500.8 517,501.4 514,502.7" fill="#000" shape-rendering="geometricPrecision"/>
<polygon points="476,489 512,489 515,492 515,505 512,508 476,508 473,505 473,492" fill="#000" shape-rendering="geometricPrecision"/>
<polygon points="476.2,492 511.3,492 512.5,493.2 512.5,504.3 511.3,505.5 476.2,505.5 475,504.3 475,493.2" fill="#fff" shape-rendering="geometricPrecision"/>
<polygon points="618,494.3 615,495.6 610,496.8 602,497.8 602,499.8 610,500.8 615,501.4 618,502.7" fill="#000" shape-rendering="geometricPrecision"/>
<polygon points="620,489 656,489 659,492 659,505 656,508 620,508 617,505 617,492" fill="#000" shape-rendering="geometricPrecision"/>
<polygon points="620.2,492 655.3,492 656.5,493.2 656.5,504.3 655.3,505.5 620.2,505.5 619,504.3 619,493.2" fill="#fff" shape-rendering="geometricPrecision"/>
<rect x="653" y="448" width="127" height="43" fill="#000"/>
<rect x="661" y="457" width="110" height="24" fill="#fff"/>
<rect x="713" y="457" width="6" height="24" fill="#000"/>
<rect x="656" y="450" width="4" height="5" fill="#fff"/>
<rect x="656" y="484" width="4" height="5" fill="#fff"/>
<rect x="663" y="450" width="3" height="5" fill="#fff"/>
<rect x="663" y="484" width="3" height="5" fill="#fff"/>
<rect x="669" y="450" width="4" height="5" fill="#fff"/>
<rect x="669" y="484" width="4" height="5" fill="#fff"/>
<rect x="675" y="450" width="4" height="5" fill="#fff"/>
<rect x="675" y="484" width="4" height="5" fill="#fff"/>
<rect x="682" y="450" width="3" height="5" fill="#fff"/>
<rect x="682" y="484" width="3" height="5" fill="#fff"/>
<rect x="687" y="450" width="4" height="5" fill="#fff"/>
<rect x="687" y="484" width="4" height="5" fill="#fff"/>
<rect x="694" y="450" width="3" height="5" fill="#fff"/>
<rect x="694" y="484" width="3" height="5" fill="#fff"/>
<rect x="700" y="450" width="3" height="5" fill="#fff"/>
<rect x="700" y="484" width="3" height="5" fill="#fff"/>
<rect x="706" y="450" width="4" height="5" fill="#fff"/>
<rect x="706" y="484" width="4" height="5" fill="#fff"/>
<rect x="712" y="450" width="4" height="5" fill="#fff"/>
<rect x="712" y="484" width="4" height="5" fill="#fff"/>
<rect x="719" y="450" width="3" height="5" fill="#fff"/>
<rect x="719" y="484" width="3" height="5" fill="#fff"/>
<rect x="725" y="450" width="3" height="5" fill="#fff"/>
<rect x="725" y="484" width="3" height="5" fill="#fff"/>
<rect x="731" y="450" width="4" height="5" fill="#fff"/>
<rect x="731" y="484" width="4" height="5" fill="#fff"/>
<rect x="737" y="450" width="4" height="5" fill="#fff"/>
<rect x="737" y="484" width="4" height="5" fill="#fff"/>
<rect x="744" y="450" width="3" height="5" fill="#fff"/>
<rect x="744" y="484" width="3" height="5" fill="#fff"/>
<rect x="749" y="450" width="4" height="5" fill="#fff"/>
<rect x="749" y="484" width="4" height="5" fill="#fff"/>
<rect x="756" y="450" width="3" height="5" fill="#fff"/>
<rect x="756" y="484" width="3" height="5" fill="#fff"/>
<rect x="762" y="450" width="4" height="5" fill="#fff"/>
<rect x="762" y="484" width="4" height="5" fill="#fff"/>
<rect x="768" y="450" width="4" height="5" fill="#fff"/>
<rect x="768" y="484" width="4" height="5" fill="#fff"/>
<rect x="775" y="450" width="3" height="5" fill="#fff"/>
<rect x="775" y="484" width="3" height="5" fill="#fff"/>
<polygon points="703,460 730,460 733,463 733,476 730,479 703,479 700,476 700,463" fill="#000" shape-rendering="geometricPrecision"/>
<polygon points="703.2,462 729.8,462 731,463.2 731,475.8 729.8,477 703.2,477 702,475.8 702,463.2" fill="#fff" shape-rendering="geometricPrecision"/>
<rect x="667" y="499" width="113" height="25" fill="#000"/>
<rect x="668" y="500" width="111" height="23" fill="#fff"/>
<rect x="668" y="507" width="111" height="1" fill="#000"/>
<polygon points="671,502 675,502 676.6,504 676.6,505.5 675,507 671,507 669.4,505.5 669.4,504" fill="#000" shape-rendering="geometricPrecision"/>
<rect x="671" y="504" width="5" height="1" fill="#fff"/>
<polygon points="680,502 684,502 685.6,504 685.6,505.5 684,507 680,507 678.4,505.5 678.4,504" fill="#000" shape-rendering="geometricPrecision"/>
<rect x="680" y="504" width="5" height="1" fill="#fff"/>
<polygon points="690,502 694,502 695.6,504 695.6,505.5 694,507 690,507 688.4,505.5 688.4,504" fill="#000" shape-rendering="geometricPrecision"/>
<rect x="690" y="504" width="5" height="1" fill="#fff"/>
<polygon points="698,502 702,502 703.6,504 703.6,505.5 702,507 698,507 696.4,505.5 696.4,504" fill="#000" shape-rendering="geometricPrecision"/>
<rect x="698" y="504" width="5" height="1" fill="#fff"/>
<polygon points="708,502 712,502 713.6,504 713.6,505.5 712,507 708,507 706.4,505.5 706.4,504" fill="#000" shape-rendering="geometricPrecision"/>
<rect x="708" y="504" width="5" height="1" fill="#fff"/>
<polygon points="717,502 721,502 722.6,504 722.6,505.5 721,507 717,507 715.4,505.5 715.4,504" fill="#000" shape-rendering="geometricPrecision"/>
<rect x="717" y="504" width="5" height="1" fill="#fff"/>
<polygon points="726,502 730,502 731.6,504 731.6,505.5 730,507 726,507 724.4,505.5 724.4,504" fill="#000" shape-rendering="geometricPrecision"/>
<rect x="726" y="504" width="5" height="1" fill="#fff"/>
<polygon points="735,502 739,502 740.6,504 740.6,505.5 739,507 735,507 733.4,505.5 733.4,504" fill="#000" shape-rendering="geometricPrecision"/>
<rect x="735" y="504" width="5" height="1" fill="#fff"/>
<polygon points="745,502 749,502 750.6,504 750.6,505.5 749,507 745,507 743.4,505.5 743.4,504" fill="#000" shape-rendering="geometricPrecision"/>
<rect x="745" y="504" width="5" height="1" fill="#fff"/>
<polygon points="754,502 758,502 759.6,504 759.6,505.5 758,507 754,507 752.4,505.5 752.4,504" fill="#000" shape-rendering="geometricPrecision"/>
<rect x="754" y="504" width="5" height="1" fill="#fff"/>
<polygon points="764,502 768,502 769.6,504 769.6,505.5 768,507 764,507 762.4,505.5 762.4,504" fill="#000" shape-rendering="geometricPrecision"/>
<rect x="764" y="504" width="5" height="1" fill="#fff"/>
<polygon points="773,502 777,502 778.6,504 778.6,505.5 777,507 773,507 771.4,505.5 771.4,504" fill="#000" shape-rendering="geometricPrecision"/>
<rect x="773" y="504" width="5" height="1" fill="#fff"/>
<rect x="669" y="510" width="8" height="2" fill="#000"/>
<rect x="678" y="510" width="9" height="2" fill="#000"/>
<rect x="688" y="510" width="7" height="2" fill="#000"/>
<rect x="696" y="510" width="9" height="2" fill="#000"/>
<rect x="706" y="510" width="8" height="2" fill="#000"/>
<rect x="715" y="510" width="8" height="2" fill="#000"/>
<rect x="724" y="510" width="8" height="2" fill="#000"/>
<rect x="733" y="510" width="9" height="2" fill="#000"/>
<rect x="743" y="510" width="8" height="2" fill="#000"/>
<rect x="752" y="510" width="9" height="2" fill="#000"/>
<rect x="762" y="510" width="8" height="2" fill="#000"/>
<rect x="771" y="510" width="8" height="2" fill="#000"/>
<rect x="673" y="513" width="8" height="8" fill="#000"/>
<rect x="674" y="514" width="6" height="6" fill="#fff"/>
<rect x="683" y="513" width="8" height="8" fill="#000"/>
<rect x="684" y="514" width="6" height="6" fill="#fff"/>
<rect x="692" y="513" width="8" height="8" fill="#000"/>
<rect x="693" y="514" width="6" height="6" fill="#fff"/>
<rect x="702" y="513" width="8" height="8" fill="#000"/>
<rect x="703" y="514" width="6" height="6" fill="#fff"/>
<rect x="711" y="513" width="8" height="8" fill="#000"/>
<rect x="712" y="514" width="6" height="6" fill="#fff"/>
<rect x="720" y="513" width="8" height="8" fill="#000"/>
<rect x="721" y="514" width="6" height="6" fill="#fff"/>
<rect x="729" y="513" width="8" height="8" fill="#000"/>
<rect x="730" y="514" width="6" height="6" fill="#fff"/>
<rect x="738" y="513" width="8" height="8" fill="#000"/>
<rect x="739" y="514" width="6" height="6" fill="#fff"/>
<rect x="747" y="513" width="8" height="8" fill="#000"/>
<rect x="748" y="514" width="6" height="6" fill="#fff"/>
<rect x="757" y="513" width="7" height="8" fill="#000"/>
<rect x="758" y="514" width="5" height="6" fill="#fff"/>
<rect x="767" y="513" width="7" height="8" fill="#000"/>
<rect x="768" y="514" width="5" height="6" fill="#fff"/>
<rect x="667" y="514" width="1" height="6" fill="#fff"/>
<rect x="667" y="513" width="4" height="1" fill="#000"/>
<rect x="670" y="513" width="1" height="4" fill="#000"/>
<rect x="668" y="516" width="3" height="1" fill="#000"/>
<rect x="668" y="518" width="3" height="1" fill="#000"/>
<rect x="670" y="518" width="1" height="3" fill="#000"/>
<rect x="667" y="520" width="4" height="1" fill="#000"/>
<rect x="779" y="515" width="1" height="5" fill="#fff"/>
<rect x="776" y="514" width="4" height="1" fill="#000"/>
<rect x="776" y="514" width="1" height="3" fill="#000"/>
<rect x="776" y="516" width="3" height="1" fill="#000"/>
<rect x="776" y="518" width="3" height="1" fill="#000"/>
<rect x="776" y="518" width="1" height="3" fill="#000"/>
<rect x="776" y="520" width="4" height="1" fill="#000"/>
<polygon points="748,356.3 751,357.6 756,358.5 764,359.5 764,361.5 756,362.5 751,363.4 748,364.7" fill="#000" shape-rendering="geometricPrecision"/>
<polygon points="710,352 746,352 749,355 749,367 746,370 710,370 707,367 707,355" fill="#000" shape-rendering="geometricPrecision"/>
<polygon points="710.2,354 744.8,354 746,355.2 746,366.6 744.8,367.8 710.2,367.8 709,366.6 709,355.2" fill="#fff" shape-rendering="geometricPrecision"/>
<rect x="766" y="358" width="19" height="6" fill="#000"/>
<rect x="767" y="359" width="1" height="4" fill="#fff"/>
<rect x="772" y="359" width="1" height="4" fill="#fff"/>
<rect x="778" y="359" width="1" height="4" fill="#fff"/>
<rect x="713" y="394" width="26" height="7" fill="#000"/>
<rect x="714" y="395" width="1" height="5" fill="#fff"/>
<rect x="720" y="395" width="1" height="5" fill="#fff"/>
<rect x="725" y="395" width="2" height="5" fill="#fff"/>
<rect x="731" y="395" width="1" height="5" fill="#fff"/>
<rect x="737" y="395" width="1" height="5" fill="#fff"/>
<rect x="716" y="396" width="3" height="3" fill="#fff"/>
<polygon points="760,393.3 757,394.6 752,395.5 744,396.5 744,398.5 752,399.5 757,400.4 760,401.7" fill="#000" shape-rendering="geometricPrecision"/>
<polygon points="762,388 782,388 785,391 785,404 782,407 762,407 759,404 759,391" fill="#000" shape-rendering="geometricPrecision"/>
<polygon points="762.2,391 781.3,391 782.5,392.2 782.5,403.3 781.3,404.5 762.2,404.5 761,403.3 761,392.2" fill="#fff" shape-rendering="geometricPrecision"/>
<rect x="816" y="386" width="30" height="38" fill="#000"/>
<rect x="840" y="382" width="6" height="46" fill="#000"/>
<rect x="843" y="380" width="3" height="50" fill="#000"/>
<rect x="813" y="393" width="3" height="24" fill="#000"/>
<rect x="814" y="394" width="2" height="22" fill="#fff"/>
<rect x="809" y="395" width="5" height="9" fill="#000"/>
<rect x="810" y="396" width="3" height="7" fill="#fff"/>
<rect x="809" y="406" width="5" height="9" fill="#000"/>
<rect x="810" y="407" width="3" height="7" fill="#fff"/>
<rect x="814" y="404" width="2" height="2" fill="#000"/>
<polygon points="450,94.2 447,94.2 439.5,96 447,96.8 450,96.8" fill="#fff" shape-rendering="geometricPrecision"/>
<polygon points="25.6,322.6 28.6,320.2 28.6,321.2 26.6,322.9" fill="#fff" shape-rendering="geometricPrecision"/>
<polygon points="23.2,375 23.2,372 24.5,366.9 25.8,372 25.8,375" fill="#fff" shape-rendering="geometricPrecision"/>
<polygon points="65.0,375 65.0,372 66.5,363.5 68.0,372 68.0,375" fill="#fff" shape-rendering="geometricPrecision"/>
<polygon points="511,497.2 514,497.2 521.5,498.8 514,499.8 511,499.8" fill="#fff" shape-rendering="geometricPrecision"/>
<polygon points="621,497.2 618,497.2 610.5,498.8 618,499.8 621,499.8" fill="#fff" shape-rendering="geometricPrecision"/>
<polygon points="745,359.2 748,359.2 755.5,360.5 748,361.8 745,361.8" fill="#fff" shape-rendering="geometricPrecision"/>
<polygon points="763,396.2 760,396.2 752.5,397.5 760,398.8 763,398.8" fill="#fff" shape-rendering="geometricPrecision"/>
<text transform="translate(675.2,56.7) scale(0.756,1)" font-size="12.7" text-anchor="start" letter-spacing="1.7" fill="#000">MH1518</text>
<text transform="translate(106.2,161.8) scale(0.727,1)" font-size="14.3" text-anchor="start" letter-spacing="2.5" fill="#000">BANK 3</text>
<text transform="translate(106.2,242.8) scale(0.727,1)" font-size="14.3" text-anchor="start" letter-spacing="2.5" fill="#000">BANK 2</text>
<text transform="translate(179.2,400.8) scale(0.727,1)" font-size="14.3" text-anchor="start" letter-spacing="2.5" fill="#000">BANK 1</text>
<text transform="translate(179.2,480.8) scale(0.727,1)" font-size="14.3" text-anchor="start" letter-spacing="2.5" fill="#000">BANK 0</text>
<text transform="translate(300.2,104.8) scale(0.727,1)" font-size="14.3" text-anchor="start" letter-spacing="1.65" fill="#000">LOW</text>
<text transform="translate(298.2,203.8) scale(0.727,1)" font-size="14.3" text-anchor="start" letter-spacing="2.6" fill="#000">HIGH</text>
<text transform="translate(378.7,130.8) scale(0.727,1)" font-size="14.3" text-anchor="middle" fill="#000">B</text>
<text transform="translate(378.7,145.8) scale(0.727,1)" font-size="14.3" text-anchor="middle" fill="#000">I</text>
<text transform="translate(378.7,160.8) scale(0.727,1)" font-size="14.3" text-anchor="middle" fill="#000">O</text>
<text transform="translate(378.7,175.8) scale(0.727,1)" font-size="14.3" text-anchor="middle" fill="#000">S</text>
<text transform="translate(449.7,99.8) scale(0.727,1)" font-size="14.3" text-anchor="start" letter-spacing="2.5" fill="#000">JMP3</text>
<text transform="translate(31.7,317.8) scale(0.727,1)" font-size="14.3" text-anchor="start" letter-spacing="2.5" fill="#000">J4</text>
<text transform="translate(17.7,383.8) scale(0.727,1)" font-size="14.3" text-anchor="start" letter-spacing="2.4" fill="#000">J5</text>
<text transform="translate(60.7,383.8) scale(0.727,1)" font-size="14.3" text-anchor="start" fill="#000">J3</text>
<text transform="translate(446.5,409.8) scale(0.727,1)" font-size="14.3" text-anchor="start" letter-spacing="3.1" fill="#000">CPU</text>
<text transform="translate(563.7,461.8) scale(0.727,1)" font-size="14.3" text-anchor="start" letter-spacing="2.5" fill="#000">NPU</text>
<text transform="translate(477.7,502.8) scale(0.727,1)" font-size="14.3" text-anchor="start" letter-spacing="2.5" fill="#000">JMP2</text>
<text transform="translate(621.7,502.8) scale(0.727,1)" font-size="14.3" text-anchor="start" letter-spacing="2.5" fill="#000">JMP1</text>
<text transform="translate(704.2,473.8) scale(0.727,1)" font-size="14.3" text-anchor="start" letter-spacing="2.5" fill="#000">NPU</text>
<text transform="translate(710.7,364.8) scale(0.727,1)" font-size="14.3" text-anchor="start" letter-spacing="2.5" fill="#000">JMP4</text>
<text transform="translate(765.7,401.8) scale(0.727,1)" font-size="14.3" text-anchor="start" letter-spacing="1.1" fill="#000">J2</text>
</svg>
</body></html>
